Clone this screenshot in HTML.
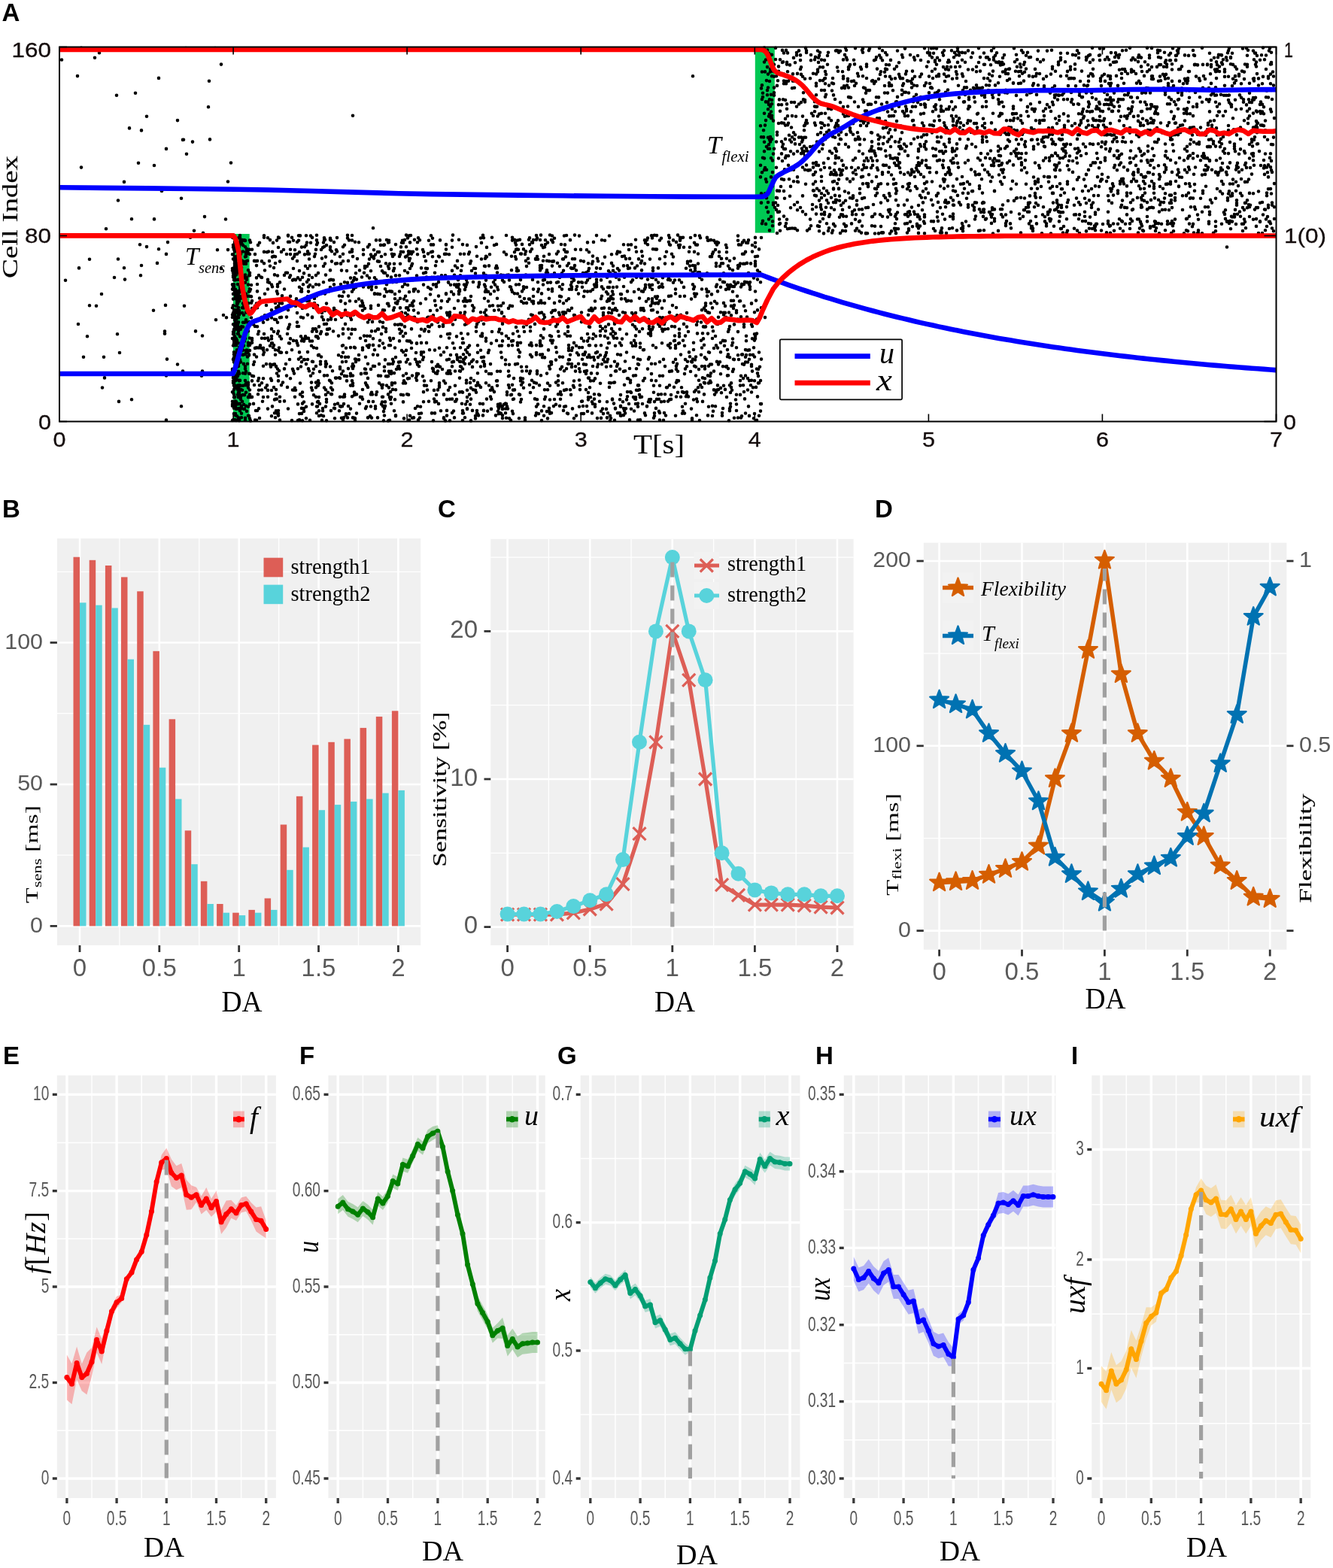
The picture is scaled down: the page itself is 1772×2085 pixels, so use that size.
<!DOCTYPE html>
<html><head><meta charset="utf-8"><title>Figure</title>
<style>html,body{margin:0;padding:0;background:#fff;}svg{display:block;}</style></head>
<body><svg width="1772" height="2085" viewBox="0 0 1772 2085">
<rect width="1772" height="2085" fill="#fff"/>
<rect x="310" y="311" width="21.7" height="249.5" fill="#00c853"/>
<rect x="1003.8" y="62.5" width="26" height="247.1" fill="#00c853"/>
<path d="M221 558.5h0M309 559.0h0M310 558.4h0M312 558.4h0M313 558.4h0M314 558.9h0M318 558.5h0M318 559.1h0M326 558.8h0M333 559.4h0M339 558.5h0M341 558.7h0M372 558.6h0M388 559.1h0M396 559.0h0M398 558.4h0M402 559.2h0M412 558.7h0M428 558.9h0M434 559.3h0M456 558.6h0M472 559.0h0M510 559.2h0M516 559.5h0M518 558.8h0M544 558.5h0M556 558.4h0M576 559.3h0M592 559.4h0M598 559.2h0M615 559.0h0M626 559.4h0M679 558.9h0M698 558.4h0M720 559.1h0M811 559.3h0M817 558.8h0M837 558.4h0M848 558.5h0M851 558.4h0M877 558.5h0M882 558.8h0M920 558.4h0M930 559.0h0M969 559.3h0M1006 558.7h0M317 555.4h0M317 555.5h0M318 555.8h0M321 555.2h0M326 555.7h0M332 556.4h0M345 556.0h0M366 555.3h0M407 556.2h0M445 556.2h0M454 555.7h0M456 556.0h0M457 555.3h0M462 555.4h0M469 555.3h0M469 555.4h0M471 555.7h0M472 556.3h0M489 555.4h0M494 555.6h0M502 555.4h0M537 556.4h0M548 555.8h0M550 555.4h0M558 555.5h0M590 555.4h0M590 556.4h0M604 555.4h0M618 555.3h0M632 556.4h0M668 556.1h0M673 555.7h0M677 556.2h0M690 556.2h0M698 555.5h0M728 556.4h0M763 556.2h0M794 556.1h0M799 555.9h0M807 555.3h0M807 555.6h0M812 556.1h0M869 555.8h0M920 556.4h0M976 555.7h0M981 555.5h0M985 555.5h0M1002 556.3h0M313 552.2h0M315 553.2h0M330 552.7h0M331 553.1h0M361 553.3h0M370 552.6h0M424 553.0h0M427 552.3h0M430 553.2h0M460 552.3h0M492 553.3h0M511 552.5h0M526 552.3h0M526 553.3h0M545 552.8h0M594 552.6h0M632 553.1h0M636 552.4h0M642 552.4h0M659 552.4h0M668 552.3h0M712 552.5h0M723 552.8h0M766 552.6h0M811 552.7h0M825 552.7h0M826 552.6h0M829 552.1h0M858 552.3h0M870 553.0h0M885 552.5h0M898 552.8h0M926 552.2h0M941 552.4h0M947 553.0h0M960 552.8h0M986 553.2h0M996 552.9h0M1009 552.7h0M311 550.1h0M313 550.1h0M321 549.7h0M365 549.2h0M368 549.5h0M369 549.3h0M370 549.8h0M398 550.1h0M401 549.9h0M421 549.2h0M460 550.2h0M464 550.1h0M474 549.6h0M557 550.0h0M560 549.5h0M574 549.4h0M578 549.4h0M601 549.0h0M615 549.5h0M616 549.4h0M634 549.6h0M635 550.2h0M663 550.2h0M665 549.3h0M666 549.9h0M672 549.2h0M682 550.1h0M713 549.3h0M716 550.1h0M731 549.8h0M733 549.1h0M754 549.5h0M755 550.1h0M773 550.0h0M775 550.0h0M776 550.0h0M787 549.4h0M802 550.1h0M808 549.2h0M821 549.3h0M823 549.2h0M824 549.2h0M831 549.4h0M857 549.4h0M870 549.2h0M877 549.0h0M883 549.0h0M907 549.7h0M910 549.6h0M960 549.1h0M991 549.5h0M1003 550.0h0M319 546.3h0M328 546.7h0M340 546.0h0M342 546.0h0M367 546.2h0M370 546.0h0M404 546.9h0M424 546.2h0M429 546.2h0M440 546.1h0M451 546.2h0M510 547.1h0M524 546.2h0M586 546.3h0M594 545.9h0M603 546.5h0M615 546.1h0M628 545.9h0M634 546.0h0M643 545.9h0M643 546.3h0M648 546.6h0M662 546.8h0M681 546.8h0M720 546.4h0M727 547.1h0M730 546.8h0M749 545.9h0M781 547.0h0M799 546.8h0M830 546.1h0M843 546.5h0M876 546.9h0M908 546.6h0M948 546.7h0M970 546.2h0M970 546.1h0M979 546.0h0M1011 546.6h0M311 542.8h0M314 543.7h0M316 543.4h0M319 542.9h0M321 542.9h0M324 543.7h0M325 543.7h0M344 543.2h0M356 543.6h0M383 543.5h0M401 542.9h0M404 543.1h0M429 543.1h0M444 542.8h0M445 543.1h0M466 543.6h0M486 543.1h0M499 543.3h0M511 542.9h0M552 543.0h0M621 543.9h0M621 543.3h0M653 543.9h0M663 543.1h0M668 543.9h0M672 543.5h0M675 543.4h0M730 542.9h0M761 543.4h0M801 543.6h0M806 543.9h0M818 542.8h0M818 543.4h0M829 543.1h0M832 543.2h0M839 543.8h0M839 543.7h0M872 542.9h0M919 543.6h0M961 543.1h0M970 543.3h0M241 540.2h0M309 539.8h0M313 540.0h0M321 540.0h0M327 539.9h0M330 540.8h0M362 540.4h0M407 540.8h0M421 540.5h0M422 540.5h0M433 540.6h0M452 540.0h0M453 540.8h0M455 540.2h0M463 540.0h0M487 540.8h0M493 540.5h0M499 540.3h0M509 539.9h0M512 539.9h0M555 540.3h0M559 540.8h0M662 540.2h0M665 539.9h0M666 540.1h0M668 540.0h0M674 540.4h0M713 540.6h0M723 540.2h0M736 540.1h0M744 539.7h0M750 540.8h0M752 540.3h0M770 540.7h0M775 540.0h0M780 540.1h0M791 540.8h0M825 540.7h0M825 539.7h0M848 540.7h0M860 540.4h0M860 540.1h0M907 540.7h0M942 540.8h0M947 539.8h0M951 540.3h0M971 540.8h0M995 540.4h0M309 537.5h0M310 537.7h0M312 536.9h0M313 536.9h0M315 537.4h0M315 536.6h0M317 537.3h0M318 536.8h0M319 536.9h0M324 537.7h0M332 537.6h0M337 536.9h0M396 537.4h0M402 536.6h0M415 537.4h0M425 536.9h0M445 537.7h0M449 536.6h0M457 537.1h0M478 536.8h0M507 537.4h0M520 536.8h0M583 536.9h0M614 536.8h0M619 537.5h0M625 537.7h0M638 536.8h0M642 537.1h0M662 537.7h0M665 537.0h0M670 537.7h0M672 536.6h0M673 537.0h0M715 537.6h0M739 537.8h0M788 537.0h0M791 537.7h0M816 536.6h0M836 537.0h0M845 537.0h0M848 536.6h0M854 537.0h0M911 536.7h0M971 536.8h0M979 537.5h0M1011 537.1h0M1012 537.1h0M158 533.9h0M309 533.9h0M313 534.4h0M313 533.5h0M313 534.5h0M314 534.3h0M322 533.8h0M349 533.8h0M372 533.8h0M378 533.4h0M404 534.5h0M422 534.6h0M423 533.7h0M434 534.6h0M490 533.9h0M496 534.0h0M508 534.6h0M512 534.4h0M536 534.4h0M563 534.2h0M570 533.8h0M578 534.4h0M580 533.7h0M605 533.7h0M606 533.5h0M621 533.8h0M692 534.5h0M773 533.8h0M774 533.6h0M787 534.3h0M797 533.7h0M807 534.2h0M828 534.3h0M862 534.2h0M864 534.5h0M870 534.1h0M879 534.3h0M883 533.7h0M888 533.6h0M927 534.1h0M934 533.9h0M175 531.3h0M320 530.9h0M365 531.4h0M366 530.7h0M368 530.6h0M434 531.0h0M482 530.8h0M519 530.9h0M525 531.3h0M577 530.5h0M594 531.1h0M598 530.8h0M601 530.6h0M607 531.1h0M626 530.6h0M626 530.7h0M647 530.6h0M653 530.6h0M682 531.0h0M683 530.5h0M693 531.0h0M711 530.4h0M714 531.2h0M724 530.7h0M731 531.5h0M737 531.0h0M745 530.8h0M782 531.5h0M790 530.6h0M814 530.6h0M814 531.4h0M824 531.3h0M833 531.4h0M844 530.5h0M845 531.0h0M863 531.4h0M865 531.1h0M873 530.9h0M876 530.7h0M890 531.4h0M892 530.9h0M922 531.5h0M926 530.5h0M978 531.5h0M990 530.4h0M311 528.2h0M312 528.2h0M312 527.7h0M317 528.2h0M317 527.5h0M318 527.8h0M320 527.5h0M330 528.3h0M330 527.9h0M333 528.2h0M335 527.9h0M350 528.0h0M356 527.7h0M372 527.7h0M392 527.8h0M402 527.2h0M420 527.8h0M424 528.1h0M452 527.8h0M456 527.8h0M458 527.4h0M468 527.3h0M479 527.8h0M479 528.0h0M481 528.1h0M508 527.8h0M509 527.8h0M518 528.4h0M520 528.2h0M621 528.1h0M652 527.5h0M725 527.8h0M782 528.3h0M785 528.2h0M834 527.3h0M842 528.1h0M845 528.3h0M851 528.2h0M853 527.8h0M899 527.5h0M905 527.8h0M912 527.3h0M915 527.4h0M966 528.0h0M1007 527.4h0M311 524.5h0M316 524.8h0M318 525.2h0M319 525.3h0M323 525.1h0M325 525.3h0M332 524.5h0M343 524.3h0M367 524.2h0M399 524.4h0M417 525.3h0M433 524.9h0M440 524.1h0M441 524.3h0M458 524.6h0M471 525.2h0M474 524.4h0M493 524.1h0M493 524.5h0M495 524.5h0M500 524.8h0M516 524.4h0M533 524.7h0M536 525.2h0M541 524.3h0M543 524.9h0M580 525.0h0M590 524.4h0M590 524.9h0M605 524.5h0M624 524.6h0M674 525.0h0M679 525.2h0M680 524.7h0M690 524.4h0M691 525.0h0M691 524.8h0M742 524.3h0M746 524.8h0M759 524.9h0M790 524.3h0M796 524.5h0M797 525.2h0M825 525.0h0M825 525.1h0M850 524.7h0M875 524.6h0M879 524.2h0M884 524.2h0M892 525.0h0M913 525.1h0M936 524.4h0M950 524.6h0M979 524.7h0M984 524.9h0M309 521.3h0M310 521.9h0M317 521.9h0M318 522.0h0M318 521.3h0M327 521.8h0M402 521.6h0M436 521.8h0M471 521.5h0M494 521.7h0M501 521.2h0M519 521.1h0M563 521.2h0M563 521.1h0M611 521.4h0M614 521.0h0M615 521.8h0M633 521.8h0M657 521.1h0M674 521.4h0M705 522.0h0M745 521.1h0M782 522.1h0M834 521.1h0M838 521.1h0M839 522.0h0M869 521.8h0M901 521.8h0M907 521.1h0M909 521.9h0M913 521.4h0M923 521.0h0M929 521.3h0M952 521.4h0M959 522.2h0M971 522.0h0M989 521.0h0M999 521.5h0M311 518.1h0M316 518.0h0M320 517.9h0M322 518.8h0M332 518.5h0M344 518.8h0M348 518.5h0M356 518.9h0M361 519.0h0M367 518.1h0M389 518.5h0M391 518.6h0M393 518.8h0M415 518.8h0M433 518.3h0M442 518.4h0M482 518.0h0M522 517.9h0M526 518.2h0M568 518.5h0M577 518.9h0M582 518.4h0M596 518.8h0M621 518.7h0M629 518.3h0M632 518.9h0M652 518.8h0M655 518.4h0M682 518.6h0M684 518.4h0M724 518.2h0M728 518.2h0M750 518.9h0M753 518.1h0M758 518.3h0M771 518.1h0M779 518.1h0M846 518.8h0M848 519.0h0M850 518.3h0M925 518.8h0M949 518.4h0M953 518.6h0M955 518.1h0M964 517.9h0M973 518.8h0M994 518.5h0M136 515.5h0M312 515.9h0M314 515.5h0M317 515.3h0M317 515.6h0M330 515.6h0M353 515.5h0M364 515.1h0M382 514.9h0M392 515.7h0M414 515.5h0M420 515.3h0M431 515.5h0M440 515.6h0M489 515.0h0M508 515.7h0M517 515.4h0M584 514.8h0M598 515.0h0M626 515.9h0M639 514.9h0M654 515.4h0M677 515.4h0M696 515.8h0M709 515.3h0M763 515.0h0M784 515.2h0M810 514.9h0M886 515.2h0M887 515.1h0M896 514.8h0M906 515.3h0M928 515.2h0M933 515.0h0M958 515.9h0M972 515.0h0M1001 515.2h0M1005 514.9h0M311 512.3h0M311 512.8h0M312 512.4h0M316 512.6h0M318 512.0h0M320 512.7h0M323 512.7h0M326 512.1h0M328 512.2h0M330 511.7h0M338 512.0h0M345 512.2h0M355 512.4h0M374 512.1h0M422 512.7h0M423 512.6h0M466 512.6h0M469 512.7h0M487 511.7h0M488 512.8h0M507 512.0h0M509 511.8h0M514 512.6h0M521 511.8h0M564 512.6h0M567 512.7h0M584 512.6h0M605 512.7h0M633 512.7h0M637 512.5h0M650 512.5h0M661 512.7h0M676 512.0h0M681 511.8h0M693 511.7h0M704 511.8h0M717 512.3h0M731 512.7h0M731 512.7h0M742 512.3h0M762 512.7h0M771 512.2h0M830 511.7h0M848 512.4h0M849 512.4h0M869 512.8h0M877 512.8h0M890 512.2h0M931 511.7h0M954 512.4h0M962 512.7h0M970 512.2h0M984 512.6h0M988 512.2h0M998 512.3h0M310 509.1h0M311 509.2h0M327 509.5h0M330 508.9h0M348 509.3h0M376 508.6h0M399 509.6h0M414 508.6h0M420 508.6h0M424 509.6h0M441 509.3h0M469 509.6h0M486 509.3h0M504 509.4h0M521 509.4h0M525 509.3h0M536 509.5h0M538 508.8h0M539 509.5h0M584 509.3h0M592 509.5h0M620 509.2h0M625 508.9h0M635 508.9h0M646 509.3h0M695 508.6h0M710 508.6h0M713 509.5h0M728 509.6h0M739 508.6h0M748 509.3h0M798 509.7h0M810 509.0h0M812 509.3h0M816 508.7h0M817 508.5h0M838 508.7h0M899 508.6h0M936 508.7h0M937 509.4h0M942 509.4h0M945 508.6h0M972 509.4h0M1008 509.4h0M1009 509.3h0M310 506.6h0M313 505.4h0M313 506.2h0M317 505.5h0M318 506.3h0M318 506.5h0M319 505.9h0M326 506.0h0M335 506.4h0M343 506.2h0M361 505.9h0M370 506.4h0M423 506.4h0M438 505.8h0M439 506.6h0M461 506.4h0M468 506.2h0M537 506.4h0M554 505.8h0M564 506.5h0M573 506.3h0M590 506.5h0M620 505.8h0M620 505.7h0M630 506.1h0M660 506.5h0M661 506.4h0M692 506.5h0M707 505.8h0M742 506.4h0M763 506.5h0M770 505.5h0M785 506.4h0M789 506.3h0M838 505.7h0M855 506.2h0M866 505.7h0M872 506.3h0M900 506.0h0M902 506.4h0M929 505.7h0M944 506.5h0M984 506.1h0M996 506.1h0M999 505.7h0M1003 506.3h0M1011 506.1h0M139 502.4h0M310 502.4h0M313 503.3h0M313 503.0h0M314 502.9h0M314 502.4h0M344 503.0h0M350 503.3h0M360 503.5h0M386 503.3h0M446 502.6h0M447 502.6h0M451 502.4h0M452 503.0h0M489 502.9h0M542 503.4h0M544 503.0h0M553 502.5h0M611 502.6h0M626 503.1h0M683 503.1h0M692 502.9h0M695 503.5h0M782 502.6h0M783 502.6h0M791 503.4h0M834 503.3h0M835 503.3h0M857 503.1h0M934 502.4h0M937 503.2h0M988 503.1h0M994 503.0h0M221 499.5h0M268 499.8h0M310 499.4h0M312 499.2h0M315 499.4h0M315 500.3h0M316 500.3h0M335 499.7h0M337 500.3h0M370 500.0h0M381 499.6h0M413 499.8h0M431 499.4h0M435 499.3h0M458 499.9h0M461 500.3h0M466 499.7h0M469 499.5h0M503 499.6h0M506 499.8h0M513 500.3h0M515 500.4h0M516 500.3h0M536 499.5h0M548 499.5h0M554 499.4h0M562 500.4h0M676 500.3h0M677 499.6h0M719 499.3h0M742 499.6h0M812 499.2h0M842 499.6h0M845 499.2h0M877 499.8h0M881 499.7h0M925 499.5h0M941 499.4h0M944 500.1h0M967 499.4h0M968 499.3h0M985 499.8h0M991 499.5h0M1008 500.1h0M162 496.2h0M310 497.0h0M310 497.1h0M311 497.1h0M316 496.7h0M316 497.2h0M318 497.1h0M318 496.3h0M323 496.3h0M326 496.8h0M326 496.7h0M331 496.7h0M332 497.0h0M368 496.5h0M391 496.6h0M416 496.2h0M454 497.2h0M466 496.7h0M480 496.7h0M480 497.3h0M485 496.3h0M487 496.4h0M518 496.1h0M520 496.9h0M524 496.1h0M540 496.8h0M554 496.9h0M556 497.1h0M579 496.1h0M581 496.7h0M594 496.4h0M596 496.6h0M599 496.8h0M635 496.3h0M650 497.0h0M653 497.1h0M704 496.6h0M714 497.1h0M727 496.6h0M779 497.0h0M786 496.4h0M794 496.6h0M866 497.1h0M910 497.1h0M945 496.2h0M958 497.2h0M1007 496.4h0M243 493.6h0M269 493.5h0M309 493.1h0M317 493.9h0M327 494.0h0M371 493.0h0M390 493.3h0M411 493.3h0M425 494.1h0M442 493.3h0M456 493.5h0M511 493.3h0M517 493.8h0M520 493.7h0M576 493.6h0M582 493.5h0M596 493.2h0M598 493.1h0M605 493.5h0M611 493.3h0M612 493.6h0M646 493.7h0M661 493.8h0M665 493.8h0M676 493.6h0M694 493.5h0M700 493.3h0M705 493.6h0M714 493.7h0M714 493.4h0M750 493.3h0M765 493.6h0M771 494.2h0M777 493.9h0M780 493.1h0M818 493.5h0M819 493.4h0M829 493.9h0M831 493.3h0M890 493.9h0M893 493.4h0M901 493.8h0M918 494.0h0M949 493.6h0M974 493.9h0M1000 493.6h0M309 490.9h0M309 490.8h0M311 490.5h0M326 490.4h0M369 490.6h0M378 490.4h0M389 490.7h0M396 490.3h0M410 490.3h0M417 490.8h0M452 490.5h0M463 490.1h0M469 490.0h0M485 490.6h0M486 491.0h0M493 490.9h0M527 491.0h0M531 490.4h0M575 489.9h0M576 490.5h0M588 491.0h0M615 490.5h0M731 490.5h0M745 490.7h0M753 490.3h0M770 490.3h0M824 490.7h0M837 490.0h0M846 490.3h0M861 490.6h0M899 491.0h0M911 490.4h0M929 491.1h0M937 490.5h0M968 490.1h0M975 491.0h0M1006 490.5h0M1008 490.9h0M314 487.3h0M315 487.1h0M316 487.4h0M317 487.0h0M326 487.2h0M350 486.8h0M360 487.7h0M367 487.6h0M367 487.1h0M400 487.5h0M420 487.0h0M433 487.4h0M439 487.5h0M452 488.0h0M468 487.2h0M470 486.9h0M496 486.9h0M498 487.0h0M511 487.7h0M529 487.7h0M530 486.8h0M557 487.1h0M580 487.2h0M583 487.1h0M585 487.8h0M601 487.2h0M612 487.2h0M613 487.8h0M628 487.9h0M639 487.5h0M644 486.8h0M693 487.8h0M700 487.8h0M730 487.1h0M747 487.9h0M760 487.9h0M765 487.2h0M788 487.0h0M794 487.8h0M806 487.7h0M812 487.0h0M820 487.0h0M884 487.1h0M899 486.9h0M913 487.2h0M923 486.8h0M925 487.7h0M933 487.1h0M937 487.1h0M942 486.8h0M961 487.2h0M965 487.6h0M966 487.1h0M999 486.9h0M1010 487.8h0M236 484.5h0M317 483.9h0M324 483.9h0M329 483.8h0M337 484.7h0M354 484.1h0M359 484.4h0M363 484.7h0M365 484.3h0M380 484.0h0M407 484.1h0M426 484.3h0M433 484.1h0M434 483.9h0M469 484.0h0M489 483.8h0M504 484.1h0M516 484.0h0M518 484.0h0M522 483.8h0M545 484.0h0M555 484.7h0M582 484.7h0M618 483.8h0M624 483.7h0M644 484.4h0M652 484.1h0M672 484.5h0M677 484.7h0M685 484.4h0M688 483.8h0M733 484.5h0M755 483.7h0M756 483.8h0M760 484.0h0M769 483.7h0M776 484.4h0M779 484.7h0M795 484.5h0M800 484.2h0M821 484.1h0M821 484.6h0M848 484.0h0M849 484.7h0M866 483.7h0M871 483.8h0M900 483.9h0M944 484.5h0M946 484.5h0M955 484.5h0M987 484.0h0M989 484.8h0M999 484.8h0M311 481.1h0M311 481.4h0M313 481.1h0M320 481.4h0M320 481.4h0M338 481.2h0M401 481.3h0M415 480.8h0M416 481.0h0M426 480.8h0M433 480.7h0M455 481.3h0M460 480.8h0M473 481.1h0M523 481.0h0M530 481.6h0M532 481.2h0M540 481.5h0M554 481.4h0M558 481.3h0M574 481.1h0M601 481.5h0M603 480.9h0M611 480.8h0M612 480.9h0M616 481.4h0M627 480.7h0M634 481.1h0M642 480.7h0M643 480.5h0M732 481.4h0M733 481.4h0M804 481.2h0M807 481.1h0M817 480.8h0M831 480.5h0M877 481.3h0M895 481.7h0M914 480.8h0M919 480.7h0M920 481.5h0M953 480.9h0M957 481.3h0M991 481.6h0M994 481.5h0M222 477.6h0M310 477.9h0M312 477.9h0M316 477.7h0M316 478.1h0M319 478.4h0M385 478.0h0M397 477.6h0M404 478.1h0M405 478.2h0M409 478.0h0M472 477.5h0M473 477.9h0M477 478.3h0M477 478.4h0M512 478.4h0M522 477.8h0M542 478.0h0M552 477.8h0M562 478.2h0M594 478.5h0M597 477.8h0M608 478.1h0M616 477.7h0M617 477.8h0M629 478.6h0M672 478.5h0M739 478.6h0M756 478.4h0M757 478.2h0M774 477.8h0M790 478.6h0M802 478.2h0M808 477.8h0M848 477.5h0M851 478.2h0M862 477.5h0M882 477.9h0M898 477.9h0M911 478.1h0M921 477.6h0M924 478.5h0M939 477.6h0M975 477.7h0M976 478.1h0M982 478.0h0M996 477.7h0M1012 477.6h0M111 474.8h0M138 474.8h0M311 475.2h0M314 474.4h0M329 474.4h0M341 474.5h0M400 475.0h0M427 474.5h0M454 474.4h0M459 474.8h0M459 475.0h0M463 474.7h0M486 474.8h0M526 475.1h0M563 475.0h0M608 475.4h0M612 475.2h0M619 475.2h0M640 475.3h0M643 474.8h0M667 475.4h0M690 474.4h0M707 474.4h0M721 475.3h0M724 475.4h0M744 474.6h0M748 474.8h0M781 475.0h0M783 474.3h0M785 475.3h0M789 475.0h0M795 475.1h0M804 474.5h0M842 475.0h0M863 475.3h0M917 474.3h0M925 474.5h0M937 475.4h0M967 474.3h0M970 475.3h0M991 474.8h0M1003 474.5h0M311 471.3h0M312 471.5h0M318 471.9h0M318 471.4h0M319 471.8h0M323 471.6h0M323 471.9h0M326 471.2h0M331 472.4h0M331 471.4h0M338 471.5h0M350 471.5h0M366 471.8h0M423 472.4h0M424 471.9h0M450 472.2h0M477 472.0h0M496 471.6h0M502 472.1h0M539 472.3h0M560 471.6h0M586 472.1h0M599 472.0h0M607 471.9h0M616 471.3h0M624 471.6h0M705 471.8h0M713 471.5h0M718 471.6h0M721 471.2h0M758 471.7h0M769 471.9h0M775 471.4h0M777 471.6h0M783 472.1h0M798 472.3h0M805 472.3h0M821 471.3h0M825 471.9h0M905 471.6h0M932 471.7h0M968 471.3h0M981 472.3h0M986 471.5h0M987 471.4h0M992 472.0h0M997 471.7h0M1001 471.9h0M159 469.0h0M311 468.2h0M315 469.1h0M316 468.2h0M317 468.7h0M327 469.2h0M329 468.5h0M351 468.6h0M372 468.5h0M373 468.6h0M374 468.8h0M381 468.7h0M398 468.4h0M409 468.1h0M456 468.8h0M536 468.1h0M553 469.0h0M560 468.2h0M563 468.3h0M590 468.2h0M621 468.6h0M635 468.8h0M649 468.9h0M666 468.5h0M691 468.4h0M713 469.0h0M740 468.5h0M767 469.3h0M778 468.4h0M792 469.2h0M794 468.1h0M806 468.9h0M833 468.5h0M916 468.4h0M942 468.2h0M942 468.2h0M943 468.7h0M958 468.3h0M1009 468.5h0M315 465.2h0M315 465.9h0M316 466.1h0M317 465.7h0M318 465.9h0M322 466.1h0M323 465.8h0M323 465.7h0M327 466.0h0M328 465.6h0M332 466.1h0M350 465.2h0M355 465.3h0M366 465.2h0M370 465.9h0M388 465.3h0M482 465.2h0M498 465.2h0M534 466.0h0M540 465.9h0M571 465.3h0M578 465.6h0M619 465.2h0M639 465.7h0M650 465.7h0M689 465.2h0M729 465.4h0M756 466.0h0M760 466.0h0M855 465.3h0M856 465.1h0M922 465.0h0M967 465.1h0M991 465.1h0M994 465.8h0M996 465.4h0M318 461.9h0M319 462.8h0M319 462.5h0M321 462.4h0M322 461.9h0M339 462.9h0M341 462.4h0M344 462.4h0M347 462.7h0M350 462.7h0M363 462.0h0M371 462.5h0M417 462.3h0M421 463.0h0M460 462.7h0M466 462.1h0M471 461.9h0M472 462.5h0M482 462.5h0M490 461.9h0M511 462.6h0M525 462.5h0M547 463.0h0M584 462.7h0M594 462.2h0M604 463.0h0M612 462.3h0M622 462.0h0M739 461.9h0M756 463.0h0M761 462.6h0M770 462.1h0M774 462.0h0M807 462.8h0M851 461.9h0M872 462.2h0M891 462.5h0M898 463.0h0M898 462.8h0M933 462.5h0M949 463.0h0M954 462.6h0M979 462.3h0M1002 462.3h0M310 459.5h0M312 459.0h0M314 459.1h0M324 459.6h0M330 459.3h0M332 458.9h0M346 459.4h0M359 459.7h0M364 459.0h0M396 459.3h0M414 459.7h0M455 459.8h0M456 459.2h0M488 459.7h0M491 458.9h0M496 458.9h0M504 459.7h0M517 459.3h0M519 459.2h0M624 459.6h0M635 459.3h0M664 459.7h0M667 459.6h0M676 459.4h0M681 459.2h0M688 459.2h0M688 459.0h0M704 458.8h0M707 459.6h0M713 459.1h0M718 459.7h0M720 459.5h0M756 459.0h0M766 459.7h0M783 459.2h0M784 459.3h0M792 459.6h0M799 459.2h0M818 459.7h0M826 459.2h0M841 459.9h0M845 459.9h0M868 459.2h0M888 459.1h0M889 459.7h0M898 459.4h0M910 459.8h0M936 458.8h0M952 459.3h0M963 459.8h0M973 459.3h0M311 456.6h0M313 456.5h0M315 455.7h0M317 456.3h0M330 455.8h0M333 456.6h0M335 455.7h0M361 456.3h0M362 456.4h0M384 456.2h0M385 456.5h0M395 456.3h0M509 456.6h0M547 455.8h0M554 456.3h0M554 456.8h0M560 455.9h0M567 455.9h0M602 456.3h0M615 456.1h0M616 456.0h0M653 456.6h0M688 455.9h0M692 455.7h0M706 456.1h0M718 456.2h0M734 456.1h0M763 455.9h0M809 456.3h0M810 456.0h0M824 456.1h0M839 456.0h0M845 456.6h0M851 456.5h0M880 456.3h0M891 456.8h0M902 456.7h0M903 456.2h0M922 455.7h0M958 455.7h0M974 455.8h0M311 453.3h0M313 452.9h0M314 453.5h0M314 453.6h0M315 452.6h0M315 453.5h0M323 453.3h0M325 453.6h0M335 452.6h0M357 452.6h0M390 452.9h0M394 453.2h0M401 453.2h0M404 453.6h0M412 453.5h0M415 453.5h0M486 453.0h0M486 453.0h0M505 452.8h0M519 452.6h0M531 453.4h0M541 453.3h0M543 453.5h0M545 453.6h0M646 453.6h0M660 452.9h0M668 453.4h0M680 453.6h0M682 453.1h0M718 453.2h0M732 452.6h0M735 452.8h0M776 453.5h0M781 453.6h0M781 453.2h0M843 452.9h0M896 453.3h0M897 452.9h0M908 452.8h0M932 452.7h0M961 452.9h0M962 453.2h0M964 453.2h0M992 453.2h0M1003 452.6h0M309 450.1h0M310 449.9h0M313 449.6h0M313 450.5h0M314 450.4h0M324 449.6h0M325 450.5h0M326 450.0h0M332 449.5h0M335 450.0h0M348 449.8h0M352 449.9h0M356 449.6h0M361 450.5h0M374 450.5h0M374 450.5h0M386 450.4h0M402 450.2h0M406 450.3h0M409 449.7h0M410 449.9h0M423 449.8h0M464 449.5h0M479 449.7h0M496 450.3h0M518 449.5h0M523 450.1h0M597 449.5h0M615 450.2h0M646 449.8h0M676 450.0h0M722 449.4h0M773 449.9h0M783 449.5h0M788 450.3h0M808 449.6h0M816 449.6h0M820 449.7h0M827 450.6h0M935 450.4h0M947 450.0h0M974 450.5h0M1000 450.2h0M1004 450.2h0M116 447.2h0M269 446.5h0M312 447.2h0M312 447.3h0M319 447.4h0M361 447.0h0M372 447.3h0M400 447.3h0M406 447.4h0M420 447.4h0M422 447.5h0M450 446.6h0M484 446.6h0M488 446.8h0M492 446.9h0M536 447.1h0M558 446.8h0M586 447.2h0M607 447.4h0M639 446.8h0M641 447.1h0M673 446.7h0M690 447.3h0M719 446.3h0M731 446.3h0M733 447.3h0M743 447.0h0M754 446.7h0M758 446.7h0M792 447.0h0M798 446.4h0M804 447.1h0M815 447.1h0M845 446.4h0M865 446.3h0M897 446.5h0M903 447.4h0M911 446.6h0M951 447.0h0M992 446.8h0M1004 447.4h0M156 444.2h0M219 443.8h0M219 443.4h0M310 444.2h0M311 443.6h0M311 443.8h0M316 443.8h0M317 444.3h0M327 443.3h0M343 444.3h0M351 444.0h0M369 443.6h0M382 444.0h0M426 443.8h0M434 444.4h0M435 444.2h0M456 443.9h0M467 444.1h0M507 444.1h0M532 443.2h0M539 443.3h0M595 444.3h0M598 443.9h0M613 443.2h0M622 444.1h0M641 443.5h0M667 443.5h0M682 443.7h0M751 444.0h0M781 444.0h0M789 444.3h0M812 444.0h0M818 443.4h0M833 444.2h0M862 443.6h0M865 443.8h0M903 443.4h0M927 443.4h0M934 443.2h0M941 443.6h0M1003 444.3h0M1006 443.6h0M219 440.6h0M260 440.4h0M310 441.2h0M311 440.3h0M317 440.6h0M327 441.0h0M330 440.3h0M344 440.7h0M364 441.0h0M370 440.5h0M415 440.7h0M421 440.8h0M427 441.0h0M427 441.1h0M443 440.5h0M494 440.4h0M499 440.2h0M513 441.0h0M534 440.6h0M564 440.2h0M570 440.8h0M633 440.8h0M654 441.0h0M663 441.2h0M688 440.5h0M697 441.0h0M705 440.3h0M742 440.7h0M755 440.9h0M798 440.2h0M805 440.1h0M815 440.7h0M850 440.9h0M865 440.6h0M881 440.4h0M915 441.0h0M948 440.3h0M968 441.0h0M981 441.1h0M311 438.0h0M312 437.8h0M315 437.7h0M315 437.0h0M318 437.9h0M318 437.2h0M320 437.8h0M361 437.4h0M383 437.0h0M416 437.3h0M417 437.7h0M419 437.3h0M420 437.5h0M435 437.9h0M436 437.9h0M438 437.2h0M456 437.4h0M463 437.6h0M468 437.9h0M472 438.0h0M502 437.6h0M503 437.9h0M503 437.6h0M513 437.0h0M531 437.8h0M547 437.4h0M560 437.7h0M565 438.0h0M664 437.9h0M723 437.4h0M801 437.0h0M813 437.1h0M824 437.8h0M846 437.5h0M854 437.2h0M863 437.3h0M867 437.8h0M880 437.5h0M884 437.8h0M888 437.3h0M903 437.8h0M969 437.9h0M312 433.9h0M313 433.9h0M317 434.7h0M321 434.3h0M323 434.6h0M339 433.9h0M342 434.3h0M384 434.8h0M395 434.0h0M397 434.0h0M424 434.4h0M509 434.9h0M538 434.4h0M569 434.0h0M571 434.5h0M584 434.1h0M589 433.9h0M633 434.7h0M686 435.0h0M696 434.7h0M705 434.8h0M739 434.0h0M739 434.1h0M755 434.3h0M755 434.8h0M783 434.4h0M784 434.9h0M798 433.9h0M805 434.6h0M844 434.4h0M863 434.1h0M868 434.9h0M877 434.0h0M893 434.0h0M897 434.4h0M913 434.6h0M935 434.4h0M937 434.7h0M938 434.4h0M947 434.7h0M970 434.1h0M989 434.7h0M1000 434.0h0M104 431.0h0M310 431.2h0M313 431.7h0M316 431.6h0M316 430.8h0M331 430.8h0M332 431.0h0M337 431.5h0M385 431.5h0M431 431.0h0M434 430.8h0M459 430.9h0M525 431.6h0M529 431.7h0M532 431.3h0M534 431.7h0M574 431.8h0M574 431.8h0M589 431.7h0M602 431.5h0M618 431.7h0M620 430.8h0M634 431.1h0M643 430.7h0M668 430.8h0M700 431.7h0M711 430.9h0M731 431.0h0M741 430.9h0M809 431.4h0M817 430.8h0M841 431.8h0M875 430.9h0M883 431.1h0M909 430.9h0M926 431.9h0M953 430.7h0M954 430.9h0M976 431.4h0M989 431.3h0M999 431.5h0M313 428.7h0M317 428.5h0M317 428.4h0M323 428.7h0M325 428.8h0M329 428.5h0M332 428.0h0M339 427.7h0M350 428.8h0M369 428.7h0M395 428.6h0M489 428.5h0M495 427.9h0M505 427.6h0M509 428.7h0M555 428.0h0M582 428.5h0M622 428.6h0M636 427.7h0M668 428.0h0M686 428.1h0M700 428.8h0M703 428.3h0M722 428.3h0M773 428.1h0M817 428.4h0M879 427.7h0M884 428.0h0M927 427.6h0M932 428.5h0M287 425.3h0M312 425.4h0M313 424.8h0M313 425.3h0M314 424.8h0M327 425.2h0M349 425.3h0M355 424.6h0M356 424.5h0M365 424.7h0M367 425.1h0M430 425.3h0M436 425.4h0M440 424.6h0M446 425.0h0M467 425.0h0M491 424.6h0M540 424.9h0M573 424.5h0M605 424.8h0M640 425.5h0M660 424.8h0M660 424.7h0M703 424.7h0M722 425.2h0M742 424.7h0M745 424.6h0M819 425.0h0M838 425.2h0M843 424.6h0M843 425.5h0M845 425.7h0M854 425.4h0M856 425.5h0M862 424.9h0M875 424.6h0M880 425.5h0M886 425.0h0M913 424.8h0M917 424.8h0M925 424.9h0M944 425.1h0M981 424.6h0M1001 425.5h0M1006 424.5h0M301 422.2h0M309 422.0h0M310 421.7h0M311 421.5h0M311 421.8h0M313 422.5h0M315 421.5h0M315 422.3h0M317 422.4h0M334 422.5h0M348 421.7h0M351 422.4h0M355 421.5h0M361 422.5h0M372 422.3h0M374 421.9h0M381 421.6h0M400 421.8h0M403 422.6h0M415 421.6h0M415 422.2h0M428 421.4h0M440 422.3h0M454 421.7h0M466 422.1h0M485 421.6h0M515 422.5h0M539 422.4h0M548 422.5h0M551 421.7h0M568 422.5h0M569 421.7h0M570 421.9h0M573 421.6h0M598 422.1h0M649 421.9h0M670 421.4h0M724 421.7h0M735 422.0h0M789 422.0h0M877 422.1h0M881 422.4h0M885 422.6h0M896 421.7h0M955 421.8h0M965 421.8h0M985 421.4h0M993 421.6h0M1017 422.1h0M297 419.0h0M309 418.6h0M310 419.4h0M310 418.4h0M312 419.0h0M317 418.3h0M318 418.5h0M324 418.8h0M352 419.3h0M409 418.6h0M461 418.8h0M462 419.4h0M464 418.3h0M470 418.6h0M532 419.3h0M542 418.9h0M576 419.2h0M595 418.9h0M598 418.6h0M617 419.0h0M646 419.4h0M706 418.5h0M708 419.4h0M723 418.5h0M744 418.6h0M749 418.7h0M763 419.1h0M764 419.2h0M782 418.8h0M802 419.2h0M802 418.9h0M823 419.1h0M842 418.5h0M900 419.2h0M905 418.8h0M962 418.5h0M972 419.4h0M310 416.0h0M314 415.3h0M314 415.4h0M315 415.2h0M315 415.7h0M317 415.3h0M319 416.3h0M322 416.0h0M327 415.4h0M332 415.2h0M335 415.6h0M395 416.1h0M428 415.9h0M446 416.0h0M508 415.4h0M534 415.5h0M539 416.2h0M556 416.2h0M594 415.9h0M598 415.2h0M612 416.0h0M618 415.3h0M618 415.4h0M639 415.2h0M644 415.5h0M667 416.4h0M667 415.3h0M717 416.3h0M720 415.6h0M733 415.6h0M743 415.7h0M748 415.2h0M750 415.4h0M752 415.9h0M773 415.5h0M802 416.0h0M809 415.8h0M813 416.3h0M828 415.2h0M831 416.0h0M840 416.0h0M845 416.1h0M874 415.3h0M890 415.4h0M913 416.1h0M941 415.4h0M943 416.0h0M958 415.3h0M962 415.9h0M964 415.9h0M969 415.5h0M979 415.8h0M1003 415.2h0M204 412.8h0M311 413.1h0M312 412.4h0M314 412.4h0M315 412.3h0M318 413.0h0M361 412.4h0M368 412.9h0M369 412.8h0M370 412.1h0M383 412.2h0M432 413.1h0M444 412.3h0M446 412.7h0M459 412.5h0M482 412.7h0M509 412.2h0M511 412.5h0M523 412.4h0M543 412.3h0M550 412.6h0M572 413.0h0M581 412.6h0M629 413.2h0M646 412.2h0M657 412.8h0M663 412.1h0M735 413.1h0M738 412.6h0M755 412.4h0M757 413.0h0M783 412.6h0M785 412.5h0M787 413.2h0M788 412.4h0M814 412.2h0M816 412.1h0M820 412.7h0M852 412.3h0M856 413.0h0M866 412.5h0M868 412.3h0M933 412.2h0M938 412.9h0M979 413.1h0M991 413.2h0M1007 412.4h0M309 409.2h0M317 409.1h0M322 409.2h0M324 409.5h0M335 410.0h0M342 409.2h0M367 409.4h0M371 409.4h0M402 410.0h0M417 409.0h0M444 409.7h0M485 410.1h0M493 410.0h0M524 409.3h0M532 409.4h0M540 409.4h0M542 409.2h0M586 409.4h0M604 410.0h0M630 409.2h0M676 409.9h0M760 409.8h0M786 409.9h0M791 409.7h0M800 410.0h0M803 409.6h0M810 409.9h0M818 410.0h0M852 410.0h0M855 410.1h0M880 409.8h0M899 409.0h0M936 409.6h0M947 409.4h0M975 409.9h0M1012 409.2h0M119 406.2h0M128 406.8h0M220 405.9h0M245 406.7h0M310 406.3h0M314 407.0h0M315 406.6h0M324 406.9h0M339 406.9h0M354 406.0h0M370 406.8h0M384 406.4h0M393 406.9h0M413 406.1h0M422 406.3h0M479 406.7h0M482 406.9h0M483 406.5h0M493 406.7h0M503 405.9h0M517 406.8h0M545 406.3h0M549 406.7h0M579 406.1h0M618 407.0h0M628 406.3h0M651 406.9h0M655 406.2h0M662 406.7h0M666 406.5h0M678 406.6h0M681 407.0h0M865 406.5h0M894 406.1h0M938 406.5h0M964 406.9h0M972 406.9h0M976 405.9h0M989 406.9h0M315 403.4h0M316 403.5h0M323 403.4h0M326 403.0h0M330 403.3h0M334 402.7h0M341 403.6h0M366 403.0h0M372 403.3h0M375 403.4h0M418 403.0h0M434 403.6h0M459 403.6h0M482 403.0h0M515 403.8h0M516 403.9h0M526 402.8h0M528 403.7h0M548 402.9h0M559 403.5h0M669 403.1h0M696 403.0h0M700 402.9h0M709 403.5h0M716 402.9h0M720 402.8h0M724 403.1h0M737 402.9h0M749 403.2h0M815 403.3h0M867 403.3h0M871 403.4h0M874 402.9h0M875 403.6h0M938 403.2h0M945 403.2h0M953 403.5h0M962 402.9h0M999 403.4h0M999 403.7h0M315 400.1h0M316 400.0h0M318 400.4h0M335 400.0h0M370 400.6h0M386 400.4h0M393 400.7h0M408 400.1h0M411 399.7h0M453 400.6h0M453 400.0h0M465 400.2h0M473 400.7h0M481 400.2h0M529 400.4h0M541 400.0h0M550 400.3h0M578 399.9h0M587 400.1h0M595 400.7h0M609 399.9h0M616 400.6h0M619 400.4h0M620 399.8h0M621 400.6h0M624 399.9h0M625 399.9h0M649 400.5h0M693 400.7h0M707 400.7h0M709 400.7h0M719 399.8h0M744 400.6h0M753 399.7h0M791 400.5h0M807 400.8h0M808 399.7h0M810 399.6h0M833 400.4h0M835 399.8h0M839 400.3h0M859 400.8h0M867 400.8h0M877 400.1h0M883 399.9h0M950 400.8h0M972 399.8h0M975 399.8h0M983 400.5h0M984 400.2h0M1005 399.6h0M310 397.6h0M313 396.9h0M314 397.6h0M318 397.6h0M320 396.7h0M324 397.3h0M324 397.5h0M345 396.5h0M374 397.0h0M394 397.2h0M418 397.0h0M477 397.6h0M525 397.2h0M532 396.9h0M537 397.6h0M566 397.4h0M597 397.7h0M618 396.9h0M644 396.8h0M661 396.7h0M697 397.1h0M703 397.6h0M704 397.6h0M730 396.7h0M756 397.2h0M799 397.2h0M809 397.6h0M811 397.4h0M813 396.8h0M815 397.5h0M826 397.4h0M831 397.4h0M850 396.6h0M862 397.4h0M867 397.3h0M873 396.9h0M919 397.6h0M313 394.3h0M314 394.4h0M316 394.5h0M317 393.5h0M320 394.2h0M321 394.6h0M327 394.3h0M328 394.1h0M331 393.7h0M333 394.0h0M334 394.4h0M375 393.4h0M386 393.9h0M409 394.3h0M417 394.5h0M421 393.5h0M451 393.5h0M455 394.0h0M463 393.6h0M511 393.9h0M539 393.7h0M583 393.6h0M626 394.1h0M691 394.3h0M709 394.0h0M744 393.9h0M746 394.5h0M776 394.2h0M800 393.7h0M812 394.4h0M871 394.5h0M874 394.2h0M889 393.9h0M892 393.5h0M904 394.0h0M910 393.8h0M924 394.3h0M940 393.6h0M980 393.8h0M135 391.0h0M310 390.9h0M311 390.3h0M312 390.4h0M312 391.0h0M314 391.4h0M317 390.7h0M327 390.9h0M352 390.7h0M369 390.6h0M432 390.6h0M498 390.3h0M498 390.9h0M502 390.9h0M505 391.3h0M525 391.1h0M572 391.5h0M593 391.1h0M593 390.3h0M603 391.4h0M610 391.0h0M610 390.8h0M652 391.0h0M684 390.3h0M688 390.5h0M720 390.4h0M769 390.6h0M808 390.9h0M815 391.4h0M825 391.1h0M826 391.3h0M898 390.4h0M923 390.6h0M926 390.7h0M946 391.4h0M312 387.3h0M315 387.8h0M316 388.2h0M316 387.3h0M317 387.3h0M319 388.1h0M324 387.8h0M331 387.7h0M332 387.2h0M342 387.4h0M368 387.4h0M400 387.4h0M401 387.7h0M410 387.6h0M437 387.4h0M457 388.2h0M468 387.8h0M514 387.9h0M518 387.2h0M520 387.6h0M521 387.9h0M531 387.5h0M544 388.3h0M550 387.3h0M556 387.5h0M600 388.0h0M610 387.4h0M611 387.3h0M645 387.9h0M648 387.9h0M649 387.8h0M657 387.3h0M681 388.0h0M694 387.4h0M715 387.7h0M734 387.3h0M777 387.2h0M781 387.6h0M785 387.3h0M806 388.3h0M814 387.5h0M834 387.4h0M843 388.0h0M853 387.3h0M855 387.8h0M940 388.3h0M942 387.8h0M954 387.4h0M974 387.8h0M1004 387.5h0M309 384.6h0M310 384.9h0M313 384.7h0M319 384.9h0M332 384.2h0M333 384.7h0M356 384.5h0M378 384.5h0M401 384.4h0M470 384.6h0M470 384.2h0M494 385.1h0M512 384.2h0M550 384.9h0M552 384.5h0M572 384.0h0M573 384.5h0M611 385.2h0M618 385.1h0M646 385.1h0M662 385.2h0M680 385.2h0M696 384.3h0M709 384.6h0M716 384.5h0M729 384.7h0M734 384.4h0M747 384.6h0M757 384.8h0M760 384.7h0M766 385.0h0M788 385.0h0M802 384.3h0M849 384.7h0M857 384.4h0M867 384.9h0M898 384.6h0M922 384.3h0M933 384.5h0M939 384.5h0M965 384.9h0M969 384.3h0M997 384.8h0M310 381.0h0M311 381.0h0M319 381.6h0M362 381.2h0M369 381.1h0M398 381.8h0M410 381.4h0M416 381.5h0M439 382.0h0M473 382.0h0M483 381.4h0M490 382.1h0M494 381.1h0M500 382.0h0M535 381.3h0M569 382.0h0M580 381.2h0M607 381.4h0M609 382.0h0M619 381.4h0M636 381.2h0M636 381.4h0M645 380.9h0M653 381.8h0M661 381.7h0M678 381.2h0M679 381.7h0M696 381.3h0M700 382.0h0M744 381.2h0M760 381.6h0M767 381.0h0M774 381.7h0M791 381.5h0M793 381.2h0M800 381.4h0M808 382.0h0M810 382.1h0M815 382.0h0M820 381.6h0M829 381.0h0M858 381.9h0M864 381.9h0M876 382.1h0M877 381.4h0M881 381.7h0M909 381.9h0M923 381.4h0M952 381.1h0M958 381.8h0M968 382.1h0M970 381.5h0M974 380.9h0M976 381.0h0M985 381.5h0M997 381.3h0M309 378.4h0M311 378.3h0M316 378.1h0M322 378.2h0M330 378.5h0M334 379.0h0M342 378.0h0M361 378.5h0M369 378.2h0M403 378.2h0M412 379.0h0M420 378.3h0M424 378.6h0M444 378.4h0M453 378.1h0M481 378.4h0M514 378.3h0M538 377.9h0M542 379.0h0M563 378.6h0M576 378.4h0M580 378.0h0M599 378.7h0M604 378.6h0M607 378.6h0M610 378.4h0M617 378.5h0M620 378.4h0M637 378.0h0M644 378.6h0M658 378.6h0M686 378.5h0M690 378.3h0M722 378.5h0M748 378.3h0M759 379.0h0M790 378.6h0M792 378.6h0M793 378.9h0M858 378.7h0M863 378.8h0M867 378.8h0M880 377.8h0M921 378.3h0M953 378.6h0M967 378.9h0M971 378.9h0M978 377.8h0M986 377.9h0M987 378.6h0M989 378.0h0M996 378.2h0M323 375.7h0M326 375.8h0M356 375.0h0M358 375.8h0M372 375.4h0M408 374.9h0M430 375.3h0M458 375.3h0M462 375.9h0M468 375.6h0M501 375.0h0M522 375.2h0M527 375.0h0M583 375.1h0M596 375.3h0M596 375.6h0M621 375.8h0M629 375.0h0M637 375.6h0M656 375.2h0M670 374.9h0M715 375.3h0M728 375.7h0M732 375.6h0M740 375.7h0M742 375.0h0M760 375.3h0M769 375.4h0M773 375.2h0M774 375.7h0M779 375.7h0M793 375.4h0M811 374.9h0M839 375.1h0M875 375.6h0M895 375.7h0M906 375.5h0M961 374.9h0M963 375.2h0M976 374.9h0M981 375.7h0M990 374.9h0M993 375.4h0M997 375.3h0M1011 375.2h0M87 372.7h0M166 371.6h0M311 372.2h0M312 372.5h0M312 372.5h0M313 372.3h0M316 372.0h0M317 371.7h0M328 371.8h0M356 371.7h0M389 372.6h0M390 371.9h0M392 371.9h0M393 372.2h0M399 372.0h0M410 372.0h0M438 372.5h0M440 371.9h0M440 372.0h0M443 372.4h0M470 372.8h0M474 371.6h0M500 372.1h0M549 372.1h0M556 371.7h0M609 372.2h0M620 372.1h0M646 372.6h0M658 371.8h0M668 372.7h0M677 372.4h0M692 372.1h0M708 371.9h0M722 372.6h0M724 372.0h0M763 372.8h0M763 372.3h0M781 372.6h0M793 371.8h0M799 372.4h0M823 371.8h0M841 372.4h0M861 371.6h0M872 372.0h0M888 372.0h0M891 372.4h0M897 372.5h0M903 372.2h0M933 371.7h0M957 371.7h0M1007 371.6h0M152 369.0h0M310 368.6h0M312 368.8h0M323 369.0h0M325 369.6h0M328 369.3h0M341 369.4h0M347 368.6h0M348 369.0h0M385 368.7h0M396 369.4h0M402 368.7h0M415 369.0h0M466 369.6h0M471 369.2h0M481 368.5h0M491 369.6h0M498 369.2h0M520 368.6h0M567 368.6h0M574 369.3h0M574 368.9h0M577 369.0h0M577 368.7h0M582 368.6h0M583 368.7h0M596 368.6h0M628 369.0h0M633 368.8h0M666 368.5h0M691 368.6h0M744 369.0h0M760 369.5h0M762 368.6h0M784 369.2h0M807 368.8h0M819 368.7h0M830 368.8h0M846 368.8h0M852 369.3h0M853 369.4h0M866 368.8h0M868 369.1h0M881 369.3h0M889 369.0h0M930 368.8h0M1002 369.6h0M187 366.3h0M310 366.6h0M312 366.3h0M314 365.5h0M319 365.6h0M326 365.6h0M331 366.2h0M332 366.2h0M344 366.1h0M365 365.4h0M369 366.5h0M378 365.9h0M386 366.2h0M411 366.1h0M420 366.1h0M433 365.6h0M488 366.5h0M515 366.6h0M526 366.4h0M531 366.3h0M554 366.5h0M587 366.4h0M592 366.3h0M604 365.7h0M612 366.3h0M646 366.4h0M666 365.6h0M669 366.1h0M674 365.8h0M676 365.6h0M699 365.6h0M733 365.8h0M767 365.7h0M773 365.8h0M773 365.9h0M782 365.4h0M818 365.8h0M818 366.5h0M822 365.7h0M823 365.5h0M845 366.1h0M858 365.7h0M864 366.5h0M873 366.6h0M912 365.5h0M947 365.4h0M969 366.3h0M991 366.0h0M310 362.7h0M310 363.1h0M312 363.2h0M315 363.0h0M332 362.9h0M380 362.7h0M382 362.7h0M404 363.4h0M423 363.1h0M473 363.2h0M484 362.8h0M510 362.6h0M512 363.0h0M542 362.6h0M563 363.3h0M566 362.4h0M578 362.7h0M632 363.5h0M643 363.2h0M661 362.5h0M726 362.5h0M727 362.8h0M728 362.8h0M737 363.4h0M747 363.3h0M775 363.0h0M779 362.6h0M792 362.7h0M811 362.9h0M818 363.0h0M921 362.5h0M928 362.3h0M930 362.3h0M940 363.3h0M962 363.4h0M995 363.0h0M1010 362.3h0M309 359.8h0M310 359.7h0M312 359.3h0M315 360.1h0M317 359.3h0M319 360.2h0M330 359.2h0M352 359.5h0M398 360.1h0M439 359.4h0M454 359.6h0M461 360.1h0M478 359.5h0M493 360.3h0M508 360.2h0M523 360.3h0M523 359.7h0M538 360.0h0M601 359.9h0M613 359.9h0M627 360.0h0M680 359.2h0M687 360.2h0M688 360.1h0M689 359.9h0M718 359.4h0M727 359.4h0M749 359.8h0M766 359.5h0M782 360.3h0M809 360.3h0M815 359.8h0M823 359.6h0M853 359.4h0M868 360.1h0M918 359.2h0M924 359.7h0M974 359.3h0M1007 359.6h0M105 356.4h0M165 356.2h0M294 356.9h0M309 357.0h0M311 356.2h0M315 357.0h0M316 357.2h0M321 356.0h0M364 356.1h0M390 357.0h0M409 357.0h0M485 356.4h0M517 357.1h0M524 356.9h0M545 357.0h0M560 356.4h0M566 356.7h0M568 357.1h0M608 356.3h0M630 356.8h0M632 357.0h0M659 356.4h0M661 356.4h0M687 356.6h0M718 356.2h0M720 356.5h0M759 356.2h0M760 356.9h0M762 356.8h0M763 356.3h0M783 357.1h0M793 356.6h0M793 356.4h0M798 357.0h0M821 357.0h0M835 356.9h0M837 356.5h0M844 356.4h0M868 356.3h0M875 356.4h0M912 356.8h0M924 356.5h0M970 357.2h0M981 356.7h0M188 353.0h0M312 353.1h0M314 354.1h0M315 353.4h0M341 353.1h0M359 353.8h0M406 353.7h0M412 353.5h0M419 353.5h0M430 354.0h0M473 354.0h0M485 354.1h0M488 354.0h0M506 354.0h0M516 354.1h0M516 353.9h0M547 353.4h0M579 353.2h0M605 353.5h0M614 353.2h0M644 353.8h0M645 354.1h0M650 353.4h0M660 353.6h0M700 354.1h0M718 353.4h0M720 353.0h0M734 353.6h0M744 354.1h0M754 353.3h0M764 353.1h0M815 353.6h0M829 353.4h0M834 353.3h0M847 353.5h0M917 353.6h0M921 353.0h0M924 353.3h0M952 354.0h0M957 353.9h0M968 353.6h0M981 353.0h0M983 353.7h0M1004 353.4h0M209 349.9h0M312 350.1h0M312 350.4h0M312 350.7h0M314 350.1h0M315 350.1h0M316 350.0h0M324 350.7h0M327 350.8h0M351 350.3h0M366 350.0h0M432 350.6h0M446 350.6h0M448 350.2h0M453 350.8h0M453 350.3h0M490 350.7h0M513 350.2h0M518 350.7h0M524 350.7h0M532 350.7h0M548 350.8h0M625 350.3h0M703 349.8h0M741 349.8h0M756 350.3h0M782 350.2h0M787 350.7h0M801 350.7h0M813 349.9h0M840 350.1h0M852 349.8h0M857 350.6h0M884 350.6h0M894 350.7h0M914 350.1h0M928 350.5h0M952 350.0h0M959 350.2h0M961 350.2h0M984 350.5h0M988 350.7h0M990 350.7h0M993 349.9h0M998 350.4h0M1004 350.9h0M312 347.4h0M313 347.8h0M319 347.1h0M322 346.9h0M326 347.8h0M327 347.7h0M329 346.7h0M338 346.9h0M340 347.1h0M342 346.9h0M348 347.4h0M358 347.1h0M372 347.6h0M395 347.1h0M441 347.6h0M456 347.3h0M463 346.9h0M502 347.4h0M504 347.8h0M544 346.7h0M566 347.0h0M580 347.7h0M588 347.3h0M608 346.9h0M626 347.2h0M699 346.9h0M722 346.7h0M727 346.8h0M730 347.3h0M734 347.6h0M736 347.4h0M772 346.8h0M776 347.6h0M788 347.8h0M795 347.2h0M853 347.1h0M914 347.8h0M918 347.3h0M970 346.8h0M1004 347.6h0M119 344.7h0M157 344.5h0M310 344.4h0M311 344.5h0M311 344.7h0M312 344.5h0M314 344.6h0M315 344.2h0M315 344.2h0M315 344.6h0M318 344.1h0M389 343.7h0M411 344.5h0M428 343.6h0M475 344.1h0M491 344.6h0M497 343.6h0M544 343.9h0M545 343.7h0M640 344.5h0M645 343.8h0M686 344.4h0M702 343.7h0M712 344.7h0M712 344.1h0M713 344.8h0M715 344.7h0M748 344.5h0M749 344.4h0M761 344.2h0M764 344.2h0M794 343.7h0M832 344.1h0M837 343.9h0M849 344.4h0M864 344.6h0M877 344.2h0M959 343.8h0M959 344.0h0M966 343.7h0M976 343.6h0M312 341.3h0M315 340.8h0M318 340.7h0M326 341.4h0M327 340.9h0M362 341.6h0M364 340.7h0M366 341.3h0M391 341.2h0M418 341.1h0M433 341.6h0M452 341.3h0M469 341.1h0M494 341.2h0M497 341.0h0M507 341.0h0M522 340.9h0M531 341.0h0M539 341.6h0M541 340.5h0M564 340.9h0M575 341.2h0M583 340.8h0M584 341.5h0M634 340.8h0M646 340.9h0M647 341.5h0M680 340.8h0M685 341.3h0M714 341.0h0M723 340.7h0M752 341.5h0M788 340.6h0M804 341.7h0M827 341.0h0M830 340.5h0M854 340.6h0M884 341.3h0M895 341.5h0M944 341.2h0M946 341.2h0M956 340.8h0M1004 341.3h0M1007 340.7h0M221 337.9h0M309 338.2h0M310 338.5h0M318 337.7h0M320 337.8h0M327 338.1h0M331 337.4h0M332 338.0h0M339 338.1h0M381 338.0h0M386 338.1h0M392 338.3h0M395 337.7h0M405 338.4h0M409 337.6h0M411 337.6h0M419 337.8h0M445 337.8h0M456 337.8h0M483 338.4h0M493 338.5h0M499 338.5h0M512 338.2h0M521 337.7h0M524 338.4h0M532 338.2h0M543 338.0h0M547 337.6h0M555 338.2h0M569 337.4h0M591 337.9h0M593 337.7h0M597 338.3h0M612 337.7h0M617 337.7h0M623 337.8h0M651 338.3h0M673 338.4h0M692 337.5h0M693 337.6h0M698 338.0h0M730 338.1h0M740 337.6h0M813 338.3h0M820 337.4h0M893 337.7h0M928 337.5h0M947 337.8h0M987 337.7h0M989 337.6h0M312 334.6h0M312 334.3h0M319 335.0h0M323 334.5h0M327 335.4h0M329 334.4h0M351 334.9h0M355 335.3h0M357 334.5h0M362 334.9h0M374 334.9h0M398 335.3h0M409 334.3h0M441 334.3h0M448 334.4h0M465 335.2h0M468 334.6h0M502 335.1h0M504 335.1h0M533 334.7h0M536 335.0h0M543 334.4h0M546 334.7h0M549 334.7h0M563 334.9h0M573 335.2h0M575 334.6h0M624 335.3h0M670 335.2h0M684 335.2h0M699 334.4h0M705 334.4h0M742 334.6h0M752 334.9h0M754 335.1h0M783 335.2h0M821 334.6h0M824 335.2h0M846 334.7h0M853 334.4h0M886 334.8h0M916 334.7h0M923 334.9h0M948 335.3h0M956 335.1h0M966 335.3h0M991 334.9h0M1000 334.6h0M211 331.2h0M289 332.3h0M303 332.1h0M311 331.8h0M312 331.8h0M312 332.2h0M313 331.3h0M315 331.9h0M328 332.2h0M328 331.1h0M331 332.1h0M332 331.8h0M335 331.8h0M377 332.0h0M386 331.7h0M392 332.3h0M420 331.9h0M427 332.0h0M439 332.1h0M447 332.2h0M468 331.7h0M483 332.1h0M497 332.3h0M497 332.2h0M520 331.7h0M554 331.3h0M562 332.0h0M593 331.6h0M686 331.9h0M687 331.3h0M689 331.8h0M696 331.4h0M707 331.2h0M750 332.1h0M765 331.7h0M772 331.9h0M780 332.3h0M836 332.0h0M868 331.2h0M871 331.5h0M873 331.6h0M951 332.1h0M1009 331.4h0M195 328.1h0M310 328.8h0M312 328.7h0M313 328.9h0M315 328.9h0M317 328.6h0M318 328.1h0M326 328.2h0M370 329.0h0M401 328.6h0M405 328.3h0M429 329.2h0M431 328.0h0M439 328.4h0M456 328.2h0M489 328.4h0M533 328.4h0M540 328.2h0M601 328.7h0M633 328.1h0M647 328.9h0M722 329.1h0M724 328.5h0M845 328.7h0M903 328.3h0M903 329.2h0M909 328.7h0M917 328.7h0M966 329.2h0M1004 328.3h0M1631 328.5h0M186 325.3h0M310 325.8h0M312 325.0h0M318 325.0h0M322 325.1h0M323 326.1h0M343 325.9h0M407 326.0h0M421 325.2h0M434 326.1h0M458 325.7h0M491 325.4h0M506 325.9h0M510 325.9h0M511 325.6h0M526 325.1h0M573 325.4h0M576 325.4h0M593 325.4h0M593 325.0h0M615 325.1h0M621 325.9h0M657 326.0h0M660 324.9h0M686 325.6h0M694 324.9h0M704 325.2h0M720 326.1h0M725 325.0h0M746 325.0h0M751 325.4h0M829 325.3h0M835 325.5h0M839 325.4h0M861 325.3h0M890 325.1h0M891 325.7h0M902 326.0h0M904 325.8h0M925 325.4h0M927 325.6h0M953 325.5h0M965 325.7h0M982 325.4h0M985 325.5h0M1000 326.0h0M223 322.1h0M312 322.1h0M315 323.0h0M316 322.9h0M318 322.6h0M321 322.2h0M333 322.2h0M345 322.7h0M363 322.9h0M383 321.8h0M385 321.8h0M395 321.8h0M408 322.6h0M413 322.8h0M422 322.9h0M430 322.5h0M444 322.1h0M472 321.8h0M477 322.2h0M516 322.4h0M517 322.2h0M534 322.8h0M536 322.7h0M545 322.4h0M555 322.3h0M640 322.9h0M685 322.7h0M707 322.0h0M708 322.8h0M728 322.6h0M735 322.1h0M781 322.4h0M781 322.2h0M789 321.9h0M858 322.9h0M889 321.8h0M899 321.9h0M923 322.8h0M951 322.7h0M953 321.8h0M955 322.8h0M987 322.4h0M992 322.8h0M994 322.2h0M994 323.0h0M1004 322.7h0M313 319.8h0M320 319.6h0M322 319.1h0M325 319.9h0M325 319.2h0M326 319.9h0M332 319.5h0M359 319.1h0M368 319.6h0M390 319.7h0M397 319.7h0M421 319.4h0M431 319.4h0M432 318.8h0M439 318.8h0M440 319.5h0M464 319.4h0M468 319.5h0M500 319.4h0M505 319.4h0M514 319.0h0M517 319.7h0M535 319.8h0M538 319.0h0M551 318.8h0M558 319.3h0M570 319.8h0M585 319.4h0M601 319.6h0M610 318.7h0M681 319.6h0M684 318.8h0M688 319.5h0M691 318.7h0M703 318.7h0M709 319.1h0M713 318.7h0M718 319.0h0M725 319.2h0M733 319.1h0M734 319.7h0M758 319.3h0M758 319.0h0M800 319.2h0M804 319.7h0M845 318.8h0M857 319.4h0M860 319.1h0M877 319.5h0M895 319.4h0M904 318.8h0M904 319.7h0M941 319.8h0M942 319.6h0M945 319.1h0M949 319.7h0M981 319.7h0M989 319.8h0M995 319.4h0M253 315.7h0M309 315.7h0M310 316.3h0M313 316.2h0M317 316.5h0M318 316.2h0M318 315.9h0M319 315.7h0M351 315.7h0M356 316.3h0M370 315.6h0M371 316.2h0M388 315.7h0M415 315.9h0M431 316.2h0M439 316.7h0M448 316.1h0M462 316.6h0M542 316.5h0M556 316.4h0M575 316.7h0M639 316.5h0M643 316.3h0M654 315.8h0M681 315.8h0M704 316.2h0M714 316.4h0M737 316.8h0M861 316.5h0M867 316.4h0M879 316.7h0M890 316.0h0M890 316.1h0M904 315.9h0M906 316.1h0M908 315.8h0M918 316.0h0M931 316.2h0M940 315.7h0M940 316.2h0M1004 315.9h0M1012 316.0h0M309 312.6h0M310 312.9h0M311 312.9h0M319 313.0h0M351 313.2h0M383 312.9h0M383 313.6h0M397 313.2h0M399 313.4h0M407 313.2h0M413 313.6h0M421 312.8h0M462 312.7h0M468 313.0h0M540 312.6h0M544 313.4h0M546 313.0h0M573 313.3h0M602 312.6h0M642 312.9h0M673 313.0h0M713 313.0h0M719 312.6h0M731 312.5h0M734 313.5h0M750 313.5h0M753 313.0h0M764 312.6h0M770 313.6h0M793 313.1h0M810 313.5h0M866 313.2h0M867 313.5h0M870 312.7h0M873 313.1h0M889 313.0h0M901 312.6h0M924 313.1h0M930 313.5h0M981 313.6h0M270 309.9h0M1033 310.0h0M1095 310.4h0M1106 309.5h0M1117 310.0h0M1145 309.6h0M1151 310.5h0M1151 310.1h0M1153 310.2h0M1163 310.5h0M1168 310.4h0M1172 309.4h0M1174 309.4h0M1183 310.5h0M1191 310.2h0M1191 310.0h0M1206 309.5h0M1221 309.9h0M1229 310.3h0M1250 309.5h0M1252 309.4h0M1258 310.1h0M1320 310.5h0M1357 309.5h0M1385 310.3h0M1397 310.5h0M1413 309.5h0M1418 309.5h0M1435 310.1h0M1471 309.4h0M1471 310.5h0M1476 309.7h0M1513 309.5h0M1541 310.4h0M1557 310.1h0M1557 310.1h0M1574 310.3h0M1587 309.5h0M1592 310.1h0M1593 309.5h0M1598 310.3h0M1613 309.8h0M1673 310.0h0M1678 310.0h0M258 306.8h0M1023 306.4h0M1037 306.8h0M1060 306.3h0M1073 306.6h0M1089 307.2h0M1101 307.0h0M1107 306.5h0M1120 306.9h0M1124 307.1h0M1137 306.7h0M1142 307.2h0M1185 307.4h0M1190 306.3h0M1208 306.3h0M1243 307.0h0M1251 306.8h0M1272 306.4h0M1280 307.2h0M1301 306.9h0M1303 306.5h0M1308 306.3h0M1327 306.9h0M1373 306.9h0M1419 306.8h0M1432 306.6h0M1444 307.4h0M1456 306.2h0M1464 306.5h0M1481 306.8h0M1493 307.3h0M1519 306.3h0M1520 307.1h0M1536 307.0h0M1549 306.3h0M1560 307.2h0M1577 306.3h0M1579 307.3h0M1593 306.4h0M1616 307.3h0M1652 307.0h0M1682 306.3h0M1693 307.2h0M141 304.2h0M496 303.2h0M1047 304.2h0M1050 303.8h0M1053 303.5h0M1056 303.7h0M1057 303.9h0M1076 304.2h0M1102 303.2h0M1139 303.8h0M1189 303.7h0M1191 304.0h0M1194 304.3h0M1208 304.2h0M1221 303.5h0M1241 304.0h0M1252 303.4h0M1262 304.0h0M1266 303.3h0M1278 303.9h0M1280 303.4h0M1344 303.4h0M1371 303.5h0M1373 303.7h0M1410 304.1h0M1411 304.0h0M1428 303.7h0M1448 303.7h0M1452 304.0h0M1455 303.5h0M1489 303.8h0M1502 304.0h0M1515 303.6h0M1529 303.1h0M1537 303.2h0M1636 304.2h0M1656 303.3h0M1691 303.5h0M1027 300.3h0M1044 300.9h0M1078 300.3h0M1087 300.4h0M1089 301.1h0M1110 300.6h0M1124 301.1h0M1125 300.4h0M1146 300.6h0M1159 300.3h0M1163 300.8h0M1171 301.1h0M1213 301.2h0M1219 300.6h0M1221 300.4h0M1223 300.6h0M1280 300.9h0M1288 300.3h0M1337 300.1h0M1371 301.0h0M1372 301.1h0M1391 300.5h0M1401 300.7h0M1414 301.0h0M1455 300.4h0M1456 300.9h0M1475 300.8h0M1476 300.1h0M1518 300.4h0M1529 301.2h0M1533 300.8h0M1534 300.7h0M1559 300.2h0M1585 301.2h0M1616 301.0h0M1670 300.9h0M1684 301.0h0M1013 297.3h0M1018 297.9h0M1036 298.1h0M1037 297.0h0M1045 297.0h0M1099 297.3h0M1108 297.9h0M1122 297.7h0M1132 297.4h0M1190 297.2h0M1203 297.5h0M1206 297.1h0M1219 297.9h0M1229 297.0h0M1279 297.1h0M1318 296.9h0M1337 297.1h0M1343 297.4h0M1368 297.4h0M1378 297.4h0M1391 297.2h0M1447 297.1h0M1450 297.6h0M1457 297.8h0M1458 297.7h0M1466 298.0h0M1473 297.4h0M1480 297.5h0M1486 297.7h0M1496 297.7h0M1502 297.4h0M1517 297.8h0M1536 297.4h0M1537 297.0h0M1540 297.1h0M1544 297.7h0M1552 298.0h0M1556 297.2h0M1560 297.1h0M1581 297.6h0M1586 297.9h0M1607 297.4h0M1624 297.7h0M1634 297.0h0M1643 298.0h0M1651 297.7h0M1653 297.8h0M1689 297.3h0M1014 293.9h0M1027 294.4h0M1090 294.8h0M1142 294.8h0M1143 293.9h0M1210 294.8h0M1228 294.5h0M1238 294.3h0M1241 294.4h0M1247 293.9h0M1284 294.5h0M1322 294.1h0M1338 294.1h0M1370 294.0h0M1389 294.4h0M1396 293.9h0M1408 294.4h0M1439 294.0h0M1443 294.1h0M1473 294.1h0M1491 293.8h0M1492 294.6h0M1505 293.9h0M1516 294.9h0M1525 294.4h0M1535 294.4h0M1536 294.8h0M1552 294.2h0M1558 294.0h0M1607 294.8h0M1616 294.5h0M1631 294.0h0M1631 294.7h0M1635 294.5h0M1635 293.8h0M1638 294.6h0M1655 295.0h0M1675 294.4h0M1675 294.9h0M1687 294.8h0M1688 294.8h0M175 291.2h0M205 291.4h0M300 291.5h0M1022 291.5h0M1036 291.5h0M1046 291.7h0M1077 291.6h0M1094 291.0h0M1137 291.8h0M1192 291.1h0M1223 291.5h0M1256 291.6h0M1267 291.1h0M1296 291.5h0M1310 291.7h0M1311 290.7h0M1322 290.8h0M1356 290.8h0M1395 290.9h0M1397 291.6h0M1418 291.2h0M1434 291.3h0M1488 291.3h0M1503 291.2h0M1512 291.5h0M1514 291.5h0M1562 291.6h0M1577 291.1h0M1578 290.8h0M1593 291.7h0M1629 290.9h0M1654 291.6h0M1666 291.7h0M1670 291.1h0M1683 291.5h0M1694 291.0h0M272 288.1h0M1025 288.0h0M1042 287.6h0M1102 287.9h0M1116 288.7h0M1121 287.6h0M1125 287.7h0M1159 288.2h0M1160 287.9h0M1173 287.8h0M1180 288.6h0M1190 287.8h0M1207 287.7h0M1220 288.3h0M1222 288.2h0M1229 288.4h0M1246 288.6h0M1263 287.8h0M1267 288.4h0M1297 287.6h0M1307 287.9h0M1318 288.6h0M1333 288.4h0M1360 287.9h0M1377 288.0h0M1389 288.2h0M1409 287.8h0M1442 287.7h0M1449 288.6h0M1525 288.0h0M1581 287.6h0M1637 287.8h0M1638 288.5h0M1641 288.5h0M1641 287.7h0M1649 287.7h0M1661 288.0h0M1685 288.1h0M1071 285.1h0M1085 284.6h0M1092 284.7h0M1096 285.2h0M1103 285.4h0M1118 285.4h0M1120 285.5h0M1133 285.2h0M1138 285.3h0M1147 285.3h0M1163 284.6h0M1170 285.3h0M1170 285.2h0M1184 285.3h0M1191 285.0h0M1203 285.3h0M1205 285.1h0M1210 285.2h0M1216 284.7h0M1220 285.5h0M1229 285.5h0M1253 284.8h0M1267 284.5h0M1317 285.2h0M1319 285.1h0M1331 285.2h0M1337 285.5h0M1355 284.5h0M1386 285.5h0M1393 285.3h0M1428 285.5h0M1430 285.4h0M1435 285.4h0M1456 285.0h0M1498 285.4h0M1592 285.6h0M1608 285.3h0M1628 284.9h0M1641 285.1h0M1645 284.8h0M1679 285.5h0M1021 282.1h0M1021 281.9h0M1034 281.9h0M1036 281.6h0M1067 281.4h0M1096 282.3h0M1133 281.6h0M1182 281.8h0M1193 282.5h0M1207 282.1h0M1209 281.3h0M1215 281.5h0M1246 281.6h0M1304 282.1h0M1308 282.2h0M1315 282.0h0M1316 282.3h0M1344 282.0h0M1366 281.7h0M1368 281.7h0M1393 282.0h0M1395 281.6h0M1407 281.3h0M1408 281.9h0M1410 282.4h0M1413 282.2h0M1442 281.7h0M1456 282.5h0M1473 281.8h0M1541 281.6h0M1598 281.7h0M1608 281.7h0M1627 282.4h0M1648 281.5h0M1032 278.9h0M1060 279.2h0M1080 278.3h0M1092 278.5h0M1109 278.7h0M1120 278.9h0M1136 279.3h0M1142 278.5h0M1146 278.4h0M1181 279.3h0M1183 278.7h0M1226 279.3h0M1295 279.4h0M1302 278.3h0M1307 278.8h0M1308 278.5h0M1319 279.0h0M1322 278.4h0M1330 278.3h0M1332 278.3h0M1361 279.3h0M1362 279.2h0M1396 279.0h0M1402 279.2h0M1404 278.3h0M1460 278.5h0M1505 279.1h0M1506 278.3h0M1525 278.4h0M1545 279.0h0M1549 278.8h0M1554 279.3h0M1572 279.0h0M1589 278.3h0M1629 279.2h0M1642 278.9h0M1654 279.1h0M1668 278.6h0M1681 278.5h0M1682 278.8h0M1019 275.8h0M1030 275.7h0M1051 276.2h0M1064 276.0h0M1085 275.2h0M1091 275.5h0M1098 275.7h0M1105 276.3h0M1129 275.6h0M1151 276.2h0M1154 275.9h0M1212 275.6h0M1250 276.1h0M1257 275.3h0M1287 275.6h0M1295 275.7h0M1319 276.2h0M1364 276.0h0M1367 275.5h0M1367 275.3h0M1375 275.3h0M1387 275.3h0M1406 275.6h0M1411 275.9h0M1418 275.1h0M1451 276.0h0M1490 275.5h0M1495 275.9h0M1498 276.3h0M1517 275.8h0M1518 275.4h0M1528 276.3h0M1531 275.8h0M1533 276.3h0M1558 276.1h0M1583 275.3h0M1588 275.2h0M1602 275.2h0M1606 275.3h0M1652 276.1h0M1658 276.3h0M1661 275.3h0M1670 276.1h0M1672 276.1h0M1686 276.1h0M1694 275.2h0M1028 272.2h0M1034 273.0h0M1056 272.2h0M1080 272.0h0M1091 272.3h0M1118 272.9h0M1139 272.2h0M1139 272.8h0M1161 272.0h0M1194 273.1h0M1202 272.6h0M1221 273.1h0M1240 272.6h0M1267 272.6h0M1268 272.7h0M1277 272.4h0M1287 272.3h0M1293 272.9h0M1333 272.5h0M1367 272.1h0M1380 272.9h0M1407 272.5h0M1411 273.1h0M1428 272.8h0M1436 272.1h0M1451 272.5h0M1491 272.8h0M1517 272.7h0M1542 272.2h0M1644 272.7h0M1660 272.2h0M1662 272.8h0M1686 272.8h0M1691 272.6h0M1012 269.8h0M1012 269.6h0M1021 269.0h0M1028 269.7h0M1031 269.5h0M1060 269.0h0M1101 270.0h0M1108 269.1h0M1111 269.1h0M1121 269.7h0M1171 269.6h0M1227 269.4h0M1247 268.9h0M1256 268.9h0M1259 269.9h0M1261 269.2h0M1275 269.5h0M1275 269.0h0M1296 269.4h0M1298 269.5h0M1306 270.1h0M1307 269.1h0M1308 269.5h0M1367 269.8h0M1369 269.5h0M1377 270.1h0M1400 269.6h0M1405 269.4h0M1419 269.3h0M1434 269.0h0M1444 270.1h0M1453 269.5h0M1478 269.9h0M1503 269.3h0M1525 269.1h0M1543 268.9h0M1547 269.1h0M1555 269.8h0M1555 269.9h0M1557 270.0h0M1611 269.6h0M1644 270.0h0M1655 269.9h0M1656 269.8h0M1675 269.8h0M1678 269.0h0M1691 269.6h0M157 266.5h0M1089 266.6h0M1099 266.3h0M1111 265.9h0M1112 266.1h0M1116 266.8h0M1124 266.8h0M1139 266.8h0M1180 266.6h0M1191 266.1h0M1206 266.1h0M1238 265.8h0M1257 266.2h0M1267 266.4h0M1340 267.0h0M1348 266.9h0M1405 266.4h0M1420 266.0h0M1448 266.4h0M1474 266.9h0M1492 266.6h0M1506 265.9h0M1518 265.8h0M1521 266.9h0M1530 265.9h0M1540 265.8h0M1557 266.0h0M1562 266.5h0M1609 265.8h0M1632 266.5h0M1644 266.3h0M1644 266.2h0M1658 266.2h0M241 263.7h0M1019 263.3h0M1032 262.9h0M1033 263.2h0M1043 263.8h0M1092 263.1h0M1105 262.8h0M1130 263.3h0M1133 263.7h0M1134 262.9h0M1146 263.9h0M1149 263.0h0M1177 263.1h0M1225 262.7h0M1230 263.0h0M1264 262.8h0M1285 263.7h0M1351 263.6h0M1352 263.2h0M1357 262.8h0M1362 263.5h0M1377 262.8h0M1383 262.7h0M1431 263.6h0M1442 263.8h0M1512 262.9h0M1517 262.9h0M1535 263.4h0M1548 263.6h0M1562 263.0h0M1582 263.8h0M1583 263.2h0M1586 263.6h0M1596 263.7h0M1616 263.8h0M1632 263.4h0M1012 260.6h0M1013 260.7h0M1050 260.7h0M1067 260.4h0M1083 259.8h0M1085 260.4h0M1096 259.7h0M1110 259.9h0M1116 260.6h0M1134 260.4h0M1164 260.1h0M1175 260.1h0M1183 260.5h0M1223 259.9h0M1245 259.8h0M1245 260.4h0M1273 259.9h0M1369 260.4h0M1376 260.5h0M1410 259.7h0M1454 260.1h0M1460 260.0h0M1473 260.2h0M1480 259.6h0M1498 260.4h0M1519 260.0h0M1555 259.6h0M1557 259.6h0M1572 260.2h0M1577 260.2h0M1577 259.6h0M1636 260.6h0M1638 260.3h0M1651 260.2h0M1684 260.3h0M1012 257.4h0M1017 257.5h0M1092 257.3h0M1101 257.1h0M1128 256.5h0M1143 257.1h0M1166 256.8h0M1182 257.3h0M1191 257.2h0M1234 256.9h0M1247 257.0h0M1280 256.8h0M1287 256.9h0M1306 256.6h0M1376 257.0h0M1399 256.9h0M1400 256.9h0M1415 256.5h0M1486 257.1h0M1498 256.5h0M1503 256.8h0M1522 256.6h0M1534 256.8h0M1549 257.3h0M1562 257.3h0M1580 256.5h0M1599 257.0h0M1625 257.6h0M1633 257.5h0M1638 257.2h0M1638 257.4h0M1649 257.0h0M1661 256.9h0M1666 257.3h0M1684 256.5h0M1690 257.5h0M215 254.0h0M1033 253.6h0M1036 253.9h0M1042 254.1h0M1081 253.4h0M1082 253.5h0M1089 253.5h0M1099 253.8h0M1123 254.5h0M1192 253.8h0M1210 253.5h0M1227 254.4h0M1267 253.5h0M1270 254.4h0M1292 254.2h0M1293 254.1h0M1293 254.2h0M1322 253.7h0M1322 254.2h0M1439 254.1h0M1447 253.7h0M1477 254.5h0M1486 253.6h0M1588 253.8h0M1599 253.7h0M1622 254.5h0M1634 254.3h0M1643 253.8h0M1673 254.5h0M1086 250.8h0M1095 250.2h0M1108 250.6h0M1108 251.4h0M1115 251.3h0M1115 250.6h0M1143 251.0h0M1163 250.8h0M1165 251.2h0M1191 250.8h0M1206 251.2h0M1219 250.8h0M1231 251.1h0M1255 250.6h0M1282 250.7h0M1302 250.7h0M1344 251.3h0M1371 250.7h0M1379 250.7h0M1396 250.2h0M1411 251.3h0M1412 251.3h0M1427 251.4h0M1451 251.1h0M1476 250.7h0M1478 251.2h0M1516 251.1h0M1521 250.8h0M1534 250.6h0M1546 250.8h0M1618 251.0h0M1686 251.3h0M1689 251.1h0M1027 247.5h0M1038 248.0h0M1051 247.9h0M1154 247.4h0M1154 248.2h0M1167 247.9h0M1200 248.2h0M1208 248.3h0M1217 248.0h0M1250 247.5h0M1260 247.5h0M1267 247.6h0M1302 247.2h0M1384 248.0h0M1399 247.9h0M1405 248.0h0M1443 247.6h0M1456 247.4h0M1461 248.1h0M1480 247.6h0M1498 247.3h0M1498 247.5h0M1514 247.3h0M1528 247.5h0M1534 248.0h0M1542 248.0h0M1567 247.5h0M1567 248.1h0M1582 247.8h0M1603 247.8h0M1646 247.1h0M1071 244.7h0M1071 244.7h0M1081 244.7h0M1113 244.1h0M1147 244.4h0M1152 244.0h0M1154 244.3h0M1168 245.1h0M1171 244.3h0M1180 244.7h0M1188 244.8h0M1191 244.0h0M1207 244.8h0M1209 244.0h0M1229 244.1h0M1277 244.8h0M1280 244.5h0M1281 244.1h0M1289 245.0h0M1332 244.9h0M1351 244.7h0M1364 244.8h0M1376 244.5h0M1409 244.3h0M1419 244.8h0M1479 244.4h0M1489 244.5h0M1494 244.4h0M1522 244.2h0M1534 244.3h0M1550 244.9h0M1552 244.6h0M1556 244.8h0M1576 244.2h0M1581 244.3h0M1588 245.1h0M1626 244.9h0M1635 244.5h0M1639 244.5h0M1694 244.1h0M165 241.9h0M303 241.5h0M1019 241.8h0M1055 241.2h0M1060 241.6h0M1061 242.0h0M1084 241.5h0M1092 241.0h0M1107 241.8h0M1109 241.0h0M1130 241.4h0M1159 241.4h0M1232 241.9h0M1239 241.5h0M1255 241.4h0M1286 241.7h0M1317 241.2h0M1330 241.5h0M1346 240.9h0M1376 241.4h0M1380 241.9h0M1394 241.8h0M1419 241.6h0M1463 240.9h0M1471 241.1h0M1489 241.1h0M1490 241.0h0M1493 241.5h0M1504 241.4h0M1504 241.5h0M1510 241.0h0M1511 241.0h0M1520 241.1h0M1531 241.1h0M1556 241.9h0M1563 241.0h0M1624 241.0h0M1643 241.8h0M1655 241.9h0M1658 241.7h0M1018 238.4h0M1039 238.1h0M1039 238.0h0M1042 238.9h0M1049 238.2h0M1115 238.6h0M1126 237.9h0M1134 238.1h0M1188 238.3h0M1254 238.1h0M1254 238.8h0M1256 238.7h0M1272 238.1h0M1305 238.3h0M1380 238.4h0M1432 238.9h0M1441 238.6h0M1464 238.5h0M1465 238.6h0M1491 238.0h0M1493 237.8h0M1507 237.9h0M1541 238.3h0M1639 238.6h0M1650 238.0h0M1660 238.5h0M1011 235.4h0M1025 235.4h0M1060 235.4h0M1092 234.8h0M1145 235.4h0M1147 234.8h0M1165 235.0h0M1216 235.0h0M1228 235.2h0M1279 235.0h0M1319 235.5h0M1335 235.8h0M1374 235.5h0M1388 234.7h0M1393 235.4h0M1395 235.4h0M1403 235.1h0M1434 235.7h0M1459 235.2h0M1473 235.8h0M1520 235.4h0M1522 235.7h0M1523 234.8h0M1542 234.9h0M1568 235.5h0M1571 235.7h0M1686 235.4h0M1081 232.4h0M1082 232.0h0M1104 232.0h0M1108 232.1h0M1110 232.1h0M1112 232.4h0M1117 232.7h0M1119 232.3h0M1138 231.8h0M1155 232.2h0M1173 231.8h0M1185 232.5h0M1202 231.8h0M1210 232.6h0M1211 232.1h0M1224 232.0h0M1224 231.7h0M1257 232.1h0M1263 232.1h0M1264 231.6h0M1297 232.4h0M1301 231.9h0M1302 231.9h0M1315 232.4h0M1328 232.5h0M1444 232.2h0M1444 231.7h0M1465 231.7h0M1506 231.6h0M1507 232.7h0M1517 232.2h0M1533 231.7h0M1541 232.0h0M1565 232.5h0M1587 231.7h0M1598 232.6h0M1602 231.9h0M1619 232.7h0M1619 232.4h0M1631 232.2h0M1664 231.6h0M1681 231.9h0M1013 229.3h0M1027 229.1h0M1084 228.7h0M1105 229.4h0M1111 229.5h0M1118 229.6h0M1134 229.6h0M1173 229.4h0M1181 229.0h0M1197 229.4h0M1207 229.5h0M1212 229.0h0M1215 228.6h0M1221 228.5h0M1236 229.2h0M1245 229.4h0M1260 229.2h0M1261 228.8h0M1262 228.6h0M1296 228.6h0M1313 228.9h0M1333 229.5h0M1365 229.6h0M1426 228.9h0M1507 229.3h0M1513 228.8h0M1526 229.4h0M1528 229.5h0M1548 229.1h0M1558 228.9h0M1567 229.3h0M1578 229.3h0M1616 228.5h0M1616 229.5h0M1620 229.4h0M1630 228.7h0M1630 228.9h0M1647 228.5h0M1647 228.8h0M1685 229.3h0M1691 228.9h0M1016 225.9h0M1019 225.8h0M1043 225.4h0M1051 226.0h0M1055 225.8h0M1070 225.7h0M1074 226.4h0M1075 226.4h0M1077 226.0h0M1091 225.8h0M1109 226.4h0M1116 225.4h0M1120 226.4h0M1137 226.2h0M1146 225.7h0M1167 226.0h0M1212 225.5h0M1219 226.1h0M1262 225.9h0M1291 225.4h0M1309 225.7h0M1331 225.7h0M1334 225.6h0M1358 226.2h0M1402 225.8h0M1403 226.3h0M1409 226.2h0M1421 225.8h0M1421 225.6h0M1447 225.9h0M1485 226.3h0M1499 226.5h0M1499 225.8h0M1513 225.4h0M1550 225.5h0M1566 225.6h0M1575 225.9h0M1581 225.5h0M1601 226.1h0M1603 226.5h0M1605 225.6h0M1611 225.7h0M1623 226.4h0M1625 226.0h0M1643 225.6h0M1651 225.8h0M1690 226.2h0M108 222.6h0M1017 223.0h0M1017 223.0h0M1032 222.7h0M1067 222.5h0M1081 222.6h0M1096 222.7h0M1103 223.3h0M1125 223.4h0M1132 222.8h0M1141 223.2h0M1149 223.0h0M1152 222.8h0M1158 223.3h0M1166 223.3h0M1182 222.6h0M1196 223.3h0M1218 223.2h0M1233 222.9h0M1236 223.2h0M1254 223.0h0M1261 223.1h0M1274 222.6h0M1362 223.1h0M1382 223.2h0M1404 222.7h0M1461 223.3h0M1481 222.7h0M1494 222.2h0M1534 223.2h0M1550 222.8h0M1580 222.2h0M1589 222.5h0M1606 222.6h0M1623 223.3h0M1632 222.3h0M1633 223.2h0M1644 222.7h0M1645 222.3h0M1645 223.3h0M1646 222.6h0M1657 222.9h0M1662 223.0h0M1680 223.4h0M1682 222.5h0M1684 222.5h0M1689 222.2h0M205 220.0h0M1011 219.8h0M1048 219.8h0M1058 220.1h0M1072 219.5h0M1085 219.6h0M1088 219.9h0M1121 219.9h0M1121 219.6h0M1148 219.2h0M1160 219.9h0M1174 219.5h0M1175 219.9h0M1178 219.8h0M1191 219.9h0M1194 220.2h0M1219 220.1h0M1222 219.9h0M1231 219.9h0M1253 219.6h0M1306 219.6h0M1318 219.9h0M1321 220.2h0M1328 220.1h0M1331 219.2h0M1347 219.4h0M1358 219.3h0M1381 220.0h0M1402 219.2h0M1403 219.8h0M1405 219.9h0M1419 220.2h0M1450 219.9h0M1482 219.7h0M1488 219.2h0M1510 219.9h0M1529 219.7h0M1540 220.2h0M1548 219.2h0M1603 220.0h0M1644 220.3h0M1655 219.3h0M1667 219.7h0M1676 220.0h0M1681 220.2h0M1686 219.4h0M184 216.8h0M307 216.5h0M1081 217.1h0M1085 216.0h0M1095 216.9h0M1110 217.1h0M1189 216.8h0M1195 216.5h0M1196 216.4h0M1221 216.3h0M1225 216.6h0M1266 216.7h0M1268 216.5h0M1273 216.9h0M1283 216.5h0M1321 216.3h0M1332 217.1h0M1339 216.6h0M1358 216.4h0M1376 216.5h0M1408 216.6h0M1432 216.7h0M1453 216.4h0M1456 216.4h0M1463 216.0h0M1490 216.6h0M1502 216.8h0M1503 216.1h0M1526 216.0h0M1563 216.6h0M1625 217.0h0M1635 216.4h0M1645 216.9h0M1656 216.8h0M1027 213.4h0M1040 214.0h0M1119 213.5h0M1134 213.0h0M1149 214.0h0M1154 213.8h0M1160 213.7h0M1166 213.6h0M1193 212.9h0M1226 213.5h0M1231 213.2h0M1246 213.7h0M1249 212.9h0M1254 213.6h0M1264 213.8h0M1287 213.3h0M1303 213.0h0M1320 213.6h0M1325 213.7h0M1328 214.0h0M1342 214.0h0M1363 213.1h0M1387 213.6h0M1395 213.7h0M1421 213.7h0M1426 214.0h0M1469 213.4h0M1517 214.0h0M1525 213.1h0M1530 213.4h0M1532 213.1h0M1556 212.9h0M1574 213.3h0M1596 213.2h0M1608 213.1h0M1608 213.9h0M1617 213.2h0M1666 213.3h0M1680 213.0h0M1690 213.9h0M1014 209.8h0M1016 210.5h0M1025 210.2h0M1035 210.5h0M1044 209.9h0M1072 210.0h0M1101 210.7h0M1111 210.3h0M1115 209.9h0M1137 210.2h0M1152 210.2h0M1158 209.9h0M1184 210.3h0M1187 210.8h0M1190 210.0h0M1193 210.4h0M1220 209.8h0M1267 210.6h0M1300 210.2h0M1310 209.9h0M1316 210.8h0M1322 210.8h0M1354 210.8h0M1357 210.3h0M1390 210.1h0M1395 209.8h0M1409 210.4h0M1413 210.1h0M1431 210.0h0M1459 210.8h0M1469 209.9h0M1485 210.1h0M1487 210.6h0M1502 210.1h0M1507 210.6h0M1552 210.2h0M1568 210.0h0M1579 210.4h0M1586 210.5h0M1600 209.8h0M1602 210.2h0M1605 210.4h0M1622 210.5h0M1661 210.5h0M1688 209.9h0M1045 207.2h0M1048 207.2h0M1070 207.6h0M1111 207.3h0M1164 207.1h0M1164 207.1h0M1178 207.6h0M1183 206.7h0M1207 206.9h0M1241 207.3h0M1244 207.3h0M1271 206.9h0M1328 206.7h0M1330 207.3h0M1351 207.4h0M1398 206.9h0M1399 207.3h0M1406 207.1h0M1416 207.7h0M1422 207.5h0M1437 207.0h0M1481 206.9h0M1488 206.9h0M1510 207.5h0M1518 206.8h0M1534 207.0h0M1549 207.4h0M1549 206.7h0M1580 207.7h0M1582 206.9h0M1592 207.6h0M1598 207.8h0M1600 207.7h0M1601 207.4h0M1666 207.5h0M248 204.7h0M1028 204.6h0M1039 204.4h0M1055 204.6h0M1065 204.1h0M1068 203.8h0M1106 203.8h0M1147 204.5h0M1163 203.9h0M1163 203.7h0M1195 204.7h0M1254 203.9h0M1304 204.0h0M1313 204.6h0M1344 204.3h0M1350 203.6h0M1354 203.8h0M1358 204.2h0M1364 203.8h0M1403 204.0h0M1403 203.5h0M1417 203.6h0M1432 203.5h0M1444 204.3h0M1458 203.8h0M1491 204.7h0M1521 204.6h0M1586 204.0h0M1600 204.0h0M1628 203.7h0M1633 204.1h0M1647 204.7h0M1655 203.5h0M1664 204.6h0M1666 204.1h0M1682 204.5h0M1689 204.2h0M1016 201.2h0M1051 201.2h0M1060 201.3h0M1067 200.7h0M1069 201.1h0M1073 200.7h0M1079 200.9h0M1089 201.6h0M1103 201.1h0M1112 201.1h0M1142 201.0h0M1156 200.8h0M1159 200.7h0M1161 200.7h0M1162 200.9h0M1177 200.5h0M1203 200.9h0M1221 200.9h0M1249 201.2h0M1252 201.1h0M1257 201.3h0M1266 200.7h0M1266 201.6h0M1269 200.7h0M1317 200.5h0M1327 200.9h0M1348 201.3h0M1414 200.8h0M1416 200.7h0M1416 200.7h0M1434 201.5h0M1435 200.7h0M1475 201.1h0M1485 200.5h0M1486 200.7h0M1503 200.5h0M1516 201.4h0M1516 200.8h0M1526 201.1h0M1550 201.2h0M1560 200.8h0M1578 201.0h0M1626 201.0h0M1642 201.2h0M1654 201.0h0M1674 201.1h0M221 197.9h0M1021 197.7h0M1023 197.8h0M1029 197.8h0M1042 198.0h0M1044 198.1h0M1066 197.5h0M1072 197.3h0M1083 198.1h0M1093 198.0h0M1110 197.3h0M1111 197.9h0M1158 198.1h0M1168 197.6h0M1171 198.1h0M1197 197.8h0M1199 197.6h0M1221 198.2h0M1231 198.4h0M1240 197.3h0M1244 198.4h0M1266 197.4h0M1272 197.8h0M1284 197.3h0M1330 197.9h0M1336 197.3h0M1351 198.4h0M1374 198.3h0M1412 198.1h0M1413 197.7h0M1429 197.8h0M1433 197.4h0M1470 198.1h0M1476 197.9h0M1514 197.5h0M1532 197.6h0M1575 198.3h0M1628 197.8h0M1641 197.7h0M1649 198.4h0M1019 195.0h0M1040 195.3h0M1069 194.5h0M1077 195.0h0M1081 194.5h0M1085 194.3h0M1128 195.4h0M1159 194.8h0M1184 195.0h0M1195 194.8h0M1197 194.5h0M1205 194.6h0M1224 194.5h0M1229 195.2h0M1257 195.3h0M1285 194.4h0M1297 195.2h0M1327 194.5h0M1338 194.9h0M1339 194.5h0M1363 195.0h0M1374 194.9h0M1388 194.6h0M1389 195.1h0M1416 194.7h0M1443 195.2h0M1464 195.2h0M1526 194.2h0M1578 194.7h0M1605 195.1h0M1607 194.9h0M1609 195.1h0M1616 194.6h0M1622 195.2h0M1641 194.5h0M1665 194.4h0M1022 192.3h0M1041 191.8h0M1057 191.4h0M1063 192.0h0M1094 192.2h0M1115 191.7h0M1124 191.9h0M1143 192.2h0M1168 191.5h0M1174 191.1h0M1202 191.6h0M1211 191.1h0M1223 192.1h0M1229 192.0h0M1255 191.9h0M1272 191.4h0M1292 191.8h0M1354 191.7h0M1362 192.2h0M1380 191.5h0M1399 191.3h0M1403 192.1h0M1414 192.0h0M1418 191.6h0M1423 192.0h0M1440 191.5h0M1449 191.3h0M1453 191.9h0M1460 191.2h0M1469 191.6h0M1549 191.5h0M1559 192.2h0M1582 191.6h0M1591 191.3h0M1594 191.6h0M1613 191.2h0M1624 191.3h0M1641 191.5h0M1661 192.0h0M1671 191.5h0M1672 191.3h0M1690 192.0h0M1692 192.2h0M256 188.6h0M1016 188.8h0M1024 188.5h0M1032 188.5h0M1039 188.2h0M1052 188.8h0M1066 188.6h0M1086 188.5h0M1159 188.2h0M1159 188.6h0M1180 188.4h0M1190 188.4h0M1195 188.9h0M1231 188.3h0M1246 188.5h0M1248 188.8h0M1262 189.1h0M1306 189.0h0M1312 188.1h0M1342 188.1h0M1363 188.2h0M1385 188.0h0M1387 189.0h0M1400 188.5h0M1465 188.9h0M1470 188.8h0M1479 188.5h0M1485 188.2h0M1492 188.3h0M1496 189.0h0M1504 188.6h0M1535 188.8h0M1538 189.1h0M1587 189.0h0M1594 189.0h0M1613 188.0h0M1621 188.8h0M1635 189.1h0M1664 189.0h0M243 185.9h0M244 185.8h0M279 185.4h0M1023 185.8h0M1026 185.1h0M1044 184.9h0M1050 186.0h0M1056 185.2h0M1067 185.9h0M1097 185.3h0M1117 184.9h0M1118 185.3h0M1137 185.0h0M1137 185.9h0M1141 184.9h0M1143 184.9h0M1149 185.5h0M1168 185.2h0M1182 185.2h0M1197 185.0h0M1215 184.8h0M1262 185.1h0M1276 185.1h0M1287 185.2h0M1306 185.8h0M1340 186.0h0M1351 185.5h0M1358 185.2h0M1371 186.0h0M1372 185.7h0M1379 185.6h0M1385 185.7h0M1398 185.2h0M1408 184.8h0M1410 185.9h0M1412 185.3h0M1432 184.9h0M1481 185.1h0M1540 185.4h0M1556 185.6h0M1558 185.5h0M1583 185.8h0M1607 185.7h0M1610 185.3h0M1623 184.9h0M1649 185.0h0M1664 185.2h0M1667 186.0h0M1685 185.7h0M1012 182.2h0M1015 182.4h0M1021 182.8h0M1024 182.1h0M1053 182.2h0M1062 182.6h0M1065 182.6h0M1069 182.7h0M1071 182.8h0M1107 181.8h0M1110 182.8h0M1141 182.1h0M1170 182.4h0M1175 182.6h0M1185 181.9h0M1220 182.6h0M1225 182.2h0M1246 182.2h0M1251 182.4h0M1306 181.8h0M1311 182.3h0M1387 182.9h0M1387 182.5h0M1390 182.0h0M1393 182.3h0M1484 182.9h0M1493 182.8h0M1514 181.8h0M1556 182.1h0M1626 181.9h0M1668 182.3h0M1681 182.0h0M1693 182.6h0M1033 179.5h0M1049 179.7h0M1057 179.2h0M1087 178.9h0M1096 179.6h0M1115 179.2h0M1115 179.5h0M1125 178.9h0M1134 178.8h0M1167 179.6h0M1228 179.4h0M1232 179.1h0M1330 178.6h0M1338 178.8h0M1341 178.9h0M1359 178.7h0M1395 179.1h0M1399 178.7h0M1412 179.0h0M1425 178.7h0M1433 179.2h0M1435 179.2h0M1468 179.3h0M1471 179.4h0M1472 178.8h0M1472 179.3h0M1476 179.0h0M1478 179.7h0M1481 179.4h0M1511 179.2h0M1527 179.0h0M1558 179.4h0M1559 179.5h0M1562 179.2h0M1566 179.2h0M1585 179.5h0M1592 178.7h0M1603 179.7h0M1618 179.4h0M1644 179.4h0M1033 175.8h0M1055 176.2h0M1091 176.4h0M1099 175.7h0M1118 175.6h0M1131 175.8h0M1140 176.3h0M1158 176.2h0M1159 176.6h0M1181 176.6h0M1199 176.3h0M1239 176.4h0M1257 175.6h0M1257 176.4h0M1291 176.0h0M1296 176.0h0M1329 176.4h0M1332 175.7h0M1336 176.4h0M1341 176.6h0M1351 175.7h0M1361 175.7h0M1399 175.5h0M1409 176.0h0M1410 175.8h0M1492 176.5h0M1502 176.6h0M1545 176.5h0M1569 176.2h0M1582 176.4h0M1598 176.7h0M1602 176.6h0M1628 176.0h0M1662 175.8h0M1671 176.2h0M188 173.4h0M1015 173.2h0M1069 173.2h0M1102 173.2h0M1117 172.6h0M1130 173.6h0M1183 172.4h0M1190 172.7h0M1224 172.6h0M1250 172.6h0M1258 173.6h0M1260 173.1h0M1266 173.3h0M1267 173.2h0M1272 173.5h0M1280 173.2h0M1280 173.5h0M1299 173.5h0M1323 172.5h0M1348 172.9h0M1352 173.5h0M1372 172.8h0M1373 173.2h0M1374 172.7h0M1375 172.6h0M1400 172.7h0M1478 172.7h0M1507 173.3h0M1526 173.1h0M1529 173.4h0M1575 173.0h0M1579 172.5h0M1585 173.6h0M1591 172.7h0M1605 172.4h0M1633 173.3h0M1640 172.4h0M1682 173.4h0M172 170.4h0M1052 169.5h0M1092 170.0h0M1110 169.3h0M1115 170.2h0M1115 169.5h0M1116 170.0h0M1119 170.2h0M1130 170.2h0M1174 170.4h0M1178 169.7h0M1207 169.7h0M1258 169.7h0M1276 169.6h0M1299 169.6h0M1309 170.1h0M1341 169.4h0M1344 169.5h0M1371 170.1h0M1394 170.3h0M1399 169.9h0M1399 169.7h0M1415 169.6h0M1444 169.5h0M1455 170.1h0M1459 170.1h0M1469 169.3h0M1471 170.1h0M1502 170.1h0M1538 170.1h0M1566 170.3h0M1582 169.9h0M1585 169.6h0M1587 169.4h0M1596 169.6h0M1611 170.3h0M1617 170.4h0M1649 169.5h0M1666 169.5h0M1667 169.5h0M1671 169.3h0M1671 170.2h0M1011 167.2h0M1017 166.6h0M1044 166.6h0M1047 166.3h0M1069 167.3h0M1070 166.4h0M1084 166.5h0M1096 166.8h0M1101 166.3h0M1111 167.1h0M1114 166.8h0M1144 166.9h0M1152 167.3h0M1180 167.4h0M1186 166.7h0M1197 167.2h0M1215 166.8h0M1228 167.2h0M1236 166.3h0M1239 166.5h0M1241 167.3h0M1256 167.1h0M1267 166.8h0M1271 167.2h0M1281 166.7h0M1306 167.2h0M1415 166.7h0M1425 167.2h0M1435 166.4h0M1447 166.5h0M1452 167.1h0M1460 166.9h0M1467 166.3h0M1494 167.1h0M1516 166.9h0M1520 166.8h0M1552 167.1h0M1569 166.9h0M1572 166.2h0M1606 166.2h0M1611 166.6h0M1633 167.0h0M1670 167.3h0M1676 166.5h0M1678 166.6h0M1680 167.3h0M1035 164.0h0M1039 163.4h0M1042 163.7h0M1048 163.7h0M1071 163.3h0M1073 163.7h0M1083 163.6h0M1091 163.3h0M1093 163.9h0M1112 163.9h0M1130 163.7h0M1134 164.2h0M1148 163.6h0M1154 163.5h0M1226 163.5h0M1255 163.2h0M1272 163.4h0M1277 163.4h0M1286 163.8h0M1295 164.1h0M1298 164.1h0M1309 164.0h0M1318 163.4h0M1359 163.8h0M1382 163.7h0M1405 164.2h0M1429 164.2h0M1437 163.4h0M1476 164.1h0M1516 163.6h0M1526 164.2h0M1530 163.3h0M1533 163.4h0M1543 163.5h0M1554 163.1h0M1562 163.7h0M1563 163.6h0M1606 163.8h0M1659 164.1h0M1671 163.1h0M1672 163.7h0M236 160.1h0M1018 160.1h0M1028 160.6h0M1072 160.0h0M1105 160.3h0M1114 160.4h0M1144 160.5h0M1146 160.5h0M1149 160.0h0M1150 160.4h0M1160 159.9h0M1163 161.0h0M1177 161.1h0M1192 161.1h0M1213 160.4h0M1214 160.1h0M1242 160.7h0M1249 160.1h0M1267 161.1h0M1273 161.1h0M1287 160.2h0M1290 160.8h0M1338 160.2h0M1343 160.1h0M1347 160.2h0M1357 160.2h0M1377 160.2h0M1382 160.4h0M1386 160.0h0M1388 159.9h0M1408 160.0h0M1420 161.0h0M1437 160.3h0M1446 160.5h0M1454 160.0h0M1457 160.1h0M1461 160.3h0M1463 160.7h0M1467 160.6h0M1488 160.5h0M1513 160.9h0M1524 160.2h0M1525 160.8h0M1533 160.3h0M1534 160.2h0M1575 160.5h0M1609 161.0h0M1614 160.2h0M1654 160.2h0M1670 161.1h0M1682 160.5h0M1025 157.1h0M1026 156.9h0M1044 157.9h0M1102 157.1h0M1166 157.2h0M1169 157.2h0M1267 158.0h0M1275 157.4h0M1307 157.8h0M1348 157.3h0M1353 157.4h0M1403 157.6h0M1440 157.1h0M1453 157.9h0M1468 157.8h0M1498 157.4h0M1519 157.7h0M1530 157.5h0M1560 157.9h0M1639 157.3h0M1659 157.5h0M1694 157.1h0M195 154.7h0M469 153.8h0M1022 154.6h0M1026 153.8h0M1047 154.2h0M1053 154.1h0M1058 154.7h0M1067 154.6h0M1081 154.0h0M1087 154.5h0M1123 154.8h0M1126 154.0h0M1128 153.9h0M1137 154.6h0M1182 154.4h0M1185 154.2h0M1188 154.1h0M1203 154.3h0M1207 154.1h0M1248 154.5h0M1265 154.1h0M1271 154.6h0M1271 154.5h0M1328 154.5h0M1329 153.8h0M1357 153.9h0M1367 154.5h0M1388 154.1h0M1408 154.8h0M1420 154.2h0M1441 154.8h0M1462 154.8h0M1490 154.9h0M1495 154.5h0M1499 153.9h0M1507 154.9h0M1513 154.1h0M1561 154.9h0M1586 154.1h0M1618 153.8h0M1618 153.8h0M1626 154.0h0M1661 154.3h0M1016 150.7h0M1023 151.7h0M1079 150.7h0M1089 151.6h0M1092 150.7h0M1097 150.7h0M1121 151.5h0M1202 150.7h0M1224 151.6h0M1228 150.7h0M1299 151.6h0M1300 150.8h0M1320 150.8h0M1330 150.8h0M1332 151.2h0M1346 151.6h0M1346 151.0h0M1348 151.3h0M1351 151.0h0M1414 151.4h0M1434 151.3h0M1438 151.4h0M1502 150.7h0M1535 151.0h0M1539 151.4h0M1574 150.8h0M1578 151.2h0M1582 151.2h0M1666 150.6h0M1676 150.8h0M1680 151.3h0M1025 148.5h0M1037 147.7h0M1083 148.2h0M1122 147.7h0M1150 147.6h0M1152 147.6h0M1161 148.0h0M1180 148.6h0M1190 148.2h0M1200 148.0h0M1205 147.5h0M1211 148.4h0M1240 148.3h0M1251 148.0h0M1254 147.8h0M1365 148.2h0M1375 148.1h0M1387 147.8h0M1397 148.0h0M1439 148.6h0M1445 148.0h0M1449 148.6h0M1452 148.1h0M1452 148.0h0M1463 147.5h0M1466 148.1h0M1478 147.9h0M1479 147.9h0M1487 147.6h0M1504 147.8h0M1517 148.3h0M1518 148.1h0M1536 148.6h0M1557 148.5h0M1577 147.8h0M1608 148.4h0M1620 148.6h0M1621 148.6h0M1629 148.1h0M1658 147.7h0M1670 147.5h0M1671 148.6h0M1675 148.0h0M1678 148.6h0M1690 148.5h0M1021 145.2h0M1046 144.8h0M1101 144.4h0M1105 145.2h0M1170 145.4h0M1175 145.5h0M1186 145.1h0M1205 145.1h0M1244 145.5h0M1251 145.5h0M1258 145.2h0M1261 145.1h0M1267 145.6h0M1287 144.8h0M1347 144.5h0M1372 145.2h0M1372 144.9h0M1374 145.6h0M1376 145.1h0M1390 144.5h0M1440 145.1h0M1457 144.7h0M1460 144.8h0M1461 144.6h0M1474 144.8h0M1500 144.6h0M1504 145.0h0M1525 144.8h0M1529 144.5h0M1537 144.8h0M1566 144.7h0M1574 145.3h0M1578 144.4h0M1643 145.5h0M1650 144.7h0M1661 144.6h0M1689 145.4h0M277 142.3h0M1024 141.5h0M1059 141.8h0M1083 141.6h0M1085 141.9h0M1086 141.8h0M1121 142.0h0M1127 141.5h0M1141 141.9h0M1184 141.5h0M1195 141.8h0M1204 141.5h0M1213 141.9h0M1217 141.7h0M1230 142.4h0M1242 141.7h0M1243 141.9h0M1251 141.4h0M1262 142.0h0M1270 142.2h0M1288 141.3h0M1289 141.9h0M1306 141.9h0M1311 141.7h0M1334 141.7h0M1347 141.5h0M1366 141.8h0M1366 142.2h0M1395 142.5h0M1447 142.1h0M1458 141.6h0M1481 141.8h0M1488 141.4h0M1505 142.1h0M1531 141.5h0M1535 142.0h0M1538 142.3h0M1586 142.0h0M1591 141.9h0M1618 141.7h0M1637 142.0h0M1680 142.2h0M1022 139.0h0M1026 138.3h0M1035 139.3h0M1039 139.2h0M1046 138.4h0M1062 138.5h0M1154 138.9h0M1156 138.5h0M1158 138.7h0M1172 138.5h0M1192 138.7h0M1224 139.0h0M1229 139.2h0M1229 138.4h0M1230 139.3h0M1244 139.2h0M1328 138.3h0M1370 138.2h0M1392 139.1h0M1400 139.2h0M1427 138.8h0M1433 138.3h0M1434 138.8h0M1448 138.4h0M1462 138.3h0M1468 139.0h0M1471 138.8h0M1474 139.2h0M1478 139.3h0M1524 139.3h0M1530 139.0h0M1531 139.3h0M1552 138.2h0M1555 138.3h0M1563 139.3h0M1591 138.5h0M1621 138.2h0M1636 138.6h0M1637 139.3h0M1657 139.4h0M1675 138.9h0M1678 138.7h0M1018 135.5h0M1018 135.3h0M1021 135.2h0M1021 136.0h0M1052 136.0h0M1056 136.1h0M1065 136.1h0M1070 135.4h0M1083 135.3h0M1089 135.9h0M1117 136.2h0M1136 135.5h0M1148 135.7h0M1164 136.1h0M1179 136.2h0M1191 135.6h0M1192 135.4h0M1204 135.1h0M1214 135.2h0M1220 136.1h0M1265 135.2h0M1281 135.6h0M1282 135.4h0M1296 135.6h0M1311 135.1h0M1328 135.8h0M1332 135.7h0M1382 136.1h0M1399 135.7h0M1424 135.6h0M1447 135.5h0M1461 135.9h0M1477 135.8h0M1486 135.5h0M1506 135.6h0M1516 135.5h0M1522 135.8h0M1561 135.3h0M1580 135.7h0M1598 135.8h0M1607 135.1h0M1616 135.7h0M1634 136.2h0M1653 135.8h0M1661 136.0h0M1664 136.1h0M1676 135.6h0M1013 132.0h0M1023 132.2h0M1026 133.1h0M1036 132.4h0M1041 132.2h0M1044 133.1h0M1068 132.4h0M1070 133.1h0M1110 132.0h0M1147 132.6h0M1223 132.5h0M1234 131.9h0M1249 132.2h0M1288 132.2h0M1327 132.3h0M1357 132.8h0M1406 132.6h0M1414 132.2h0M1419 132.1h0M1425 132.3h0M1457 131.9h0M1470 132.5h0M1473 132.8h0M1477 132.8h0M1480 133.0h0M1487 132.0h0M1490 132.2h0M1493 132.3h0M1557 132.4h0M1566 132.8h0M1567 132.0h0M1604 132.3h0M1608 132.2h0M1633 133.1h0M1642 132.8h0M1653 132.2h0M1660 132.3h0M1665 132.9h0M1667 132.4h0M1691 132.0h0M1014 129.1h0M1097 128.8h0M1128 129.1h0M1130 129.5h0M1131 129.8h0M1165 129.2h0M1168 129.4h0M1193 128.9h0M1215 129.0h0M1224 129.0h0M1226 129.5h0M1232 129.9h0M1275 129.7h0M1288 129.6h0M1295 129.4h0M1309 129.3h0M1320 129.8h0M1402 129.7h0M1438 129.2h0M1439 129.1h0M1452 129.7h0M1476 129.9h0M1503 129.2h0M1504 129.4h0M1512 129.9h0M1554 129.5h0M1581 129.7h0M1595 129.3h0M1650 129.8h0M1666 130.0h0M1669 129.7h0M1683 129.2h0M1686 129.5h0M155 126.8h0M1020 126.3h0M1025 125.8h0M1029 126.8h0M1085 126.3h0M1098 125.8h0M1108 126.4h0M1199 125.8h0M1218 125.8h0M1283 125.9h0M1305 126.5h0M1309 126.3h0M1319 125.9h0M1328 125.8h0M1351 126.9h0M1365 126.2h0M1378 125.9h0M1402 126.5h0M1404 126.2h0M1407 126.5h0M1407 126.8h0M1408 126.7h0M1412 126.3h0M1435 126.8h0M1472 125.9h0M1495 126.2h0M1499 126.3h0M1549 125.7h0M1571 126.4h0M1610 126.3h0M1615 126.7h0M1617 126.5h0M1623 125.8h0M1627 126.7h0M1630 126.8h0M1633 126.8h0M1634 126.5h0M1648 126.4h0M180 123.8h0M1014 123.8h0M1029 123.2h0M1068 123.3h0M1151 123.7h0M1176 123.5h0M1180 123.6h0M1202 122.7h0M1204 122.7h0M1208 123.5h0M1235 123.4h0M1243 123.7h0M1246 122.9h0M1257 122.9h0M1281 123.6h0M1306 123.0h0M1321 123.0h0M1336 123.2h0M1339 123.6h0M1369 123.5h0M1371 122.9h0M1396 123.6h0M1414 123.7h0M1424 122.9h0M1435 123.0h0M1444 123.5h0M1451 123.4h0M1468 122.6h0M1481 123.6h0M1500 123.6h0M1518 123.8h0M1519 123.1h0M1523 123.5h0M1529 123.4h0M1549 122.6h0M1566 123.0h0M1571 123.4h0M1589 122.9h0M1612 122.7h0M1613 123.7h0M1661 123.7h0M1020 120.1h0M1092 120.0h0M1096 120.1h0M1106 120.5h0M1152 120.2h0M1154 120.1h0M1156 120.1h0M1187 120.3h0M1199 119.7h0M1248 120.5h0M1260 119.5h0M1280 120.0h0M1290 119.9h0M1295 119.6h0M1314 120.1h0M1325 120.4h0M1337 119.7h0M1343 120.2h0M1363 120.2h0M1388 119.9h0M1414 120.2h0M1420 119.6h0M1438 120.5h0M1492 120.5h0M1524 120.2h0M1529 119.8h0M1565 119.8h0M1577 120.1h0M1577 119.6h0M1581 120.4h0M1609 119.6h0M1613 120.7h0M1616 120.4h0M1632 120.5h0M1656 119.6h0M1683 120.3h0M1684 120.6h0M1690 120.0h0M1012 117.4h0M1021 116.5h0M1029 116.6h0M1053 117.3h0M1056 116.7h0M1119 117.1h0M1123 117.1h0M1128 116.5h0M1148 116.5h0M1150 117.2h0M1212 116.5h0M1237 116.5h0M1238 116.4h0M1239 117.2h0M1282 116.4h0M1285 116.4h0M1294 116.8h0M1298 117.3h0M1300 117.1h0M1303 117.2h0M1306 116.6h0M1388 116.7h0M1399 117.2h0M1524 117.0h0M1526 117.2h0M1547 117.1h0M1556 117.4h0M1557 117.0h0M1571 117.5h0M1599 116.7h0M1607 117.1h0M1616 116.4h0M1013 113.3h0M1033 113.9h0M1085 114.2h0M1102 113.6h0M1122 114.2h0M1126 113.5h0M1136 114.0h0M1176 114.0h0M1182 114.1h0M1185 113.4h0M1185 113.9h0M1200 113.8h0M1215 113.5h0M1219 114.0h0M1229 113.9h0M1274 113.8h0M1298 113.3h0M1311 113.3h0M1315 113.5h0M1323 113.4h0M1373 113.6h0M1380 113.3h0M1388 114.2h0M1402 114.3h0M1420 114.0h0M1430 114.3h0M1441 113.4h0M1445 114.2h0M1446 113.5h0M1464 114.1h0M1476 114.0h0M1486 114.0h0M1486 113.8h0M1553 113.9h0M1560 114.0h0M1628 113.8h0M1638 114.2h0M1673 113.5h0M1693 113.6h0M1042 111.2h0M1045 110.6h0M1045 111.2h0M1085 110.7h0M1097 111.3h0M1106 110.5h0M1108 111.2h0M1138 110.8h0M1162 111.1h0M1182 110.3h0M1201 111.2h0M1212 110.7h0M1231 110.4h0M1236 111.0h0M1327 110.3h0M1347 110.7h0M1347 110.3h0M1354 111.0h0M1357 110.6h0M1374 111.0h0M1474 111.1h0M1477 110.8h0M1494 110.8h0M1511 110.6h0M1516 110.9h0M1553 111.0h0M1573 111.3h0M1578 110.8h0M1610 110.9h0M1610 110.8h0M1641 110.4h0M1650 111.3h0M1661 110.8h0M1678 111.2h0M1689 111.2h0M278 107.8h0M1019 107.1h0M1023 108.0h0M1034 107.2h0M1042 107.6h0M1045 108.0h0M1048 107.7h0M1054 107.8h0M1056 107.6h0M1090 107.1h0M1094 107.1h0M1127 107.8h0M1132 108.1h0M1135 107.6h0M1159 107.8h0M1160 107.1h0M1164 108.2h0M1206 107.4h0M1207 107.8h0M1211 108.1h0M1256 108.0h0M1284 108.0h0M1316 107.5h0M1339 107.0h0M1361 107.6h0M1436 108.0h0M1447 107.9h0M1463 107.8h0M1463 107.3h0M1469 107.9h0M1514 107.8h0M1540 107.8h0M1543 107.3h0M1558 107.9h0M1568 107.9h0M1576 107.4h0M1579 107.5h0M1595 107.2h0M1643 107.0h0M1667 107.4h0M211 103.9h0M1050 104.4h0M1070 104.7h0M1077 104.2h0M1096 104.6h0M1097 104.1h0M1107 104.0h0M1121 104.4h0M1127 104.8h0M1152 104.0h0M1168 105.1h0M1185 105.1h0M1190 104.2h0M1197 104.2h0M1200 104.2h0M1213 104.9h0M1240 104.0h0M1266 104.7h0M1272 103.9h0M1308 104.1h0M1313 104.3h0M1342 105.1h0M1387 104.9h0M1421 104.5h0M1422 104.2h0M1424 104.1h0M1427 104.3h0M1428 104.3h0M1463 104.2h0M1476 104.9h0M1476 104.8h0M1491 104.0h0M1531 104.9h0M1533 105.1h0M1549 104.7h0M1553 104.0h0M1575 104.8h0M1579 104.0h0M1594 104.3h0M1602 105.0h0M1617 104.1h0M1639 104.8h0M1654 105.1h0M1666 104.7h0M1667 104.3h0M1673 104.4h0M1686 104.1h0M103 101.1h0M921 101.2h0M1026 101.3h0M1029 101.7h0M1032 101.3h0M1046 101.6h0M1050 101.8h0M1067 101.8h0M1121 101.6h0M1141 101.2h0M1147 101.3h0M1177 101.5h0M1183 101.9h0M1196 102.0h0M1216 101.7h0M1223 102.0h0M1235 101.6h0M1245 101.4h0M1248 101.2h0M1258 101.7h0M1261 101.0h0M1280 101.4h0M1319 100.8h0M1329 101.8h0M1355 101.2h0M1368 101.3h0M1368 100.9h0M1373 101.9h0M1377 101.1h0M1391 101.6h0M1410 101.2h0M1418 100.8h0M1447 101.3h0M1453 101.1h0M1465 101.0h0M1473 100.9h0M1476 101.4h0M1484 100.9h0M1521 100.9h0M1531 101.2h0M1532 101.2h0M1542 101.6h0M1548 101.3h0M1590 101.6h0M1600 101.1h0M1628 101.9h0M1633 101.8h0M1642 101.4h0M1642 101.1h0M1647 101.0h0M1679 101.9h0M1686 101.8h0M1693 101.5h0M1021 98.6h0M1042 98.5h0M1054 98.4h0M1060 97.9h0M1065 98.9h0M1081 97.7h0M1085 98.4h0M1098 98.9h0M1140 97.8h0M1170 98.9h0M1195 98.8h0M1204 98.4h0M1225 98.6h0M1248 98.7h0M1255 98.6h0M1272 98.8h0M1279 98.4h0M1315 98.6h0M1337 97.9h0M1340 98.1h0M1359 97.7h0M1378 97.8h0M1382 98.0h0M1397 98.6h0M1450 98.0h0M1452 98.7h0M1468 98.8h0M1491 97.8h0M1499 98.0h0M1510 98.0h0M1546 98.8h0M1550 98.9h0M1609 98.2h0M1647 98.8h0M1671 98.1h0M1689 98.6h0M1013 95.5h0M1017 95.4h0M1024 95.4h0M1028 94.7h0M1035 94.8h0M1047 95.2h0M1087 95.4h0M1097 95.1h0M1114 94.7h0M1120 95.3h0M1171 95.3h0M1176 95.7h0M1205 94.8h0M1213 94.6h0M1239 94.8h0M1271 95.4h0M1298 95.3h0M1303 94.6h0M1320 94.6h0M1333 95.5h0M1336 95.1h0M1350 94.8h0M1354 95.3h0M1357 94.8h0M1362 95.7h0M1403 94.7h0M1419 95.1h0M1419 94.9h0M1438 94.6h0M1496 94.9h0M1504 95.7h0M1507 94.7h0M1518 95.0h0M1525 95.3h0M1580 95.1h0M1581 95.0h0M1616 95.1h0M1617 94.9h0M1621 95.0h0M1628 95.4h0M1651 94.6h0M1654 95.6h0M1692 95.5h0M1024 91.7h0M1064 92.0h0M1087 92.6h0M1128 92.2h0M1145 91.9h0M1166 91.6h0M1177 91.6h0M1179 92.3h0M1189 91.7h0M1243 91.8h0M1257 92.1h0M1261 92.7h0M1287 92.5h0M1293 92.6h0M1337 92.6h0M1341 91.7h0M1342 91.6h0M1364 91.5h0M1376 91.9h0M1399 91.5h0M1423 92.6h0M1429 92.0h0M1453 91.8h0M1488 92.7h0M1492 92.0h0M1495 92.1h0M1504 92.6h0M1528 92.7h0M1558 92.5h0M1567 92.3h0M1569 91.9h0M1615 92.6h0M1618 92.1h0M1628 92.2h0M1644 91.8h0M1683 92.0h0M1020 89.1h0M1035 88.4h0M1065 89.2h0M1090 89.3h0M1094 89.4h0M1113 89.5h0M1128 89.4h0M1129 88.6h0M1144 89.2h0M1152 88.4h0M1192 88.4h0M1232 88.6h0M1254 89.1h0M1259 88.8h0M1264 89.0h0M1270 89.0h0M1276 88.5h0M1298 88.7h0M1352 88.8h0M1357 89.2h0M1399 88.8h0M1423 88.8h0M1517 88.7h0M1517 88.4h0M1531 89.1h0M1538 88.9h0M1547 88.8h0M1551 89.0h0M1571 88.4h0M1610 88.7h0M1621 88.6h0M1642 88.8h0M1658 88.8h0M1670 88.5h0M294 85.6h0M1029 85.8h0M1046 85.6h0M1050 86.4h0M1100 85.8h0M1130 86.0h0M1136 85.4h0M1152 85.5h0M1178 86.0h0M1182 86.2h0M1245 85.8h0M1308 85.8h0M1309 85.8h0M1317 86.3h0M1330 86.4h0M1333 85.7h0M1334 85.3h0M1356 85.3h0M1361 85.8h0M1407 85.5h0M1407 86.1h0M1429 85.4h0M1476 86.3h0M1526 86.2h0M1541 86.1h0M1543 86.0h0M1551 85.6h0M1558 85.3h0M1588 86.2h0M1588 85.9h0M1589 85.9h0M1592 86.4h0M1599 85.9h0M1605 86.3h0M1605 85.6h0M1610 86.1h0M1618 86.3h0M1625 85.4h0M1636 85.3h0M1639 85.9h0M1655 85.5h0M1658 85.9h0M1669 85.8h0M1689 85.4h0M1690 85.3h0M1016 82.5h0M1040 83.0h0M1041 82.2h0M1046 82.9h0M1057 83.2h0M1088 82.9h0M1195 83.3h0M1234 82.2h0M1243 82.3h0M1260 82.7h0M1262 82.2h0M1273 82.9h0M1283 82.7h0M1301 83.0h0M1324 82.6h0M1327 83.2h0M1328 82.4h0M1332 82.8h0M1349 82.3h0M1362 82.8h0M1383 82.2h0M1407 82.5h0M1416 82.3h0M1449 82.9h0M1480 82.7h0M1482 82.6h0M1484 82.2h0M1513 82.1h0M1522 82.2h0M1549 83.3h0M1549 82.6h0M1617 82.4h0M1624 83.3h0M1670 82.6h0M1690 83.1h0M82 79.5h0M1018 79.5h0M1023 79.7h0M1024 80.1h0M1031 79.0h0M1037 79.2h0M1064 80.1h0M1078 80.2h0M1083 79.3h0M1092 79.6h0M1096 80.1h0M1121 79.4h0M1126 79.4h0M1135 79.8h0M1162 80.2h0M1164 79.3h0M1173 80.2h0M1184 79.9h0M1216 79.6h0M1224 80.0h0M1243 80.2h0M1249 80.2h0M1261 80.1h0M1279 79.7h0M1315 79.1h0M1321 79.6h0M1352 79.2h0M1379 79.1h0M1387 79.6h0M1410 79.6h0M1444 79.8h0M1453 79.6h0M1462 80.1h0M1469 79.2h0M1474 79.3h0M1504 79.8h0M1509 79.5h0M1550 80.2h0M1555 80.2h0M1556 80.2h0M1563 80.2h0M1563 79.8h0M1610 80.0h0M1626 79.2h0M1631 80.2h0M1667 79.3h0M1675 79.8h0M1681 79.3h0M126 76.7h0M1055 76.8h0M1055 76.9h0M1084 75.9h0M1088 76.8h0M1125 76.6h0M1165 76.0h0M1171 76.9h0M1200 76.2h0M1215 76.4h0M1239 76.4h0M1246 76.8h0M1268 76.3h0M1291 76.2h0M1303 76.1h0M1311 76.4h0M1313 76.3h0M1321 76.3h0M1333 77.0h0M1368 76.3h0M1370 76.0h0M1410 76.8h0M1434 77.0h0M1444 76.1h0M1445 76.4h0M1472 76.0h0M1482 76.0h0M1487 76.6h0M1506 77.0h0M1513 76.2h0M1514 76.1h0M1515 75.9h0M1517 76.6h0M1528 77.0h0M1540 76.0h0M1543 76.7h0M1614 76.8h0M1619 76.3h0M1630 76.4h0M1636 76.1h0M1636 77.0h0M1025 73.0h0M1026 72.8h0M1059 73.4h0M1064 73.4h0M1078 73.0h0M1089 73.9h0M1100 74.0h0M1123 72.9h0M1169 73.6h0M1179 73.0h0M1199 73.0h0M1210 73.0h0M1220 74.0h0M1236 73.4h0M1254 73.6h0M1271 73.1h0M1275 73.5h0M1323 73.8h0M1335 73.1h0M1351 72.8h0M1364 73.7h0M1426 72.9h0M1430 73.4h0M1447 74.0h0M1449 72.9h0M1461 73.7h0M1462 73.3h0M1484 73.3h0M1488 72.9h0M1514 73.4h0M1528 73.6h0M1554 73.3h0M1563 73.9h0M1564 73.7h0M1575 73.4h0M1580 73.9h0M1587 73.2h0M1588 73.9h0M1620 72.9h0M1623 73.1h0M1624 73.4h0M1658 73.7h0M1671 74.0h0M1677 73.2h0M1683 73.5h0M132 70.3h0M1022 70.7h0M1042 70.5h0M1047 70.4h0M1059 70.0h0M1072 69.9h0M1090 69.8h0M1101 69.7h0M1115 69.8h0M1147 69.7h0M1177 70.0h0M1233 70.1h0M1236 70.5h0M1241 70.7h0M1253 70.0h0M1269 69.9h0M1275 69.8h0M1279 69.9h0M1283 70.2h0M1293 70.4h0M1308 70.5h0M1325 70.2h0M1360 69.9h0M1366 69.7h0M1410 70.7h0M1419 70.7h0M1434 70.8h0M1477 70.1h0M1483 70.2h0M1539 70.2h0M1548 69.7h0M1556 70.8h0M1566 70.6h0M1608 70.8h0M1632 70.3h0M1638 70.8h0M1668 70.6h0M1669 70.5h0M1690 69.8h0M1012 66.8h0M1020 66.6h0M1040 66.9h0M1045 66.9h0M1062 67.4h0M1072 67.4h0M1087 67.5h0M1111 67.5h0M1112 67.0h0M1114 67.6h0M1117 67.7h0M1125 66.8h0M1146 66.8h0M1155 67.1h0M1173 67.2h0M1193 67.5h0M1255 67.3h0M1265 67.2h0M1273 67.6h0M1287 67.4h0M1318 67.4h0M1358 67.1h0M1380 67.6h0M1392 67.6h0M1398 66.8h0M1432 67.2h0M1492 67.3h0M1497 66.7h0M1539 66.9h0M1542 67.2h0M1565 67.3h0M1566 67.5h0M1586 67.0h0M1633 67.2h0M1659 66.7h0M1666 67.5h0M1687 67.4h0M92 64.5h0M108 63.7h0M247 64.1h0M286 64.0h0M1016 63.6h0M1031 63.7h0M1071 63.9h0M1124 63.8h0M1137 64.1h0M1147 64.6h0M1156 64.4h0M1169 63.9h0M1203 64.6h0M1203 64.2h0M1229 64.1h0M1238 64.3h0M1241 64.0h0M1245 64.5h0M1273 63.9h0M1301 64.1h0M1321 63.7h0M1348 64.2h0M1452 63.8h0M1462 64.4h0M1467 64.4h0M1502 63.7h0M1525 63.8h0M1531 63.9h0M1559 64.2h0M1567 64.3h0M1598 63.7h0M1634 64.1h0M1652 64.5h0M1657 64.0h0M1679 63.5h0M1688 64.1h0" stroke="#000" stroke-width="4.6" stroke-linecap="round" fill="none"/>
<path d="M79 497L137.1 497L195.3 497L253.4 497L309.5 497L312.2 491.2L315 481L317.3 472.9L319.7 464.2L322 456L324 449.4L326 443.1L328 438L330.5 433.2L333 430L335.1 428.6L337.3 427.4L341.6 425.8L345.9 424.4L352 421.7L372 412.4L380 408.9L406.3 397.4L414.4 394L422.5 390.9L428.6 388.8L434.6 387L442.7 385.1L454.7 382.6L466.7 380.4L478.8 378.5L492.8 376.6L506.8 375L527.4 373.1L546 371.6L562.4 370.6L582.9 369.7L615.3 368.8L661.8 367.8L720 366.9L770 366.2L828.1 365.9L886.4 365.7L944.7 365.5L1003 365.5L1012 365.5L1016 367L1024 370.1L1032 373L1040 375.9L1048 378.8L1056 381.6L1064 384.3L1072 387L1080 389.7L1088 392.2L1096 394.8L1104 397.2L1112 399.7L1120 402.1L1128 404.4L1136 406.7L1144 408.9L1152 411.1L1160 413.3L1168 415.4L1176 417.5L1184 419.5L1192 421.5L1200 423.4L1208 425.3L1216 427.2L1224 429.1L1232 430.9L1240 432.6L1248 434.4L1256 436.1L1264 437.7L1272 439.3L1280 440.9L1288 442.5L1296 444L1304 445.5L1312 447L1320 448.5L1328 449.9L1336 451.3L1344 452.6L1352 454L1360 455.3L1368 456.6L1376 457.8L1384 459L1392 460.2L1400 461.4L1408 462.6L1416 463.7L1424 464.8L1432 465.9L1440 467L1448 468.1L1456 469.1L1464 470.1L1472 471.1L1480 472L1488 473L1496 473.9L1504 474.8L1512 475.7L1520 476.6L1528 477.5L1536 478.3L1544 479.1L1552 479.9L1560 480.7L1568 481.5L1576 482.3L1584 483L1592 483.8L1600 484.5L1608 485.2L1616 485.9L1624 486.5L1632 487.2L1640 487.9L1648 488.5L1656 489.1L1664 489.7L1672 490.3L1680 490.9L1688 491.5L1696 492.1L1696.5 492.1" fill="none" stroke="#0000ff" stroke-width="6.6" stroke-linejoin="round" stroke-linecap="butt"/>
<path d="M79 313.4L137.3 313.4L195.5 313.4L253.8 313.4L310 313.4L312 315.5L314 320L317.4 335L319.7 357.7L322 381L324.5 395.1L327 405L329.5 413L332 417L334 416L336 413.5L338 410.5L340 408L344 403.7L346 402L348 401L352 400.4L362 399.5L377 398L382 397.5L388 402.3L394 402.7L400 406.5L406 408.3L412 404.7L418 405.6L424 414.2L430 410.2L436 411L442 418.8L448 414.9L454 419L460 416.5L466 418.7L472 414.9L478 419.8L484 422.5L490 419.8L496 422.2L502 422L508 416.9L514 423.5L520 422.3L526 420L532 417.8L538 425.6L544 422.3L550 424.7L556 426.3L562 425L568 427L574 422.4L580 426.2L586 423.1L592 427.7L598 427.3L604 420.3L610 420.8L616 421.6L622 428.4L628 423.7L634 425.5L640 422.6L646 424.5L652 423.4L658 423.2L664 425.3L670 425.3L676 428.3L682 426.3L688 428.5L694 427.9L700 429.2L706 426.3L712 421.7L718 428L724 429L730 428.5L736 425.5L742 426.8L748 422.3L754 427.9L760 425.5L766 423L772 421L778 428.1L784 429.3L790 421.2L796 427.6L802 424.1L808 421.8L814 423.1L820 427.4L826 428.3L832 420.9L838 426L844 420.9L850 426.9L856 423.4L862 428.4L868 429.3L874 425L880 429.5L886 423.3L892 421.2L898 425.9L904 420.8L910 422.3L916 424.2L922 426L928 421.9L934 420.9L940 428.3L946 423.3L952 429.1L958 428.6L964 423.9L970 424.6L976 425.2L982 426.3L988 425.9L994 425.5L1000 426.1L1006 429L1010 422L1010 422L1014 412L1020 399L1028 384L1036 374L1040 370L1048 362.7L1056 356.4L1064 350.8L1072 346L1080 341.8L1088 338.2L1096 335L1104 332.2L1112 329.8L1120 327.7L1128 325.9L1136 324.3L1144 322.9L1152 321.7L1160 320.6L1168 319.7L1176 318.9L1184 318.2L1192 317.6L1200 317.1L1208 316.6L1216 316.2L1224 315.9L1232 315.6L1240 315.3L1248 315.1L1256 314.9L1264 314.7L1272 314.5L1280 314.4L1288 314.3L1296 314.2L1304 314.1L1312 314L1320 314L1328 313.9L1336 313.8L1344 313.8L1352 313.8L1360 313.7L1368 313.7L1376 313.7L1384 313.6L1392 313.6L1400 313.6L1408 313.6L1416 313.6L1424 313.6L1432 313.6L1440 313.6L1448 313.5L1456 313.5L1464 313.5L1472 313.5L1480 313.5L1488 313.5L1496 313.5L1504 313.5L1512 313.5L1520 313.5L1528 313.5L1536 313.5L1544 313.5L1552 313.5L1560 313.5L1568 313.5L1576 313.5L1584 313.5L1592 313.5L1600 313.5L1608 313.5L1616 313.5L1624 313.5L1632 313.5L1640 313.5L1648 313.5L1656 313.5L1664 313.5L1672 313.5L1680 313.5L1688 313.5L1696 313.5L1696.5 313.5" fill="none" stroke="#ff0000" stroke-width="6.6" stroke-linejoin="round" stroke-linecap="butt"/>
<path d="M79 249.3L137.3 249.9L195.5 250.4L253.8 251L312 251.7L356 252.5L414 254L472 255.6L530 257.2L574 258.1L632.1 258.9L690.2 259.6L748.4 260.3L806.5 260.8L864.7 261.3L922.8 261.6L980.9 261.8L1005.2 261.8L1011.8 261.6L1014 261.5L1016 260.9L1018 259.7L1020 258L1022 255L1028.5 240.4L1031 236L1033.2 234L1035.5 232.5L1042 228.9L1050 225L1056 221.8L1060 219.4L1062 218L1064.2 216.3L1066.3 214.5L1070.7 210.4L1075 206L1077.1 203.7L1085.7 193.5L1087.9 191.1L1090 189L1094 185.5L1098 182.4L1102 179.7L1106 177.4L1118 171.1L1124 167.6L1134 161.4L1138 159.1L1144 156L1152 152.3L1160 149L1168 146L1176 143.3L1184 140.8L1208 134.4L1216 132.4L1224 130.7L1234 128.9L1246 127.2L1258 125.7L1274 124.2L1288 123.1L1306 122.1L1320 121.5L1354 120.7L1388 120L1446 120.2L1504 119L1562 118.7L1620.1 120L1678.4 119L1696.5 119.1" fill="none" stroke="#0000ff" stroke-width="6.6" stroke-linejoin="round" stroke-linecap="butt"/>
<path d="M79 66L137.1 66L195.1 66L253.2 66L311.2 66L369.3 66L427.4 66L485.4 66L543.5 66L601.6 66L659.6 66L717.7 66L775.7 66L833.8 66L891.9 66L949.9 66L1008 66L1012 66L1014.5 66.6L1017 68L1019 70.4L1021 74L1023 78.8L1025 84L1027 89.1L1029 93L1031.5 95.5L1034 97L1036 97.8L1040 99L1046.4 101.3L1050.7 103L1055 105L1057.2 106.3L1059.4 107.7L1061.6 109.3L1066 113L1068.2 115.2L1070.5 117.7L1077.3 125.8L1079.7 128.6L1082 131L1086 134.5L1088 135.9L1090 137L1092.1 137.8L1096.4 138.9L1102.9 140.4L1107 141.7L1113 144L1121 147.4L1133 152L1141 154.8L1147 156.6L1157 159.1L1169 162L1181 165.1L1193 167.8L1201 169.3L1211 170.9L1221 172.1L1231 173L1245 174L1250 171.4L1256.5 174.8L1263 176.2L1269.5 171.5L1276 176.5L1282.5 176.6L1289 171.8L1295.5 176.6L1302 175.2L1308.5 177L1315 174.3L1321.5 177.2L1328 177.5L1334.5 171.5L1341 171.8L1347.5 177L1354 179.4L1360.5 173.4L1367 175.1L1373.5 176.3L1380 174L1386.5 174.4L1393 173.9L1399.5 174.4L1406 176.3L1412.5 173.8L1419 174.5L1425.5 177.8L1432 171.5L1438.5 176.1L1445 177.5L1451.5 173.9L1458 173.2L1464.5 178.1L1471 173.3L1477.5 172.9L1484 175L1490.5 177.2L1497 172.2L1503.5 174L1510 174.1L1516.5 178.3L1523 175L1529.5 178.5L1536 172.7L1542.5 174.1L1549 176.8L1555.5 178.7L1562 175.1L1568.5 173.2L1575 172.3L1581.5 175.7L1588 172.9L1594.5 178.1L1601 178.3L1607.5 172.8L1614 173.6L1620.5 178.1L1627 176.7L1633.5 178.1L1640 174.2L1646.5 172.4L1653 173.8L1659.5 178L1666 173.6L1672.5 174.2L1679 174.8L1685.5 174.8L1692 174.7L1696.5 174" fill="none" stroke="#ff0000" stroke-width="6.6" stroke-linejoin="round" stroke-linecap="butt"/>
<rect x="79" y="62.5" width="1617.5" height="498" fill="none" stroke="#000" stroke-width="2"/>
<line x1="79" y1="560.5" x2="79" y2="550.5" stroke="#000" stroke-width="1.6"/>
<line x1="79" y1="62.5" x2="79" y2="72.5" stroke="#000" stroke-width="1.6"/>
<line x1="310.1" y1="560.5" x2="310.1" y2="550.5" stroke="#000" stroke-width="1.6"/>
<line x1="310.1" y1="62.5" x2="310.1" y2="72.5" stroke="#000" stroke-width="1.6"/>
<line x1="541.1" y1="560.5" x2="541.1" y2="550.5" stroke="#000" stroke-width="1.6"/>
<line x1="541.1" y1="62.5" x2="541.1" y2="72.5" stroke="#000" stroke-width="1.6"/>
<line x1="772.2" y1="560.5" x2="772.2" y2="550.5" stroke="#000" stroke-width="1.6"/>
<line x1="772.2" y1="62.5" x2="772.2" y2="72.5" stroke="#000" stroke-width="1.6"/>
<line x1="1003.3" y1="560.5" x2="1003.3" y2="550.5" stroke="#000" stroke-width="1.6"/>
<line x1="1003.3" y1="62.5" x2="1003.3" y2="72.5" stroke="#000" stroke-width="1.6"/>
<line x1="1234.4" y1="560.5" x2="1234.4" y2="550.5" stroke="#000" stroke-width="1.6"/>
<line x1="1234.4" y1="62.5" x2="1234.4" y2="72.5" stroke="#000" stroke-width="1.6"/>
<line x1="1465.4" y1="560.5" x2="1465.4" y2="550.5" stroke="#000" stroke-width="1.6"/>
<line x1="1465.4" y1="62.5" x2="1465.4" y2="72.5" stroke="#000" stroke-width="1.6"/>
<line x1="1696.5" y1="560.5" x2="1696.5" y2="550.5" stroke="#000" stroke-width="1.6"/>
<line x1="1696.5" y1="62.5" x2="1696.5" y2="72.5" stroke="#000" stroke-width="1.6"/>
<line x1="79" y1="62.5" x2="89" y2="62.5" stroke="#000" stroke-width="1.6"/>
<line x1="1696.5" y1="62.5" x2="1680.5" y2="62.5" stroke="#000" stroke-width="1.6"/>
<line x1="79" y1="313.5" x2="89" y2="313.5" stroke="#000" stroke-width="1.6"/>
<line x1="1696.5" y1="313.5" x2="1680.5" y2="313.5" stroke="#000" stroke-width="1.6"/>
<line x1="79" y1="560.5" x2="89" y2="560.5" stroke="#000" stroke-width="1.6"/>
<line x1="1696.5" y1="560.5" x2="1680.5" y2="560.5" stroke="#000" stroke-width="1.6"/>
<text x="79" y="593.5" font-family="'Liberation Sans', Arial, Helvetica, sans-serif" font-size="27.5" fill="#140c0c" text-anchor="middle" textLength="17" lengthAdjust="spacingAndGlyphs" stroke="#140c0c" stroke-width="0.3">0</text>
<text x="310.1" y="593.5" font-family="'Liberation Sans', Arial, Helvetica, sans-serif" font-size="27.5" fill="#140c0c" text-anchor="middle" textLength="17" lengthAdjust="spacingAndGlyphs" stroke="#140c0c" stroke-width="0.3">1</text>
<text x="541.1" y="593.5" font-family="'Liberation Sans', Arial, Helvetica, sans-serif" font-size="27.5" fill="#140c0c" text-anchor="middle" textLength="17" lengthAdjust="spacingAndGlyphs" stroke="#140c0c" stroke-width="0.3">2</text>
<text x="772.2" y="593.5" font-family="'Liberation Sans', Arial, Helvetica, sans-serif" font-size="27.5" fill="#140c0c" text-anchor="middle" textLength="17" lengthAdjust="spacingAndGlyphs" stroke="#140c0c" stroke-width="0.3">3</text>
<text x="1003.3" y="593.5" font-family="'Liberation Sans', Arial, Helvetica, sans-serif" font-size="27.5" fill="#140c0c" text-anchor="middle" textLength="17" lengthAdjust="spacingAndGlyphs" stroke="#140c0c" stroke-width="0.3">4</text>
<text x="1234.4" y="593.5" font-family="'Liberation Sans', Arial, Helvetica, sans-serif" font-size="27.5" fill="#140c0c" text-anchor="middle" textLength="17" lengthAdjust="spacingAndGlyphs" stroke="#140c0c" stroke-width="0.3">5</text>
<text x="1465.4" y="593.5" font-family="'Liberation Sans', Arial, Helvetica, sans-serif" font-size="27.5" fill="#140c0c" text-anchor="middle" textLength="17" lengthAdjust="spacingAndGlyphs" stroke="#140c0c" stroke-width="0.3">6</text>
<text x="1696.5" y="593.5" font-family="'Liberation Sans', Arial, Helvetica, sans-serif" font-size="27.5" fill="#140c0c" text-anchor="middle" textLength="17" lengthAdjust="spacingAndGlyphs" stroke="#140c0c" stroke-width="0.3">7</text>
<text x="68" y="75.8" font-family="'Liberation Sans', Arial, Helvetica, sans-serif" font-size="27.5" fill="#140c0c" text-anchor="end" textLength="52.5" lengthAdjust="spacingAndGlyphs" stroke="#140c0c" stroke-width="0.3">160</text>
<text x="68" y="322.6" font-family="'Liberation Sans', Arial, Helvetica, sans-serif" font-size="27.5" fill="#140c0c" text-anchor="end" textLength="35" lengthAdjust="spacingAndGlyphs" stroke="#140c0c" stroke-width="0.3">80</text>
<text x="68" y="570.6" font-family="'Liberation Sans', Arial, Helvetica, sans-serif" font-size="27.5" fill="#140c0c" text-anchor="end" textLength="17" lengthAdjust="spacingAndGlyphs" stroke="#140c0c" stroke-width="0.3">0</text>
<text x="1707" y="75.5" font-family="'Liberation Sans', Arial, Helvetica, sans-serif" font-size="27.5" fill="#140c0c" textLength="12" lengthAdjust="spacingAndGlyphs" stroke="#140c0c" stroke-width="0.3">1</text>
<text x="1707" y="323" font-family="'Liberation Sans', Arial, Helvetica, sans-serif" font-size="27.5" fill="#140c0c" textLength="56" lengthAdjust="spacingAndGlyphs" stroke="#140c0c" stroke-width="0.3">1(0)</text>
<text x="1706" y="570.5" font-family="'Liberation Sans', Arial, Helvetica, sans-serif" font-size="27.5" fill="#140c0c" textLength="17" lengthAdjust="spacingAndGlyphs" stroke="#140c0c" stroke-width="0.3">0</text>
<text x="842" y="603" font-family="'Liberation Serif', 'Times New Roman', Times, serif" font-size="35" fill="#000" textLength="68" lengthAdjust="spacingAndGlyphs">T[s]</text>
<text x="22.5" y="370" font-family="'Liberation Serif', 'Times New Roman', Times, serif" font-size="30" fill="#000" textLength="163" lengthAdjust="spacingAndGlyphs" transform="rotate(-90 22.5 370)" stroke="#000" stroke-width="0.15">Cell Index</text>
<text x="246" y="351.6" font-family="'Liberation Serif', 'Times New Roman', Times, serif" font-size="33" fill="#000" font-style="italic">T</text>
<text x="264" y="362.6" font-family="'Liberation Serif', 'Times New Roman', Times, serif" font-size="20.5" fill="#000" font-style="italic">sens</text>
<text x="940" y="204" font-family="'Liberation Serif', 'Times New Roman', Times, serif" font-size="34" fill="#000" font-style="italic">T</text>
<text x="959.5" y="215" font-family="'Liberation Serif', 'Times New Roman', Times, serif" font-size="21" fill="#000" font-style="italic">flexi</text>
<rect x="1036.8" y="451.3" width="162.3" height="80" rx="1.5" fill="#fff" stroke="#000" stroke-width="1.7"/>
<line x1="1056.5" y1="473.7" x2="1156.8" y2="473.7" stroke="#0000ff" stroke-width="6.8"/>
<line x1="1056.5" y1="509.2" x2="1156.8" y2="509.2" stroke="#ff0000" stroke-width="6.8"/>
<text x="1169" y="483" font-family="'Liberation Serif', 'Times New Roman', Times, serif" font-size="40" fill="#000" font-style="italic" textLength="20" lengthAdjust="spacingAndGlyphs">u</text>
<text x="1165" y="518.8" font-family="'Liberation Serif', 'Times New Roman', Times, serif" font-size="40" fill="#000" font-style="italic" textLength="21" lengthAdjust="spacingAndGlyphs">x</text>
<text x="2.5" y="27.9" font-family="'Liberation Sans', Arial, Helvetica, sans-serif" font-size="33" fill="#000" font-weight="bold">A</text>
<rect x="75.9" y="716" width="483.3" height="541" fill="#f0f0f0"/>
<line x1="75.9" y1="1137.2" x2="559.2" y2="1137.2" stroke="#fff" stroke-width="1.3"/>
<line x1="75.9" y1="948.7" x2="559.2" y2="948.7" stroke="#fff" stroke-width="1.3"/>
<line x1="75.9" y1="760.3" x2="559.2" y2="760.3" stroke="#fff" stroke-width="1.3"/>
<line x1="158.9" y1="716" x2="158.9" y2="1257" stroke="#fff" stroke-width="1.3"/>
<line x1="264.8" y1="716" x2="264.8" y2="1257" stroke="#fff" stroke-width="1.3"/>
<line x1="370.6" y1="716" x2="370.6" y2="1257" stroke="#fff" stroke-width="1.3"/>
<line x1="476.5" y1="716" x2="476.5" y2="1257" stroke="#fff" stroke-width="1.3"/>
<line x1="75.9" y1="1231.4" x2="559.2" y2="1231.4" stroke="#fff" stroke-width="2.6"/>
<line x1="75.9" y1="1043" x2="559.2" y2="1043" stroke="#fff" stroke-width="2.6"/>
<line x1="75.9" y1="854.5" x2="559.2" y2="854.5" stroke="#fff" stroke-width="2.6"/>
<line x1="106" y1="716" x2="106" y2="1257" stroke="#fff" stroke-width="2.6"/>
<line x1="211.8" y1="716" x2="211.8" y2="1257" stroke="#fff" stroke-width="2.6"/>
<line x1="317.7" y1="716" x2="317.7" y2="1257" stroke="#fff" stroke-width="2.6"/>
<line x1="423.5" y1="716" x2="423.5" y2="1257" stroke="#fff" stroke-width="2.6"/>
<line x1="529.4" y1="716" x2="529.4" y2="1257" stroke="#fff" stroke-width="2.6"/>
<rect x="97.5" y="740.7" width="8.5" height="490.7" fill="#dd5e56"/>
<rect x="106" y="801.4" width="8.5" height="430" fill="#58d3db"/>
<rect x="118.7" y="744.8" width="8.5" height="486.6" fill="#dd5e56"/>
<rect x="127.2" y="804.7" width="8.5" height="426.7" fill="#58d3db"/>
<rect x="139.9" y="752" width="8.5" height="479.4" fill="#dd5e56"/>
<rect x="148.3" y="808.5" width="8.5" height="422.9" fill="#58d3db"/>
<rect x="161" y="767.4" width="8.5" height="464" fill="#dd5e56"/>
<rect x="169.5" y="876.7" width="8.5" height="354.7" fill="#58d3db"/>
<rect x="182.2" y="786.3" width="8.5" height="445.1" fill="#dd5e56"/>
<rect x="190.7" y="963.8" width="8.5" height="267.6" fill="#58d3db"/>
<rect x="203.4" y="865.8" width="8.5" height="365.6" fill="#dd5e56"/>
<rect x="211.8" y="1020.7" width="8.5" height="210.7" fill="#58d3db"/>
<rect x="224.6" y="956.3" width="8.5" height="275.1" fill="#dd5e56"/>
<rect x="233" y="1062.5" width="8.5" height="168.9" fill="#58d3db"/>
<rect x="245.7" y="1104.4" width="8.5" height="127" fill="#dd5e56"/>
<rect x="254.2" y="1149.2" width="8.5" height="82.2" fill="#58d3db"/>
<rect x="266.9" y="1171.8" width="8.5" height="59.6" fill="#dd5e56"/>
<rect x="275.4" y="1202" width="8.5" height="29.4" fill="#58d3db"/>
<rect x="288.1" y="1202" width="8.5" height="29.4" fill="#dd5e56"/>
<rect x="296.5" y="1213.7" width="8.5" height="17.7" fill="#58d3db"/>
<rect x="309.2" y="1213.7" width="8.5" height="17.7" fill="#dd5e56"/>
<rect x="317.7" y="1217.1" width="8.5" height="14.3" fill="#58d3db"/>
<rect x="330.4" y="1209.9" width="8.5" height="21.5" fill="#dd5e56"/>
<rect x="338.9" y="1213.7" width="8.5" height="17.7" fill="#58d3db"/>
<rect x="351.6" y="1194.5" width="8.5" height="36.9" fill="#dd5e56"/>
<rect x="360" y="1209.9" width="8.5" height="21.5" fill="#58d3db"/>
<rect x="372.7" y="1096.5" width="8.5" height="134.9" fill="#dd5e56"/>
<rect x="381.2" y="1156.8" width="8.5" height="74.6" fill="#58d3db"/>
<rect x="393.9" y="1058.8" width="8.5" height="172.6" fill="#dd5e56"/>
<rect x="402.4" y="1126.6" width="8.5" height="104.8" fill="#58d3db"/>
<rect x="415.1" y="990.6" width="8.5" height="240.8" fill="#dd5e56"/>
<rect x="423.5" y="1077.2" width="8.5" height="154.2" fill="#58d3db"/>
<rect x="436.3" y="986.8" width="8.5" height="244.6" fill="#dd5e56"/>
<rect x="444.7" y="1070.1" width="8.5" height="161.3" fill="#58d3db"/>
<rect x="457.4" y="982.6" width="8.5" height="248.8" fill="#dd5e56"/>
<rect x="465.9" y="1065.9" width="8.5" height="165.5" fill="#58d3db"/>
<rect x="478.6" y="967.9" width="8.5" height="263.5" fill="#dd5e56"/>
<rect x="487.1" y="1062.5" width="8.5" height="168.9" fill="#58d3db"/>
<rect x="499.8" y="952.9" width="8.5" height="278.5" fill="#dd5e56"/>
<rect x="508.2" y="1054.6" width="8.5" height="176.8" fill="#58d3db"/>
<rect x="520.9" y="945.3" width="8.5" height="286.1" fill="#dd5e56"/>
<rect x="529.4" y="1050.9" width="8.5" height="180.5" fill="#58d3db"/>
<line x1="66.6" y1="1231.4" x2="75.9" y2="1231.4" stroke="#333" stroke-width="2.8"/>
<text x="57" y="1239.8" font-family="'Liberation Sans', Arial, Helvetica, sans-serif" font-size="30.4" fill="#595959" text-anchor="end">0</text>
<line x1="66.6" y1="1043" x2="75.9" y2="1043" stroke="#333" stroke-width="2.8"/>
<text x="57" y="1051.4" font-family="'Liberation Sans', Arial, Helvetica, sans-serif" font-size="30.4" fill="#595959" text-anchor="end">50</text>
<line x1="66.6" y1="854.5" x2="75.9" y2="854.5" stroke="#333" stroke-width="2.8"/>
<text x="57" y="862.9" font-family="'Liberation Sans', Arial, Helvetica, sans-serif" font-size="30.4" fill="#595959" text-anchor="end">100</text>
<line x1="106" y1="1257" x2="106" y2="1266" stroke="#333" stroke-width="2.8"/>
<text x="106" y="1297.8" font-family="'Liberation Sans', Arial, Helvetica, sans-serif" font-size="33" fill="#595959" text-anchor="middle">0</text>
<line x1="211.8" y1="1257" x2="211.8" y2="1266" stroke="#333" stroke-width="2.8"/>
<text x="211.8" y="1297.8" font-family="'Liberation Sans', Arial, Helvetica, sans-serif" font-size="33" fill="#595959" text-anchor="middle">0.5</text>
<line x1="317.7" y1="1257" x2="317.7" y2="1266" stroke="#333" stroke-width="2.8"/>
<text x="317.7" y="1297.8" font-family="'Liberation Sans', Arial, Helvetica, sans-serif" font-size="33" fill="#595959" text-anchor="middle">1</text>
<line x1="423.5" y1="1257" x2="423.5" y2="1266" stroke="#333" stroke-width="2.8"/>
<text x="423.5" y="1297.8" font-family="'Liberation Sans', Arial, Helvetica, sans-serif" font-size="33" fill="#595959" text-anchor="middle">1.5</text>
<line x1="529.4" y1="1257" x2="529.4" y2="1266" stroke="#333" stroke-width="2.8"/>
<text x="529.4" y="1297.8" font-family="'Liberation Sans', Arial, Helvetica, sans-serif" font-size="33" fill="#595959" text-anchor="middle">2</text>
<text x="294.5" y="1344.6" font-family="'Liberation Serif', 'Times New Roman', Times, serif" font-size="39" fill="#000" textLength="54" lengthAdjust="spacingAndGlyphs">DA</text>
<text transform="translate(50,1201) rotate(-90)" font-family="'Liberation Serif', 'Times New Roman', Times, serif" fill="#000" textLength="130" lengthAdjust="spacingAndGlyphs"><tspan font-size="24">T</tspan><tspan font-size="16" dy="4.7">sens</tspan><tspan font-size="24" dy="-4.7"> [ms]</tspan></text>
<rect x="350.5" y="741.7" width="25.7" height="25.6" fill="#dd5e56"/>
<rect x="350.5" y="777.6" width="25.7" height="25.6" fill="#58d3db"/>
<text x="386.5" y="762.9" font-family="'Liberation Serif', 'Times New Roman', Times, serif" font-size="28.5" fill="#000" textLength="106" lengthAdjust="spacingAndGlyphs">strength1</text>
<text x="386.5" y="798.8" font-family="'Liberation Serif', 'Times New Roman', Times, serif" font-size="28.5" fill="#000" textLength="106" lengthAdjust="spacingAndGlyphs">strength2</text>
<text x="3" y="687.5" font-family="'Liberation Sans', Arial, Helvetica, sans-serif" font-size="33" fill="#000" font-weight="bold">B</text>
<rect x="652.3" y="716.7" width="482.3" height="540.3" fill="#f0f0f0"/>
<line x1="652.3" y1="1134.3" x2="1134.6" y2="1134.3" stroke="#fff" stroke-width="1.3"/>
<line x1="652.3" y1="937.7" x2="1134.6" y2="937.7" stroke="#fff" stroke-width="1.3"/>
<line x1="652.3" y1="741.1" x2="1134.6" y2="741.1" stroke="#fff" stroke-width="1.3"/>
<line x1="729.4" y1="716.7" x2="729.4" y2="1257" stroke="#fff" stroke-width="1.3"/>
<line x1="839" y1="716.7" x2="839" y2="1257" stroke="#fff" stroke-width="1.3"/>
<line x1="948.6" y1="716.7" x2="948.6" y2="1257" stroke="#fff" stroke-width="1.3"/>
<line x1="1058.2" y1="716.7" x2="1058.2" y2="1257" stroke="#fff" stroke-width="1.3"/>
<line x1="652.3" y1="1232.6" x2="1134.6" y2="1232.6" stroke="#fff" stroke-width="2.6"/>
<line x1="652.3" y1="1036" x2="1134.6" y2="1036" stroke="#fff" stroke-width="2.6"/>
<line x1="652.3" y1="839.4" x2="1134.6" y2="839.4" stroke="#fff" stroke-width="2.6"/>
<line x1="674.6" y1="716.7" x2="674.6" y2="1257" stroke="#fff" stroke-width="2.6"/>
<line x1="784.2" y1="716.7" x2="784.2" y2="1257" stroke="#fff" stroke-width="2.6"/>
<line x1="893.8" y1="716.7" x2="893.8" y2="1257" stroke="#fff" stroke-width="2.6"/>
<line x1="1003.4" y1="716.7" x2="1003.4" y2="1257" stroke="#fff" stroke-width="2.6"/>
<line x1="1113" y1="716.7" x2="1113" y2="1257" stroke="#fff" stroke-width="2.6"/>
<path d="M674.6 1216.1L696.5 1216.1L718.4 1216.1L740.4 1216.1L762.3 1213.9L784.2 1209L806.1 1202.1L828 1175.6L850 1108.7L871.9 986.8L893.8 839.4L915.7 904.3L937.6 1036L959.6 1176.6L981.5 1190.3L1003.4 1203.1L1025.3 1203.1L1047.2 1203.1L1069.2 1204.1L1091.1 1206.1L1113 1207" fill="none" stroke="#dd5e56" stroke-width="5.2" stroke-linejoin="round" stroke-linecap="round"/>
<path d="M666.1 1207.6L683.1 1224.6M666.1 1224.6L683.1 1207.6" stroke="#dd5e56" stroke-width="3.2"/>
<path d="M688 1207.6L705 1224.6M688 1224.6L705 1207.6" stroke="#dd5e56" stroke-width="3.2"/>
<path d="M709.9 1207.6L726.9 1224.6M709.9 1224.6L726.9 1207.6" stroke="#dd5e56" stroke-width="3.2"/>
<path d="M731.9 1207.6L748.9 1224.6M731.9 1224.6L748.9 1207.6" stroke="#dd5e56" stroke-width="3.2"/>
<path d="M753.8 1205.4L770.8 1222.4M753.8 1222.4L770.8 1205.4" stroke="#dd5e56" stroke-width="3.2"/>
<path d="M775.7 1200.5L792.7 1217.5M775.7 1217.5L792.7 1200.5" stroke="#dd5e56" stroke-width="3.2"/>
<path d="M797.6 1193.6L814.6 1210.6M797.6 1210.6L814.6 1193.6" stroke="#dd5e56" stroke-width="3.2"/>
<path d="M819.5 1167.1L836.5 1184.1M819.5 1184.1L836.5 1167.1" stroke="#dd5e56" stroke-width="3.2"/>
<path d="M841.5 1100.2L858.5 1117.2M841.5 1117.2L858.5 1100.2" stroke="#dd5e56" stroke-width="3.2"/>
<path d="M863.4 978.3L880.4 995.3M863.4 995.3L880.4 978.3" stroke="#dd5e56" stroke-width="3.2"/>
<path d="M885.3 830.9L902.3 847.9M885.3 847.9L902.3 830.9" stroke="#dd5e56" stroke-width="3.2"/>
<path d="M907.2 895.8L924.2 912.8M907.2 912.8L924.2 895.8" stroke="#dd5e56" stroke-width="3.2"/>
<path d="M929.1 1027.5L946.1 1044.5M929.1 1044.5L946.1 1027.5" stroke="#dd5e56" stroke-width="3.2"/>
<path d="M951.1 1168.1L968.1 1185.1M951.1 1185.1L968.1 1168.1" stroke="#dd5e56" stroke-width="3.2"/>
<path d="M973 1181.8L990 1198.8M973 1198.8L990 1181.8" stroke="#dd5e56" stroke-width="3.2"/>
<path d="M994.9 1194.6L1011.9 1211.6M994.9 1211.6L1011.9 1194.6" stroke="#dd5e56" stroke-width="3.2"/>
<path d="M1016.8 1194.6L1033.8 1211.6M1016.8 1211.6L1033.8 1194.6" stroke="#dd5e56" stroke-width="3.2"/>
<path d="M1038.7 1194.6L1055.7 1211.6M1038.7 1211.6L1055.7 1194.6" stroke="#dd5e56" stroke-width="3.2"/>
<path d="M1060.7 1195.6L1077.7 1212.6M1060.7 1212.6L1077.7 1195.6" stroke="#dd5e56" stroke-width="3.2"/>
<path d="M1082.6 1197.6L1099.6 1214.6M1082.6 1214.6L1099.6 1197.6" stroke="#dd5e56" stroke-width="3.2"/>
<path d="M1104.5 1198.5L1121.5 1215.5M1104.5 1215.5L1121.5 1198.5" stroke="#dd5e56" stroke-width="3.2"/>
<path d="M674.6 1215.5L696.5 1215.5L718.4 1215.5L740.4 1212L762.3 1205.1L784.2 1197.2L806.1 1189.3L828 1143.1L850 986.8L871.9 839.4L893.8 741.1L915.7 839.4L937.6 904.3L959.6 1134.3L981.5 1161.8L1003.4 1183.4L1025.3 1187.4L1047.2 1189.3L1069.2 1189.3L1091.1 1191.3L1113 1191.3" fill="none" stroke="#58d3db" stroke-width="5.2" stroke-linejoin="round" stroke-linecap="round"/>
<circle cx="674.6" cy="1215.5" r="10" fill="#58d3db"/>
<circle cx="696.5" cy="1215.5" r="10" fill="#58d3db"/>
<circle cx="718.4" cy="1215.5" r="10" fill="#58d3db"/>
<circle cx="740.4" cy="1212" r="10" fill="#58d3db"/>
<circle cx="762.3" cy="1205.1" r="10" fill="#58d3db"/>
<circle cx="784.2" cy="1197.2" r="10" fill="#58d3db"/>
<circle cx="806.1" cy="1189.3" r="10" fill="#58d3db"/>
<circle cx="828" cy="1143.1" r="10" fill="#58d3db"/>
<circle cx="850" cy="986.8" r="10" fill="#58d3db"/>
<circle cx="871.9" cy="839.4" r="10" fill="#58d3db"/>
<circle cx="893.8" cy="741.1" r="10" fill="#58d3db"/>
<circle cx="915.7" cy="839.4" r="10" fill="#58d3db"/>
<circle cx="937.6" cy="904.3" r="10" fill="#58d3db"/>
<circle cx="959.6" cy="1134.3" r="10" fill="#58d3db"/>
<circle cx="981.5" cy="1161.8" r="10" fill="#58d3db"/>
<circle cx="1003.4" cy="1183.4" r="10" fill="#58d3db"/>
<circle cx="1025.3" cy="1187.4" r="10" fill="#58d3db"/>
<circle cx="1047.2" cy="1189.3" r="10" fill="#58d3db"/>
<circle cx="1069.2" cy="1189.3" r="10" fill="#58d3db"/>
<circle cx="1091.1" cy="1191.3" r="10" fill="#58d3db"/>
<circle cx="1113" cy="1191.3" r="10" fill="#58d3db"/>
<line x1="893.8" y1="1232.6" x2="893.8" y2="746.1" stroke="#a0a0a0" stroke-width="5.2" stroke-dasharray="20 11"/>
<line x1="643.5" y1="1232.6" x2="652.3" y2="1232.6" stroke="#333" stroke-width="2.8"/>
<text x="635" y="1241.4" font-family="'Liberation Sans', Arial, Helvetica, sans-serif" font-size="33" fill="#595959" text-anchor="end">0</text>
<line x1="643.5" y1="1036" x2="652.3" y2="1036" stroke="#333" stroke-width="2.8"/>
<text x="635" y="1044.8" font-family="'Liberation Sans', Arial, Helvetica, sans-serif" font-size="33" fill="#595959" text-anchor="end">10</text>
<line x1="643.5" y1="839.4" x2="652.3" y2="839.4" stroke="#333" stroke-width="2.8"/>
<text x="635" y="848.2" font-family="'Liberation Sans', Arial, Helvetica, sans-serif" font-size="33" fill="#595959" text-anchor="end">20</text>
<line x1="674.6" y1="1257" x2="674.6" y2="1266" stroke="#333" stroke-width="2.8"/>
<text x="674.6" y="1297.8" font-family="'Liberation Sans', Arial, Helvetica, sans-serif" font-size="33" fill="#595959" text-anchor="middle">0</text>
<line x1="784.2" y1="1257" x2="784.2" y2="1266" stroke="#333" stroke-width="2.8"/>
<text x="784.2" y="1297.8" font-family="'Liberation Sans', Arial, Helvetica, sans-serif" font-size="33" fill="#595959" text-anchor="middle">0.5</text>
<line x1="893.8" y1="1257" x2="893.8" y2="1266" stroke="#333" stroke-width="2.8"/>
<text x="893.8" y="1297.8" font-family="'Liberation Sans', Arial, Helvetica, sans-serif" font-size="33" fill="#595959" text-anchor="middle">1</text>
<line x1="1003.4" y1="1257" x2="1003.4" y2="1266" stroke="#333" stroke-width="2.8"/>
<text x="1003.4" y="1297.8" font-family="'Liberation Sans', Arial, Helvetica, sans-serif" font-size="33" fill="#595959" text-anchor="middle">1.5</text>
<line x1="1113" y1="1257" x2="1113" y2="1266" stroke="#333" stroke-width="2.8"/>
<text x="1113" y="1297.8" font-family="'Liberation Sans', Arial, Helvetica, sans-serif" font-size="33" fill="#595959" text-anchor="middle">2</text>
<text x="870" y="1344.6" font-family="'Liberation Serif', 'Times New Roman', Times, serif" font-size="39" fill="#000" textLength="54" lengthAdjust="spacingAndGlyphs">DA</text>
<text x="593" y="1152.5" font-family="'Liberation Serif', 'Times New Roman', Times, serif" font-size="25" fill="#000" textLength="206" lengthAdjust="spacingAndGlyphs" transform="rotate(-90 593 1152.5)" stroke="#000" stroke-width="0.15">Sensitivity [%]</text>
<rect x="922.5" y="734" width="33.5" height="36" fill="#f2f2f2"/>
<rect x="922.5" y="774" width="33.5" height="36" fill="#f2f2f2"/>
<line x1="923" y1="752" x2="956" y2="752" stroke="#dd5e56" stroke-width="5.2"/>
<path d="M930.8 743.5L947.8 760.5M930.8 760.5L947.8 743.5" stroke="#dd5e56" stroke-width="3.2"/>
<line x1="923" y1="792" x2="956" y2="792" stroke="#58d3db" stroke-width="5.2"/>
<circle cx="939.3" cy="792" r="10" fill="#58d3db"/>
<text x="967" y="759.4" font-family="'Liberation Serif', 'Times New Roman', Times, serif" font-size="28.5" fill="#000" textLength="105" lengthAdjust="spacingAndGlyphs">strength1</text>
<text x="967" y="799.5" font-family="'Liberation Serif', 'Times New Roman', Times, serif" font-size="28.5" fill="#000" textLength="105" lengthAdjust="spacingAndGlyphs">strength2</text>
<text x="582" y="687.6" font-family="'Liberation Sans', Arial, Helvetica, sans-serif" font-size="33" fill="#000" font-weight="bold">C</text>
<rect x="1227.8" y="721.7" width="482.6" height="541" fill="#f0f0f0"/>
<line x1="1227.8" y1="1114.7" x2="1710.4" y2="1114.7" stroke="#fff" stroke-width="1.3"/>
<line x1="1227.8" y1="868.9" x2="1710.4" y2="868.9" stroke="#fff" stroke-width="1.3"/>
<line x1="1303.5" y1="721.7" x2="1303.5" y2="1262.7" stroke="#fff" stroke-width="1.3"/>
<line x1="1413.5" y1="721.7" x2="1413.5" y2="1262.7" stroke="#fff" stroke-width="1.3"/>
<line x1="1523.3" y1="721.7" x2="1523.3" y2="1262.7" stroke="#fff" stroke-width="1.3"/>
<line x1="1633.2" y1="721.7" x2="1633.2" y2="1262.7" stroke="#fff" stroke-width="1.3"/>
<line x1="1227.8" y1="1237.6" x2="1710.4" y2="1237.6" stroke="#fff" stroke-width="2.6"/>
<line x1="1227.8" y1="991.8" x2="1710.4" y2="991.8" stroke="#fff" stroke-width="2.6"/>
<line x1="1227.8" y1="746" x2="1710.4" y2="746" stroke="#fff" stroke-width="2.6"/>
<line x1="1248.6" y1="721.7" x2="1248.6" y2="1262.7" stroke="#fff" stroke-width="2.6"/>
<line x1="1358.5" y1="721.7" x2="1358.5" y2="1262.7" stroke="#fff" stroke-width="2.6"/>
<line x1="1468.4" y1="721.7" x2="1468.4" y2="1262.7" stroke="#fff" stroke-width="2.6"/>
<line x1="1578.3" y1="721.7" x2="1578.3" y2="1262.7" stroke="#fff" stroke-width="2.6"/>
<line x1="1688.2" y1="721.7" x2="1688.2" y2="1262.7" stroke="#fff" stroke-width="2.6"/>
<path d="M1248.6 1173.7L1270.6 1172.5L1292.6 1171.2L1314.5 1163.1L1336.5 1155.3L1358.5 1146.2L1380.5 1124.8L1402.5 1035.3L1424.4 975.3L1446.4 864.2L1468.4 745L1490.4 896.4L1512.4 975.3L1534.3 1012L1556.3 1035.3L1578.3 1080L1600.3 1112.2L1622.3 1150.8L1644.2 1171.2L1666.2 1192.9L1688.2 1195.3" fill="none" stroke="#d55e00" stroke-width="5.6" stroke-linejoin="round" stroke-linecap="round"/>
<path d="M1248.6 1160.7L1251.8 1169.3L1261 1169.7L1253.8 1175.4L1256.2 1184.2L1248.6 1179.2L1241 1184.2L1243.4 1175.4L1236.2 1169.7L1245.4 1169.3ZM1270.6 1159.5L1273.8 1168L1282.9 1168.4L1275.8 1174.2L1278.2 1183L1270.6 1177.9L1262.9 1183L1265.4 1174.2L1258.2 1168.4L1267.4 1168ZM1292.6 1158.2L1295.8 1166.8L1304.9 1167.2L1297.8 1172.9L1300.2 1181.8L1292.6 1176.7L1284.9 1181.8L1287.4 1172.9L1280.2 1167.2L1289.4 1166.8ZM1314.5 1150.1L1317.7 1158.7L1326.9 1159.1L1319.7 1164.8L1322.2 1173.6L1314.5 1168.6L1306.9 1173.6L1309.3 1164.8L1302.2 1159.1L1311.3 1158.7ZM1336.5 1142.3L1339.7 1150.8L1348.9 1151.2L1341.7 1156.9L1344.2 1165.8L1336.5 1160.7L1328.9 1165.8L1331.3 1156.9L1324.2 1151.2L1333.3 1150.8ZM1358.5 1133.2L1361.7 1141.7L1370.9 1142.1L1363.7 1147.8L1366.1 1156.7L1358.5 1151.6L1350.9 1156.7L1353.3 1147.8L1346.1 1142.1L1355.3 1141.7ZM1380.5 1111.8L1383.7 1120.4L1392.8 1120.8L1385.7 1126.5L1388.1 1135.3L1380.5 1130.2L1372.8 1135.3L1375.3 1126.5L1368.1 1120.8L1377.3 1120.4ZM1402.5 1022.3L1405.7 1030.9L1414.8 1031.3L1407.7 1037L1410.1 1045.8L1402.5 1040.8L1394.8 1045.8L1397.3 1037L1390.1 1031.3L1399.3 1030.9ZM1424.4 962.3L1427.6 970.9L1436.8 971.3L1429.6 977L1432.1 985.8L1424.4 980.8L1416.8 985.8L1419.2 977L1412.1 971.3L1421.2 970.9ZM1446.4 851.2L1449.6 859.8L1458.8 860.2L1451.6 865.9L1454.1 874.7L1446.4 869.7L1438.8 874.7L1441.2 865.9L1434.1 860.2L1443.2 859.8ZM1468.4 732L1471.6 740.6L1480.8 741L1473.6 746.7L1476 755.5L1468.4 750.5L1460.8 755.5L1463.2 746.7L1456 741L1465.2 740.6ZM1490.4 883.4L1493.6 892L1502.7 892.4L1495.6 898.1L1498 906.9L1490.4 901.9L1482.7 906.9L1485.2 898.1L1478 892.4L1487.2 892ZM1512.4 962.3L1515.6 970.9L1524.7 971.3L1517.6 977L1520 985.8L1512.4 980.8L1504.7 985.8L1507.2 977L1500 971.3L1509.2 970.9ZM1534.3 999L1537.5 1007.5L1546.7 1007.9L1539.5 1013.6L1542 1022.5L1534.3 1017.4L1526.7 1022.5L1529.1 1013.6L1522 1007.9L1531.1 1007.5ZM1556.3 1022.3L1559.5 1030.9L1568.7 1031.3L1561.5 1037L1564 1045.8L1556.3 1040.8L1548.7 1045.8L1551.1 1037L1544 1031.3L1553.1 1030.9ZM1578.3 1067L1581.5 1075.6L1590.7 1076L1583.5 1081.7L1585.9 1090.6L1578.3 1085.5L1570.7 1090.6L1573.1 1081.7L1565.9 1076L1575.1 1075.6ZM1600.3 1099.2L1603.5 1107.8L1612.6 1108.2L1605.5 1113.9L1607.9 1122.8L1600.3 1117.7L1592.6 1122.8L1595.1 1113.9L1587.9 1108.2L1597.1 1107.8ZM1622.3 1137.8L1625.5 1146.4L1634.6 1146.8L1627.5 1152.5L1629.9 1161.3L1622.3 1156.3L1614.6 1161.3L1617.1 1152.5L1609.9 1146.8L1619.1 1146.4ZM1644.2 1158.2L1647.4 1166.8L1656.6 1167.2L1649.4 1172.9L1651.9 1181.8L1644.2 1176.7L1636.6 1181.8L1639 1172.9L1631.9 1167.2L1641 1166.8ZM1666.2 1179.9L1669.4 1188.4L1678.6 1188.8L1671.4 1194.6L1673.9 1203.4L1666.2 1198.3L1658.6 1203.4L1661 1194.6L1653.9 1188.8L1663 1188.4ZM1688.2 1182.3L1691.4 1190.9L1700.6 1191.3L1693.4 1197L1695.8 1205.8L1688.2 1200.8L1680.6 1205.8L1683 1197L1675.8 1191.3L1685 1190.9Z" fill="#d55e00" stroke="#d55e00" stroke-width="2.2" stroke-linejoin="round"/>
<path d="M1248.6 930.6L1270.6 936.5L1292.6 943.9L1314.5 975.3L1336.5 1002.1L1358.5 1025.5L1380.5 1065.5L1402.5 1140L1424.4 1162.4L1446.4 1185.5L1468.4 1200L1490.4 1182L1512.4 1162.4L1534.3 1151.6L1556.3 1141L1578.3 1112.2L1600.3 1081.8L1622.3 1015.4L1644.2 950.3L1666.2 820.2L1688.2 780.9" fill="none" stroke="#0072b2" stroke-width="5.6" stroke-linejoin="round" stroke-linecap="round"/>
<path d="M1248.6 917.6L1251.8 926.2L1261 926.6L1253.8 932.3L1256.2 941.1L1248.6 936.1L1241 941.1L1243.4 932.3L1236.2 926.6L1245.4 926.2ZM1270.6 923.5L1273.8 932.1L1282.9 932.5L1275.8 938.2L1278.2 947L1270.6 942L1262.9 947L1265.4 938.2L1258.2 932.5L1267.4 932.1ZM1292.6 930.9L1295.8 939.5L1304.9 939.9L1297.8 945.6L1300.2 954.4L1292.6 949.3L1284.9 954.4L1287.4 945.6L1280.2 939.9L1289.4 939.5ZM1314.5 962.3L1317.7 970.9L1326.9 971.3L1319.7 977L1322.2 985.8L1314.5 980.8L1306.9 985.8L1309.3 977L1302.2 971.3L1311.3 970.9ZM1336.5 989.1L1339.7 997.7L1348.9 998.1L1341.7 1003.8L1344.2 1012.6L1336.5 1007.6L1328.9 1012.6L1331.3 1003.8L1324.2 998.1L1333.3 997.7ZM1358.5 1012.5L1361.7 1021.1L1370.9 1021.5L1363.7 1027.2L1366.1 1036L1358.5 1030.9L1350.9 1036L1353.3 1027.2L1346.1 1021.5L1355.3 1021.1ZM1380.5 1052.5L1383.7 1061.1L1392.8 1061.5L1385.7 1067.2L1388.1 1076.1L1380.5 1071L1372.8 1076.1L1375.3 1067.2L1368.1 1061.5L1377.3 1061.1ZM1402.5 1127L1405.7 1135.6L1414.8 1136L1407.7 1141.7L1410.1 1150.5L1402.5 1145.5L1394.8 1150.5L1397.3 1141.7L1390.1 1136L1399.3 1135.6ZM1424.4 1149.4L1427.6 1158L1436.8 1158.4L1429.6 1164.1L1432.1 1172.9L1424.4 1167.8L1416.8 1172.9L1419.2 1164.1L1412.1 1158.4L1421.2 1158ZM1446.4 1172.5L1449.6 1181.1L1458.8 1181.5L1451.6 1187.2L1454.1 1196L1446.4 1191L1438.8 1196L1441.2 1187.2L1434.1 1181.5L1443.2 1181.1ZM1468.4 1187L1471.6 1195.6L1480.8 1196L1473.6 1201.7L1476 1210.5L1468.4 1205.5L1460.8 1210.5L1463.2 1201.7L1456 1196L1465.2 1195.6ZM1490.4 1169L1493.6 1177.6L1502.7 1178L1495.6 1183.7L1498 1192.6L1490.4 1187.5L1482.7 1192.6L1485.2 1183.7L1478 1178L1487.2 1177.6ZM1512.4 1149.4L1515.6 1158L1524.7 1158.4L1517.6 1164.1L1520 1172.9L1512.4 1167.8L1504.7 1172.9L1507.2 1164.1L1500 1158.4L1509.2 1158ZM1534.3 1138.6L1537.5 1147.2L1546.7 1147.6L1539.5 1153.3L1542 1162.1L1534.3 1157L1526.7 1162.1L1529.1 1153.3L1522 1147.6L1531.1 1147.2ZM1556.3 1128L1559.5 1136.6L1568.7 1137L1561.5 1142.7L1564 1151.5L1556.3 1146.5L1548.7 1151.5L1551.1 1142.7L1544 1137L1553.1 1136.6ZM1578.3 1099.2L1581.5 1107.8L1590.7 1108.2L1583.5 1113.9L1585.9 1122.8L1578.3 1117.7L1570.7 1122.8L1573.1 1113.9L1565.9 1108.2L1575.1 1107.8ZM1600.3 1068.8L1603.5 1077.3L1612.6 1077.7L1605.5 1083.5L1607.9 1092.3L1600.3 1087.2L1592.6 1092.3L1595.1 1083.5L1587.9 1077.7L1597.1 1077.3ZM1622.3 1002.4L1625.5 1011L1634.6 1011.4L1627.5 1017.1L1629.9 1025.9L1622.3 1020.9L1614.6 1025.9L1617.1 1017.1L1609.9 1011.4L1619.1 1011ZM1644.2 937.3L1647.4 945.8L1656.6 946.2L1649.4 951.9L1651.9 960.8L1644.2 955.7L1636.6 960.8L1639 951.9L1631.9 946.2L1641 945.8ZM1666.2 807.2L1669.4 815.8L1678.6 816.2L1671.4 821.9L1673.9 830.7L1666.2 825.7L1658.6 830.7L1661 821.9L1653.9 816.2L1663 815.8ZM1688.2 767.9L1691.4 776.5L1700.6 776.9L1693.4 782.6L1695.8 791.4L1688.2 786.4L1680.6 791.4L1683 782.6L1675.8 776.9L1685 776.5Z" fill="#0072b2" stroke="#0072b2" stroke-width="2.2" stroke-linejoin="round"/>
<line x1="1468.4" y1="1237.6" x2="1468.4" y2="756" stroke="#a0a0a0" stroke-width="5.2" stroke-dasharray="20 11"/>
<line x1="1218.5" y1="1237.6" x2="1227.8" y2="1237.6" stroke="#333" stroke-width="2.8"/>
<text x="1211" y="1246" font-family="'Liberation Sans', Arial, Helvetica, sans-serif" font-size="30.4" fill="#595959" text-anchor="end">0</text>
<line x1="1218.5" y1="991.8" x2="1227.8" y2="991.8" stroke="#333" stroke-width="2.8"/>
<text x="1211" y="1000.2" font-family="'Liberation Sans', Arial, Helvetica, sans-serif" font-size="30.4" fill="#595959" text-anchor="end">100</text>
<line x1="1218.5" y1="746" x2="1227.8" y2="746" stroke="#333" stroke-width="2.8"/>
<text x="1211" y="754.4" font-family="'Liberation Sans', Arial, Helvetica, sans-serif" font-size="30.4" fill="#595959" text-anchor="end">200</text>
<line x1="1710.4" y1="1237.6" x2="1719.5" y2="1237.6" stroke="#333" stroke-width="2.8"/>
<line x1="1710.4" y1="991.8" x2="1719.5" y2="991.8" stroke="#333" stroke-width="2.8"/>
<text x="1727" y="1000.2" font-family="'Liberation Sans', Arial, Helvetica, sans-serif" font-size="30.4" fill="#595959">0.5</text>
<line x1="1710.4" y1="746" x2="1719.5" y2="746" stroke="#333" stroke-width="2.8"/>
<text x="1727" y="754.4" font-family="'Liberation Sans', Arial, Helvetica, sans-serif" font-size="30.4" fill="#595959">1</text>
<line x1="1248.6" y1="1262.7" x2="1248.6" y2="1271.5" stroke="#333" stroke-width="2.8"/>
<text x="1248.6" y="1302.5" font-family="'Liberation Sans', Arial, Helvetica, sans-serif" font-size="33" fill="#595959" text-anchor="middle">0</text>
<line x1="1358.5" y1="1262.7" x2="1358.5" y2="1271.5" stroke="#333" stroke-width="2.8"/>
<text x="1358.5" y="1302.5" font-family="'Liberation Sans', Arial, Helvetica, sans-serif" font-size="33" fill="#595959" text-anchor="middle">0.5</text>
<line x1="1468.4" y1="1262.7" x2="1468.4" y2="1271.5" stroke="#333" stroke-width="2.8"/>
<text x="1468.4" y="1302.5" font-family="'Liberation Sans', Arial, Helvetica, sans-serif" font-size="33" fill="#595959" text-anchor="middle">1</text>
<line x1="1578.3" y1="1262.7" x2="1578.3" y2="1271.5" stroke="#333" stroke-width="2.8"/>
<text x="1578.3" y="1302.5" font-family="'Liberation Sans', Arial, Helvetica, sans-serif" font-size="33" fill="#595959" text-anchor="middle">1.5</text>
<line x1="1688.2" y1="1262.7" x2="1688.2" y2="1271.5" stroke="#333" stroke-width="2.8"/>
<text x="1688.2" y="1302.5" font-family="'Liberation Sans', Arial, Helvetica, sans-serif" font-size="33" fill="#595959" text-anchor="middle">2</text>
<text x="1442.5" y="1340.5" font-family="'Liberation Serif', 'Times New Roman', Times, serif" font-size="39" fill="#000" textLength="54" lengthAdjust="spacingAndGlyphs">DA</text>
<text transform="translate(1193.5,1191) rotate(-90)" font-family="'Liberation Serif', 'Times New Roman', Times, serif" fill="#000" textLength="136" lengthAdjust="spacingAndGlyphs"><tspan font-size="24">T</tspan><tspan font-size="16" dy="4.7">flexi</tspan><tspan font-size="24" dy="-4.7"> [ms]</tspan></text>
<text x="1742.7" y="1200.6" font-family="'Liberation Serif', 'Times New Roman', Times, serif" font-size="24" fill="#000" textLength="145" lengthAdjust="spacingAndGlyphs" transform="rotate(-90 1742.7 1200.6)" stroke="#000" stroke-width="0.2">Flexibility</text>
<rect x="1253" y="761" width="41" height="41" fill="#f2f2f2"/>
<rect x="1253" y="825" width="41" height="41" fill="#f2f2f2"/>
<line x1="1253" y1="781.5" x2="1294" y2="781.5" stroke="#d55e00" stroke-width="5.6"/>
<path d="M1273.5 768.5L1276.7 777.1L1285.9 777.5L1278.7 783.2L1281.1 792L1273.5 787L1265.9 792L1268.3 783.2L1261.1 777.5L1270.3 777.1Z" fill="#d55e00" stroke="#d55e00" stroke-width="2.2" stroke-linejoin="round"/>
<line x1="1253" y1="845.5" x2="1294" y2="845.5" stroke="#0072b2" stroke-width="5.6"/>
<path d="M1273.5 832.5L1276.7 841.1L1285.9 841.5L1278.7 847.2L1281.1 856L1273.5 851L1265.9 856L1268.3 847.2L1261.1 841.5L1270.3 841.1Z" fill="#0072b2" stroke="#0072b2" stroke-width="2.2" stroke-linejoin="round"/>
<text x="1304" y="791.5" font-family="'Liberation Serif', 'Times New Roman', Times, serif" font-size="27" fill="#000" font-style="italic" textLength="113" lengthAdjust="spacingAndGlyphs">Flexibility</text>
<text x="1305" y="852.4" font-family="'Liberation Serif', 'Times New Roman', Times, serif" font-size="30" fill="#000" font-style="italic">T</text>
<text x="1322" y="862" font-family="'Liberation Serif', 'Times New Roman', Times, serif" font-size="19" fill="#000" font-style="italic">flexi</text>
<text x="1163" y="687.6" font-family="'Liberation Sans', Arial, Helvetica, sans-serif" font-size="33" fill="#000" font-weight="bold">D</text>
<rect x="75.8" y="1430" width="291.1" height="562" fill="#f0f0f0"/>
<line x1="75.8" y1="1519.5" x2="366.9" y2="1519.5" stroke="#fff" stroke-width="1.5"/>
<line x1="75.8" y1="1647.3" x2="366.9" y2="1647.3" stroke="#fff" stroke-width="1.5"/>
<line x1="75.8" y1="1774.8" x2="366.9" y2="1774.8" stroke="#fff" stroke-width="1.5"/>
<line x1="75.8" y1="1902.3" x2="366.9" y2="1902.3" stroke="#fff" stroke-width="1.5"/>
<line x1="122" y1="1430" x2="122" y2="1992" stroke="#fff" stroke-width="1.5"/>
<line x1="188.2" y1="1430" x2="188.2" y2="1992" stroke="#fff" stroke-width="1.5"/>
<line x1="254.4" y1="1430" x2="254.4" y2="1992" stroke="#fff" stroke-width="1.5"/>
<line x1="320.6" y1="1430" x2="320.6" y2="1992" stroke="#fff" stroke-width="1.5"/>
<line x1="75.8" y1="1455.4" x2="366.9" y2="1455.4" stroke="#fff" stroke-width="3.4"/>
<line x1="75.8" y1="1583.6" x2="366.9" y2="1583.6" stroke="#fff" stroke-width="3.4"/>
<line x1="75.8" y1="1711" x2="366.9" y2="1711" stroke="#fff" stroke-width="3.4"/>
<line x1="75.8" y1="1838.5" x2="366.9" y2="1838.5" stroke="#fff" stroke-width="3.4"/>
<line x1="75.8" y1="1966" x2="366.9" y2="1966" stroke="#fff" stroke-width="3.4"/>
<line x1="88.9" y1="1430" x2="88.9" y2="1992" stroke="#fff" stroke-width="3.4"/>
<line x1="155.1" y1="1430" x2="155.1" y2="1992" stroke="#fff" stroke-width="3.4"/>
<line x1="221.3" y1="1430" x2="221.3" y2="1992" stroke="#fff" stroke-width="3.4"/>
<line x1="287.5" y1="1430" x2="287.5" y2="1992" stroke="#fff" stroke-width="3.4"/>
<line x1="353.7" y1="1430" x2="353.7" y2="1992" stroke="#fff" stroke-width="3.4"/>
<path d="M88.9 1801.6L95.5 1813.2L102.1 1790.6L108.8 1813.6L115.4 1798.4L122 1791.9L128.6 1764.6L135.2 1780.1L141.9 1759.6L148.5 1736.8L155.1 1723.7L161.7 1721.5L168.3 1697.7L175 1689.1L181.6 1671.9L188.2 1661.5L194.8 1639.1L201.4 1607.1L208.1 1565.5L214.7 1535.7L221.3 1526.5L227.9 1541.5L234.5 1550.3L241.2 1546.9L247.8 1568.7L254.4 1576.2L261 1578.7L267.6 1590.5L274.3 1578.9L280.9 1594L287.5 1583.4L294.1 1608.9L300.7 1596.6L307.4 1595.7L314 1602.9L320.6 1592.5L327.2 1590.8L333.8 1599.1L340.5 1605.5L347.1 1604.2L353.7 1622.6L353.7 1646.6L347.1 1642.2L340.5 1637.5L333.8 1623.1L327.2 1610.8L320.6 1612.5L314 1622.9L307.4 1619.7L300.7 1632.6L294.1 1640.9L287.5 1611.4L280.9 1618L274.3 1608.9L267.6 1614.5L261 1598.7L254.4 1608.2L247.8 1608.7L241.2 1578.9L234.5 1582.3L227.9 1577.5L221.3 1554.5L214.7 1555.7L208.1 1577.5L201.4 1615.1L194.8 1645.1L188.2 1667.5L181.6 1677.9L175 1695.1L168.3 1703.7L161.7 1731.5L155.1 1739.7L148.5 1750.8L141.9 1779.6L135.2 1814.1L128.6 1798.6L122 1829.9L115.4 1854.4L108.8 1849.6L102.1 1834.6L95.5 1867.2L88.9 1861.6Z" fill="#ff0000" fill-opacity="0.27"/>
<path d="M88.9 1831.6L95.5 1840.2L102.1 1812.6L108.8 1831.6L115.4 1826.4L122 1810.9L128.6 1781.6L135.2 1797.1L141.9 1769.6L148.5 1743.8L155.1 1731.7L161.7 1726.5L168.3 1700.7L175 1692.1L181.6 1674.9L188.2 1664.5L194.8 1642.1L201.4 1611.1L208.1 1571.5L214.7 1545.7L221.3 1540.5L227.9 1559.5L234.5 1566.3L241.2 1562.9L247.8 1588.7L254.4 1592.2L261 1588.7L267.6 1602.5L274.3 1593.9L280.9 1606L287.5 1597.4L294.1 1624.9L300.7 1614.6L307.4 1607.7L314 1612.9L320.6 1602.5L327.2 1600.8L333.8 1611.1L340.5 1621.5L347.1 1623.2L353.7 1634.6" fill="none" stroke="#ff0000" stroke-width="5.9" stroke-linejoin="round" stroke-linecap="round"/>
<path d="M88.9 1831.6h0M95.5 1840.2h0M102.1 1812.6h0M108.8 1831.6h0M115.4 1826.4h0M122 1810.9h0M128.6 1781.6h0M135.2 1797.1h0M141.9 1769.6h0M148.5 1743.8h0M155.1 1731.7h0M161.7 1726.5h0M168.3 1700.7h0M175 1692.1h0M181.6 1674.9h0M188.2 1664.5h0M194.8 1642.1h0M201.4 1611.1h0M208.1 1571.5h0M214.7 1545.7h0M221.3 1540.5h0M227.9 1559.5h0M234.5 1566.3h0M241.2 1562.9h0M247.8 1588.7h0M254.4 1592.2h0M261 1588.7h0M267.6 1602.5h0M274.3 1593.9h0M280.9 1606h0M287.5 1597.4h0M294.1 1624.9h0M300.7 1614.6h0M307.4 1607.7h0M314 1612.9h0M320.6 1602.5h0M327.2 1600.8h0M333.8 1611.1h0M340.5 1621.5h0M347.1 1623.2h0M353.7 1634.6h0" stroke="#ff0000" stroke-width="7" stroke-linecap="round"/>
<line x1="221.3" y1="1542.5" x2="221.3" y2="1966" stroke="#a0a0a0" stroke-width="5.2" stroke-dasharray="20 11"/>
<line x1="69.8" y1="1455.4" x2="75.8" y2="1455.4" stroke="#333" stroke-width="3.4"/>
<text x="65.3" y="1463.2" font-family="'Liberation Sans', Arial, Helvetica, sans-serif" font-size="28.5" fill="#595959" text-anchor="end" textLength="21.2" lengthAdjust="spacingAndGlyphs">10</text>
<line x1="69.8" y1="1583.6" x2="75.8" y2="1583.6" stroke="#333" stroke-width="3.4"/>
<text x="65.3" y="1591.4" font-family="'Liberation Sans', Arial, Helvetica, sans-serif" font-size="28.5" fill="#595959" text-anchor="end" textLength="26.7" lengthAdjust="spacingAndGlyphs">7.5</text>
<line x1="69.8" y1="1711" x2="75.8" y2="1711" stroke="#333" stroke-width="3.4"/>
<text x="65.3" y="1718.8" font-family="'Liberation Sans', Arial, Helvetica, sans-serif" font-size="28.5" fill="#595959" text-anchor="end" textLength="10.6" lengthAdjust="spacingAndGlyphs">5</text>
<line x1="69.8" y1="1838.5" x2="75.8" y2="1838.5" stroke="#333" stroke-width="3.4"/>
<text x="65.3" y="1846.3" font-family="'Liberation Sans', Arial, Helvetica, sans-serif" font-size="28.5" fill="#595959" text-anchor="end" textLength="26.7" lengthAdjust="spacingAndGlyphs">2.5</text>
<line x1="69.8" y1="1966" x2="75.8" y2="1966" stroke="#333" stroke-width="3.4"/>
<text x="65.3" y="1973.8" font-family="'Liberation Sans', Arial, Helvetica, sans-serif" font-size="28.5" fill="#595959" text-anchor="end" textLength="10.6" lengthAdjust="spacingAndGlyphs">0</text>
<line x1="88.9" y1="1992" x2="88.9" y2="1999" stroke="#3a3a3a" stroke-width="3.3"/>
<text x="88.9" y="2027.5" font-family="'Liberation Sans', Arial, Helvetica, sans-serif" font-size="28.5" fill="#595959" text-anchor="middle" textLength="10.6" lengthAdjust="spacingAndGlyphs">0</text>
<line x1="155.1" y1="1992" x2="155.1" y2="1999" stroke="#3a3a3a" stroke-width="3.3"/>
<text x="155.1" y="2027.5" font-family="'Liberation Sans', Arial, Helvetica, sans-serif" font-size="28.5" fill="#595959" text-anchor="middle" textLength="26.7" lengthAdjust="spacingAndGlyphs">0.5</text>
<line x1="221.3" y1="1992" x2="221.3" y2="1999" stroke="#3a3a3a" stroke-width="3.3"/>
<text x="221.3" y="2027.5" font-family="'Liberation Sans', Arial, Helvetica, sans-serif" font-size="28.5" fill="#595959" text-anchor="middle" textLength="10.6" lengthAdjust="spacingAndGlyphs">1</text>
<line x1="287.5" y1="1992" x2="287.5" y2="1999" stroke="#3a3a3a" stroke-width="3.3"/>
<text x="287.5" y="2027.5" font-family="'Liberation Sans', Arial, Helvetica, sans-serif" font-size="28.5" fill="#595959" text-anchor="middle" textLength="26.7" lengthAdjust="spacingAndGlyphs">1.5</text>
<line x1="353.7" y1="1992" x2="353.7" y2="1999" stroke="#3a3a3a" stroke-width="3.3"/>
<text x="353.7" y="2027.5" font-family="'Liberation Sans', Arial, Helvetica, sans-serif" font-size="28.5" fill="#595959" text-anchor="middle" textLength="10.6" lengthAdjust="spacingAndGlyphs">2</text>
<rect x="310" y="1477.5" width="14.8" height="21.7" fill="#ff0000" fill-opacity="0.27"/>
<line x1="310" y1="1488.3" x2="324.8" y2="1488.3" stroke="#ff0000" stroke-width="6"/>
<circle cx="317.4" cy="1488.3" r="4.2" fill="#ff0000"/>
<text x="332" y="1499" font-family="'Liberation Serif', 'Times New Roman', Times, serif" font-size="39" fill="#000" font-style="italic">f</text>
<text transform="translate(60,1694) rotate(-90)" font-family="'Liberation Serif', 'Times New Roman', Times, serif" font-size="38" fill="#000" textLength="83" lengthAdjust="spacing"><tspan font-style="italic">f</tspan><tspan>[</tspan><tspan font-style="italic">Hz</tspan><tspan>]</tspan></text>
<text x="191" y="2069.5" font-family="'Liberation Serif', 'Times New Roman', Times, serif" font-size="38" fill="#000" textLength="54" lengthAdjust="spacingAndGlyphs">DA</text>
<text x="4" y="1414.8" font-family="'Liberation Sans', Arial, Helvetica, sans-serif" font-size="33" fill="#000" font-weight="bold">E</text>
<rect x="436.5" y="1430" width="288.3" height="562" fill="#f0f0f0"/>
<line x1="436.5" y1="1519.5" x2="724.8" y2="1519.5" stroke="#fff" stroke-width="1.5"/>
<line x1="436.5" y1="1647.3" x2="724.8" y2="1647.3" stroke="#fff" stroke-width="1.5"/>
<line x1="436.5" y1="1774.8" x2="724.8" y2="1774.8" stroke="#fff" stroke-width="1.5"/>
<line x1="436.5" y1="1902.3" x2="724.8" y2="1902.3" stroke="#fff" stroke-width="1.5"/>
<line x1="482.4" y1="1430" x2="482.4" y2="1992" stroke="#fff" stroke-width="1.5"/>
<line x1="548.7" y1="1430" x2="548.7" y2="1992" stroke="#fff" stroke-width="1.5"/>
<line x1="615" y1="1430" x2="615" y2="1992" stroke="#fff" stroke-width="1.5"/>
<line x1="681.3" y1="1430" x2="681.3" y2="1992" stroke="#fff" stroke-width="1.5"/>
<line x1="436.5" y1="1455.4" x2="724.8" y2="1455.4" stroke="#fff" stroke-width="3.4"/>
<line x1="436.5" y1="1583.6" x2="724.8" y2="1583.6" stroke="#fff" stroke-width="3.4"/>
<line x1="436.5" y1="1711" x2="724.8" y2="1711" stroke="#fff" stroke-width="3.4"/>
<line x1="436.5" y1="1838.5" x2="724.8" y2="1838.5" stroke="#fff" stroke-width="3.4"/>
<line x1="436.5" y1="1966" x2="724.8" y2="1966" stroke="#fff" stroke-width="3.4"/>
<line x1="449.2" y1="1430" x2="449.2" y2="1992" stroke="#fff" stroke-width="3.4"/>
<line x1="515.5" y1="1430" x2="515.5" y2="1992" stroke="#fff" stroke-width="3.4"/>
<line x1="581.9" y1="1430" x2="581.9" y2="1992" stroke="#fff" stroke-width="3.4"/>
<line x1="648.2" y1="1430" x2="648.2" y2="1992" stroke="#fff" stroke-width="3.4"/>
<line x1="714.5" y1="1430" x2="714.5" y2="1992" stroke="#fff" stroke-width="3.4"/>
<path d="M449.2 1594.2L455.8 1589.1L462.5 1597.7L469.1 1601.1L475.7 1605.3L482.4 1597L489 1601.8L495.6 1608.7L502.3 1584.9L508.9 1591.1L515.5 1581.5L522.2 1561.5L528.8 1564.9L535.4 1539.4L542.1 1541.8L548.7 1528.1L555.3 1512.6L562 1517.7L568.6 1502.2L575.2 1498.1L581.9 1496.3L588.5 1522L595.1 1554.7L601.7 1580.6L608.4 1612.3L615 1637.4L621.6 1678.7L628.3 1704.6L634.9 1723.4L641.5 1735.5L648.2 1747.5L654.8 1765.8L661.4 1759.6L668.1 1752.1L674.7 1775.6L681.3 1766.6L688 1776.9L694.6 1772.8L701.2 1772.1L707.9 1771.1L714.5 1771.1L714.5 1799.1L707.9 1799.1L701.2 1800.1L694.6 1800.8L688 1804.9L681.3 1794.6L674.7 1803.6L668.1 1780.1L661.4 1779.6L654.8 1785.8L648.2 1767.5L641.5 1755.5L634.9 1743.4L628.3 1710.6L621.6 1684.7L615 1643.4L608.4 1618.3L601.7 1586.6L595.1 1560.7L588.5 1528L581.9 1512.3L575.2 1516.1L568.6 1520.2L562 1535.7L555.3 1530.6L548.7 1546.1L542.1 1559.8L535.4 1557.4L528.8 1582.9L522.2 1579.5L515.5 1599.5L508.9 1609.1L502.3 1602.9L495.6 1628.7L489 1621.8L482.4 1617L475.7 1625.3L469.1 1621.1L462.5 1617.7L455.8 1609.1L449.2 1614.2Z" fill="#008000" fill-opacity="0.27"/>
<path d="M449.2 1604.2L455.8 1599.1L462.5 1607.7L469.1 1611.1L475.7 1615.3L482.4 1607L489 1611.8L495.6 1618.7L502.3 1593.9L508.9 1600.1L515.5 1590.5L522.2 1570.5L528.8 1573.9L535.4 1548.4L542.1 1550.8L548.7 1537.1L555.3 1521.6L562 1526.7L568.6 1511.2L575.2 1507.1L581.9 1504.3L588.5 1525L595.1 1557.7L601.7 1583.6L608.4 1615.3L615 1640.4L621.6 1681.7L628.3 1707.6L634.9 1733.4L641.5 1745.5L648.2 1757.5L654.8 1775.8L661.4 1769.6L668.1 1766.1L674.7 1789.6L681.3 1780.6L688 1790.9L694.6 1786.8L701.2 1786.1L707.9 1785.1L714.5 1785.1" fill="none" stroke="#008000" stroke-width="5.9" stroke-linejoin="round" stroke-linecap="round"/>
<path d="M449.2 1604.2h0M455.8 1599.1h0M462.5 1607.7h0M469.1 1611.1h0M475.7 1615.3h0M482.4 1607h0M489 1611.8h0M495.6 1618.7h0M502.3 1593.9h0M508.9 1600.1h0M515.5 1590.5h0M522.2 1570.5h0M528.8 1573.9h0M535.4 1548.4h0M542.1 1550.8h0M548.7 1537.1h0M555.3 1521.6h0M562 1526.7h0M568.6 1511.2h0M575.2 1507.1h0M581.9 1504.3h0M588.5 1525h0M595.1 1557.7h0M601.7 1583.6h0M608.4 1615.3h0M615 1640.4h0M621.6 1681.7h0M628.3 1707.6h0M634.9 1733.4h0M641.5 1745.5h0M648.2 1757.5h0M654.8 1775.8h0M661.4 1769.6h0M668.1 1766.1h0M674.7 1789.6h0M681.3 1780.6h0M688 1790.9h0M694.6 1786.8h0M701.2 1786.1h0M707.9 1785.1h0M714.5 1785.1h0" stroke="#008000" stroke-width="7" stroke-linecap="round"/>
<line x1="581.9" y1="1506.3" x2="581.9" y2="1966" stroke="#a0a0a0" stroke-width="5.2" stroke-dasharray="20 11"/>
<line x1="430.5" y1="1455.4" x2="436.5" y2="1455.4" stroke="#333" stroke-width="3.4"/>
<text x="426" y="1463.2" font-family="'Liberation Sans', Arial, Helvetica, sans-serif" font-size="28.5" fill="#595959" text-anchor="end" textLength="37.3" lengthAdjust="spacingAndGlyphs">0.65</text>
<line x1="430.5" y1="1583.6" x2="436.5" y2="1583.6" stroke="#333" stroke-width="3.4"/>
<text x="426" y="1591.4" font-family="'Liberation Sans', Arial, Helvetica, sans-serif" font-size="28.5" fill="#595959" text-anchor="end" textLength="37.3" lengthAdjust="spacingAndGlyphs">0.60</text>
<line x1="430.5" y1="1711" x2="436.5" y2="1711" stroke="#333" stroke-width="3.4"/>
<text x="426" y="1718.8" font-family="'Liberation Sans', Arial, Helvetica, sans-serif" font-size="28.5" fill="#595959" text-anchor="end" textLength="37.3" lengthAdjust="spacingAndGlyphs">0.55</text>
<line x1="430.5" y1="1838.5" x2="436.5" y2="1838.5" stroke="#333" stroke-width="3.4"/>
<text x="426" y="1846.3" font-family="'Liberation Sans', Arial, Helvetica, sans-serif" font-size="28.5" fill="#595959" text-anchor="end" textLength="37.3" lengthAdjust="spacingAndGlyphs">0.50</text>
<line x1="430.5" y1="1966" x2="436.5" y2="1966" stroke="#333" stroke-width="3.4"/>
<text x="426" y="1973.8" font-family="'Liberation Sans', Arial, Helvetica, sans-serif" font-size="28.5" fill="#595959" text-anchor="end" textLength="37.3" lengthAdjust="spacingAndGlyphs">0.45</text>
<line x1="449.2" y1="1992" x2="449.2" y2="1999" stroke="#3a3a3a" stroke-width="3.3"/>
<text x="449.2" y="2027.5" font-family="'Liberation Sans', Arial, Helvetica, sans-serif" font-size="28.5" fill="#595959" text-anchor="middle" textLength="10.6" lengthAdjust="spacingAndGlyphs">0</text>
<line x1="515.5" y1="1992" x2="515.5" y2="1999" stroke="#3a3a3a" stroke-width="3.3"/>
<text x="515.5" y="2027.5" font-family="'Liberation Sans', Arial, Helvetica, sans-serif" font-size="28.5" fill="#595959" text-anchor="middle" textLength="26.7" lengthAdjust="spacingAndGlyphs">0.5</text>
<line x1="581.9" y1="1992" x2="581.9" y2="1999" stroke="#3a3a3a" stroke-width="3.3"/>
<text x="581.9" y="2027.5" font-family="'Liberation Sans', Arial, Helvetica, sans-serif" font-size="28.5" fill="#595959" text-anchor="middle" textLength="10.6" lengthAdjust="spacingAndGlyphs">1</text>
<line x1="648.2" y1="1992" x2="648.2" y2="1999" stroke="#3a3a3a" stroke-width="3.3"/>
<text x="648.2" y="2027.5" font-family="'Liberation Sans', Arial, Helvetica, sans-serif" font-size="28.5" fill="#595959" text-anchor="middle" textLength="26.7" lengthAdjust="spacingAndGlyphs">1.5</text>
<line x1="714.5" y1="1992" x2="714.5" y2="1999" stroke="#3a3a3a" stroke-width="3.3"/>
<text x="714.5" y="2027.5" font-family="'Liberation Sans', Arial, Helvetica, sans-serif" font-size="28.5" fill="#595959" text-anchor="middle" textLength="10.6" lengthAdjust="spacingAndGlyphs">2</text>
<rect x="673" y="1477.5" width="15.6" height="21.7" fill="#008000" fill-opacity="0.27"/>
<line x1="673" y1="1488.3" x2="688.6" y2="1488.3" stroke="#008000" stroke-width="6"/>
<circle cx="680.8" cy="1488.3" r="4.2" fill="#008000"/>
<text x="697" y="1496" font-family="'Liberation Serif', 'Times New Roman', Times, serif" font-size="38" fill="#000" font-style="italic" textLength="19" lengthAdjust="spacingAndGlyphs">u</text>
<text x="423" y="1666" font-family="'Liberation Serif', 'Times New Roman', Times, serif" font-size="40" fill="#000" font-style="italic" textLength="16" lengthAdjust="spacingAndGlyphs" transform="rotate(-90 423 1666)">u</text>
<text x="561" y="2075" font-family="'Liberation Serif', 'Times New Roman', Times, serif" font-size="38" fill="#000" textLength="55" lengthAdjust="spacingAndGlyphs">DA</text>
<text x="398" y="1414.8" font-family="'Liberation Sans', Arial, Helvetica, sans-serif" font-size="33" fill="#000" font-weight="bold">F</text>
<rect x="771.7" y="1430" width="291.7" height="562" fill="#f0f0f0"/>
<line x1="771.7" y1="1540.5" x2="1063.4" y2="1540.5" stroke="#fff" stroke-width="1.5"/>
<line x1="771.7" y1="1711" x2="1063.4" y2="1711" stroke="#fff" stroke-width="1.5"/>
<line x1="771.7" y1="1881" x2="1063.4" y2="1881" stroke="#fff" stroke-width="1.5"/>
<line x1="817.9" y1="1430" x2="817.9" y2="1992" stroke="#fff" stroke-width="1.5"/>
<line x1="884.2" y1="1430" x2="884.2" y2="1992" stroke="#fff" stroke-width="1.5"/>
<line x1="950.5" y1="1430" x2="950.5" y2="1992" stroke="#fff" stroke-width="1.5"/>
<line x1="1016.8" y1="1430" x2="1016.8" y2="1992" stroke="#fff" stroke-width="1.5"/>
<line x1="771.7" y1="1455.4" x2="1063.4" y2="1455.4" stroke="#fff" stroke-width="3.4"/>
<line x1="771.7" y1="1625.6" x2="1063.4" y2="1625.6" stroke="#fff" stroke-width="3.4"/>
<line x1="771.7" y1="1796" x2="1063.4" y2="1796" stroke="#fff" stroke-width="3.4"/>
<line x1="771.7" y1="1966" x2="1063.4" y2="1966" stroke="#fff" stroke-width="3.4"/>
<line x1="784.8" y1="1430" x2="784.8" y2="1992" stroke="#fff" stroke-width="3.4"/>
<line x1="851.1" y1="1430" x2="851.1" y2="1992" stroke="#fff" stroke-width="3.4"/>
<line x1="917.4" y1="1430" x2="917.4" y2="1992" stroke="#fff" stroke-width="3.4"/>
<line x1="983.7" y1="1430" x2="983.7" y2="1992" stroke="#fff" stroke-width="3.4"/>
<line x1="1050" y1="1430" x2="1050" y2="1992" stroke="#fff" stroke-width="3.4"/>
<path d="M784.8 1697.8L791.4 1705.7L798.1 1698.9L804.7 1693.7L811.3 1695.4L817.9 1702.3L824.6 1694.4L831.2 1688.5L837.8 1711.6L844.5 1706.5L851.1 1715.1L857.7 1728.9L864.4 1727.1L871 1750.6L877.6 1747.8L884.2 1759.9L890.9 1773.6L897.5 1771.2L904.1 1778.8L910.8 1785.7L917.4 1791.4L924 1766.6L930.7 1745.9L937.3 1725.3L943.9 1696L950.5 1673.6L957.2 1637.4L963.8 1613.5L970.4 1587.6L977.1 1573.8L983.7 1565.2L990.3 1549.7L997 1553.2L1003.6 1558L1010.2 1532.5L1016.8 1541.8L1023.5 1531.5L1030.1 1536L1036.7 1536.7L1043.4 1538.4L1050 1538.4L1050 1556.4L1043.4 1556.4L1036.7 1554.7L1030.1 1554L1023.5 1549.5L1016.8 1559.8L1010.2 1550.5L1003.6 1576L997 1569.2L990.3 1565.7L983.7 1581.2L977.1 1589.8L970.4 1603.6L963.8 1629.5L957.2 1643.4L950.5 1679.6L943.9 1702L937.3 1731.3L930.7 1751.9L924 1772.6L917.4 1797.4L910.8 1801.7L904.1 1794.8L897.5 1787.2L890.9 1789.6L884.2 1775.9L877.6 1763.8L871 1766.6L864.4 1743.1L857.7 1744.9L851.1 1731.1L844.5 1722.5L837.8 1727.6L831.2 1702.5L824.6 1708.4L817.9 1716.3L811.3 1709.4L804.7 1707.7L798.1 1712.9L791.4 1719.7L784.8 1711.8Z" fill="#009e73" fill-opacity="0.27"/>
<path d="M784.8 1704.8L791.4 1712.7L798.1 1705.9L804.7 1700.7L811.3 1702.4L817.9 1709.3L824.6 1701.4L831.2 1695.5L837.8 1719.6L844.5 1714.5L851.1 1723.1L857.7 1736.9L864.4 1735.1L871 1758.6L877.6 1755.8L884.2 1767.9L890.9 1781.6L897.5 1779.2L904.1 1786.8L910.8 1793.7L917.4 1794.4L924 1769.6L930.7 1748.9L937.3 1728.3L943.9 1699L950.5 1676.6L957.2 1640.4L963.8 1621.5L970.4 1595.6L977.1 1581.8L983.7 1573.2L990.3 1557.7L997 1561.2L1003.6 1567L1010.2 1541.5L1016.8 1550.8L1023.5 1540.5L1030.1 1545L1036.7 1545.7L1043.4 1547.4L1050 1547.4" fill="none" stroke="#009e73" stroke-width="5.9" stroke-linejoin="round" stroke-linecap="round"/>
<path d="M784.8 1704.8h0M791.4 1712.7h0M798.1 1705.9h0M804.7 1700.7h0M811.3 1702.4h0M817.9 1709.3h0M824.6 1701.4h0M831.2 1695.5h0M837.8 1719.6h0M844.5 1714.5h0M851.1 1723.1h0M857.7 1736.9h0M864.4 1735.1h0M871 1758.6h0M877.6 1755.8h0M884.2 1767.9h0M890.9 1781.6h0M897.5 1779.2h0M904.1 1786.8h0M910.8 1793.7h0M917.4 1794.4h0M924 1769.6h0M930.7 1748.9h0M937.3 1728.3h0M943.9 1699h0M950.5 1676.6h0M957.2 1640.4h0M963.8 1621.5h0M970.4 1595.6h0M977.1 1581.8h0M983.7 1573.2h0M990.3 1557.7h0M997 1561.2h0M1003.6 1567h0M1010.2 1541.5h0M1016.8 1550.8h0M1023.5 1540.5h0M1030.1 1545h0M1036.7 1545.7h0M1043.4 1547.4h0M1050 1547.4h0" stroke="#009e73" stroke-width="7" stroke-linecap="round"/>
<line x1="917.4" y1="1796.4" x2="917.4" y2="1966" stroke="#a0a0a0" stroke-width="5.2" stroke-dasharray="20 11"/>
<line x1="765.7" y1="1455.4" x2="771.7" y2="1455.4" stroke="#333" stroke-width="3.4"/>
<text x="761.2" y="1463.2" font-family="'Liberation Sans', Arial, Helvetica, sans-serif" font-size="28.5" fill="#595959" text-anchor="end" textLength="26.7" lengthAdjust="spacingAndGlyphs">0.7</text>
<line x1="765.7" y1="1625.6" x2="771.7" y2="1625.6" stroke="#333" stroke-width="3.4"/>
<text x="761.2" y="1633.4" font-family="'Liberation Sans', Arial, Helvetica, sans-serif" font-size="28.5" fill="#595959" text-anchor="end" textLength="26.7" lengthAdjust="spacingAndGlyphs">0.6</text>
<line x1="765.7" y1="1796" x2="771.7" y2="1796" stroke="#333" stroke-width="3.4"/>
<text x="761.2" y="1803.8" font-family="'Liberation Sans', Arial, Helvetica, sans-serif" font-size="28.5" fill="#595959" text-anchor="end" textLength="26.7" lengthAdjust="spacingAndGlyphs">0.5</text>
<line x1="765.7" y1="1966" x2="771.7" y2="1966" stroke="#333" stroke-width="3.4"/>
<text x="761.2" y="1973.8" font-family="'Liberation Sans', Arial, Helvetica, sans-serif" font-size="28.5" fill="#595959" text-anchor="end" textLength="26.7" lengthAdjust="spacingAndGlyphs">0.4</text>
<line x1="784.8" y1="1992" x2="784.8" y2="1999" stroke="#3a3a3a" stroke-width="3.3"/>
<text x="784.8" y="2027.5" font-family="'Liberation Sans', Arial, Helvetica, sans-serif" font-size="28.5" fill="#595959" text-anchor="middle" textLength="10.6" lengthAdjust="spacingAndGlyphs">0</text>
<line x1="851.1" y1="1992" x2="851.1" y2="1999" stroke="#3a3a3a" stroke-width="3.3"/>
<text x="851.1" y="2027.5" font-family="'Liberation Sans', Arial, Helvetica, sans-serif" font-size="28.5" fill="#595959" text-anchor="middle" textLength="26.7" lengthAdjust="spacingAndGlyphs">0.5</text>
<line x1="917.4" y1="1992" x2="917.4" y2="1999" stroke="#3a3a3a" stroke-width="3.3"/>
<text x="917.4" y="2027.5" font-family="'Liberation Sans', Arial, Helvetica, sans-serif" font-size="28.5" fill="#595959" text-anchor="middle" textLength="10.6" lengthAdjust="spacingAndGlyphs">1</text>
<line x1="983.7" y1="1992" x2="983.7" y2="1999" stroke="#3a3a3a" stroke-width="3.3"/>
<text x="983.7" y="2027.5" font-family="'Liberation Sans', Arial, Helvetica, sans-serif" font-size="28.5" fill="#595959" text-anchor="middle" textLength="26.7" lengthAdjust="spacingAndGlyphs">1.5</text>
<line x1="1050" y1="1992" x2="1050" y2="1999" stroke="#3a3a3a" stroke-width="3.3"/>
<text x="1050" y="2027.5" font-family="'Liberation Sans', Arial, Helvetica, sans-serif" font-size="28.5" fill="#595959" text-anchor="middle" textLength="10.6" lengthAdjust="spacingAndGlyphs">2</text>
<rect x="1008.7" y="1477.5" width="15.1" height="21.7" fill="#009e73" fill-opacity="0.27"/>
<line x1="1008.7" y1="1488.3" x2="1023.8" y2="1488.3" stroke="#009e73" stroke-width="6"/>
<circle cx="1016.2" cy="1488.3" r="4.2" fill="#009e73"/>
<text x="1031.5" y="1496" font-family="'Liberation Serif', 'Times New Roman', Times, serif" font-size="38" fill="#000" font-style="italic" textLength="18" lengthAdjust="spacingAndGlyphs">x</text>
<text x="757.5" y="1730" font-family="'Liberation Serif', 'Times New Roman', Times, serif" font-size="40" fill="#000" font-style="italic" textLength="16" lengthAdjust="spacingAndGlyphs" transform="rotate(-90 757.5 1730)">x</text>
<text x="899" y="2080" font-family="'Liberation Serif', 'Times New Roman', Times, serif" font-size="38" fill="#000" textLength="55" lengthAdjust="spacingAndGlyphs">DA</text>
<text x="741" y="1414.8" font-family="'Liberation Sans', Arial, Helvetica, sans-serif" font-size="33" fill="#000" font-weight="bold">G</text>
<rect x="1121.7" y="1430" width="281.7" height="562" fill="#f0f0f0"/>
<line x1="1121.7" y1="1506.5" x2="1403.4" y2="1506.5" stroke="#fff" stroke-width="1.5"/>
<line x1="1121.7" y1="1608.5" x2="1403.4" y2="1608.5" stroke="#fff" stroke-width="1.5"/>
<line x1="1121.7" y1="1710.5" x2="1403.4" y2="1710.5" stroke="#fff" stroke-width="1.5"/>
<line x1="1121.7" y1="1812.6" x2="1403.4" y2="1812.6" stroke="#fff" stroke-width="1.5"/>
<line x1="1121.7" y1="1914.8" x2="1403.4" y2="1914.8" stroke="#fff" stroke-width="1.5"/>
<line x1="1168" y1="1430" x2="1168" y2="1992" stroke="#fff" stroke-width="1.5"/>
<line x1="1234.2" y1="1430" x2="1234.2" y2="1992" stroke="#fff" stroke-width="1.5"/>
<line x1="1300.5" y1="1430" x2="1300.5" y2="1992" stroke="#fff" stroke-width="1.5"/>
<line x1="1366.8" y1="1430" x2="1366.8" y2="1992" stroke="#fff" stroke-width="1.5"/>
<line x1="1121.7" y1="1455.4" x2="1403.4" y2="1455.4" stroke="#fff" stroke-width="3.4"/>
<line x1="1121.7" y1="1557.7" x2="1403.4" y2="1557.7" stroke="#fff" stroke-width="3.4"/>
<line x1="1121.7" y1="1659.4" x2="1403.4" y2="1659.4" stroke="#fff" stroke-width="3.4"/>
<line x1="1121.7" y1="1761.7" x2="1403.4" y2="1761.7" stroke="#fff" stroke-width="3.4"/>
<line x1="1121.7" y1="1863.6" x2="1403.4" y2="1863.6" stroke="#fff" stroke-width="3.4"/>
<line x1="1121.7" y1="1966" x2="1403.4" y2="1966" stroke="#fff" stroke-width="3.4"/>
<line x1="1134.8" y1="1430" x2="1134.8" y2="1992" stroke="#fff" stroke-width="3.4"/>
<line x1="1201.1" y1="1430" x2="1201.1" y2="1992" stroke="#fff" stroke-width="3.4"/>
<line x1="1267.4" y1="1430" x2="1267.4" y2="1992" stroke="#fff" stroke-width="3.4"/>
<line x1="1333.7" y1="1430" x2="1333.7" y2="1992" stroke="#fff" stroke-width="3.4"/>
<line x1="1400" y1="1430" x2="1400" y2="1992" stroke="#fff" stroke-width="3.4"/>
<path d="M1134.8 1670.9L1141.4 1685.4L1148.1 1683L1154.7 1674.4L1161.3 1684L1168 1689.9L1174.6 1677.1L1181.2 1672.6L1187.8 1695L1194.5 1695L1201.1 1705.4L1207.7 1715.7L1214.4 1714L1221 1741.5L1227.6 1739.1L1234.2 1753.6L1240.9 1770.8L1247.5 1774.3L1254.1 1772.5L1260.8 1784.6L1267.4 1792.7L1274 1747.1L1280.7 1741.9L1287.3 1724.7L1293.9 1681.6L1300.5 1666.1L1307.2 1635.8L1313.8 1621.4L1320.4 1609.3L1327.1 1586.1L1333.7 1585.1L1340.3 1587.5L1347 1582.7L1353.6 1588.5L1360.2 1576.5L1366.8 1576.5L1373.5 1574.7L1380.1 1576.5L1386.7 1577.5L1393.4 1577.5L1400 1577.5L1400 1605.5L1393.4 1605.5L1386.7 1605.5L1380.1 1604.5L1373.5 1602.7L1366.8 1604.5L1360.2 1604.5L1353.6 1616.5L1347 1610.7L1340.3 1615.5L1333.7 1613.1L1327.1 1614.1L1320.4 1623.3L1313.8 1635.4L1307.2 1649.8L1300.5 1680.1L1293.9 1695.6L1287.3 1738.7L1280.7 1755.9L1274 1761.1L1267.4 1816.7L1260.8 1816.6L1254.1 1804.5L1247.5 1806.3L1240.9 1802.8L1234.2 1785.6L1227.6 1771.1L1221 1773.5L1214.4 1746L1207.7 1747.7L1201.1 1737.4L1194.5 1727L1187.8 1727L1181.2 1704.6L1174.6 1709.1L1168 1721.9L1161.3 1716L1154.7 1706.4L1148.1 1715L1141.4 1717.4L1134.8 1702.9Z" fill="#0000ff" fill-opacity="0.27"/>
<path d="M1134.8 1686.9L1141.4 1701.4L1148.1 1699L1154.7 1690.4L1161.3 1700L1168 1705.9L1174.6 1693.1L1181.2 1688.6L1187.8 1711L1194.5 1711L1201.1 1721.4L1207.7 1731.7L1214.4 1730L1221 1757.5L1227.6 1755.1L1234.2 1769.6L1240.9 1786.8L1247.5 1790.3L1254.1 1788.5L1260.8 1800.6L1267.4 1804.7L1274 1754.1L1280.7 1748.9L1287.3 1731.7L1293.9 1688.6L1300.5 1673.1L1307.2 1642.8L1313.8 1628.4L1320.4 1616.3L1327.1 1600.1L1333.7 1599.1L1340.3 1601.5L1347 1596.7L1353.6 1602.5L1360.2 1590.5L1366.8 1590.5L1373.5 1588.7L1380.1 1590.5L1386.7 1591.5L1393.4 1591.5L1400 1591.5" fill="none" stroke="#0000ff" stroke-width="5.9" stroke-linejoin="round" stroke-linecap="round"/>
<path d="M1134.8 1686.9h0M1141.4 1701.4h0M1148.1 1699h0M1154.7 1690.4h0M1161.3 1700h0M1168 1705.9h0M1174.6 1693.1h0M1181.2 1688.6h0M1187.8 1711h0M1194.5 1711h0M1201.1 1721.4h0M1207.7 1731.7h0M1214.4 1730h0M1221 1757.5h0M1227.6 1755.1h0M1234.2 1769.6h0M1240.9 1786.8h0M1247.5 1790.3h0M1254.1 1788.5h0M1260.8 1800.6h0M1267.4 1804.7h0M1274 1754.1h0M1280.7 1748.9h0M1287.3 1731.7h0M1293.9 1688.6h0M1300.5 1673.1h0M1307.2 1642.8h0M1313.8 1628.4h0M1320.4 1616.3h0M1327.1 1600.1h0M1333.7 1599.1h0M1340.3 1601.5h0M1347 1596.7h0M1353.6 1602.5h0M1360.2 1590.5h0M1366.8 1590.5h0M1373.5 1588.7h0M1380.1 1590.5h0M1386.7 1591.5h0M1393.4 1591.5h0M1400 1591.5h0" stroke="#0000ff" stroke-width="7" stroke-linecap="round"/>
<line x1="1267.4" y1="1806.7" x2="1267.4" y2="1966" stroke="#a0a0a0" stroke-width="5.2" stroke-dasharray="20 11"/>
<line x1="1115.7" y1="1455.4" x2="1121.7" y2="1455.4" stroke="#333" stroke-width="3.4"/>
<text x="1111.2" y="1463.2" font-family="'Liberation Sans', Arial, Helvetica, sans-serif" font-size="28.5" fill="#595959" text-anchor="end" textLength="37.3" lengthAdjust="spacingAndGlyphs">0.35</text>
<line x1="1115.7" y1="1557.7" x2="1121.7" y2="1557.7" stroke="#333" stroke-width="3.4"/>
<text x="1111.2" y="1565.5" font-family="'Liberation Sans', Arial, Helvetica, sans-serif" font-size="28.5" fill="#595959" text-anchor="end" textLength="37.3" lengthAdjust="spacingAndGlyphs">0.34</text>
<line x1="1115.7" y1="1659.4" x2="1121.7" y2="1659.4" stroke="#333" stroke-width="3.4"/>
<text x="1111.2" y="1667.2" font-family="'Liberation Sans', Arial, Helvetica, sans-serif" font-size="28.5" fill="#595959" text-anchor="end" textLength="37.3" lengthAdjust="spacingAndGlyphs">0.33</text>
<line x1="1115.7" y1="1761.7" x2="1121.7" y2="1761.7" stroke="#333" stroke-width="3.4"/>
<text x="1111.2" y="1769.5" font-family="'Liberation Sans', Arial, Helvetica, sans-serif" font-size="28.5" fill="#595959" text-anchor="end" textLength="37.3" lengthAdjust="spacingAndGlyphs">0.32</text>
<line x1="1115.7" y1="1863.6" x2="1121.7" y2="1863.6" stroke="#333" stroke-width="3.4"/>
<text x="1111.2" y="1871.4" font-family="'Liberation Sans', Arial, Helvetica, sans-serif" font-size="28.5" fill="#595959" text-anchor="end" textLength="37.3" lengthAdjust="spacingAndGlyphs">0.31</text>
<line x1="1115.7" y1="1966" x2="1121.7" y2="1966" stroke="#333" stroke-width="3.4"/>
<text x="1111.2" y="1973.8" font-family="'Liberation Sans', Arial, Helvetica, sans-serif" font-size="28.5" fill="#595959" text-anchor="end" textLength="37.3" lengthAdjust="spacingAndGlyphs">0.30</text>
<line x1="1134.8" y1="1992" x2="1134.8" y2="1999" stroke="#3a3a3a" stroke-width="3.3"/>
<text x="1134.8" y="2027.5" font-family="'Liberation Sans', Arial, Helvetica, sans-serif" font-size="28.5" fill="#595959" text-anchor="middle" textLength="10.6" lengthAdjust="spacingAndGlyphs">0</text>
<line x1="1201.1" y1="1992" x2="1201.1" y2="1999" stroke="#3a3a3a" stroke-width="3.3"/>
<text x="1201.1" y="2027.5" font-family="'Liberation Sans', Arial, Helvetica, sans-serif" font-size="28.5" fill="#595959" text-anchor="middle" textLength="26.7" lengthAdjust="spacingAndGlyphs">0.5</text>
<line x1="1267.4" y1="1992" x2="1267.4" y2="1999" stroke="#3a3a3a" stroke-width="3.3"/>
<text x="1267.4" y="2027.5" font-family="'Liberation Sans', Arial, Helvetica, sans-serif" font-size="28.5" fill="#595959" text-anchor="middle" textLength="10.6" lengthAdjust="spacingAndGlyphs">1</text>
<line x1="1333.7" y1="1992" x2="1333.7" y2="1999" stroke="#3a3a3a" stroke-width="3.3"/>
<text x="1333.7" y="2027.5" font-family="'Liberation Sans', Arial, Helvetica, sans-serif" font-size="28.5" fill="#595959" text-anchor="middle" textLength="26.7" lengthAdjust="spacingAndGlyphs">1.5</text>
<line x1="1400" y1="1992" x2="1400" y2="1999" stroke="#3a3a3a" stroke-width="3.3"/>
<text x="1400" y="2027.5" font-family="'Liberation Sans', Arial, Helvetica, sans-serif" font-size="28.5" fill="#595959" text-anchor="middle" textLength="10.6" lengthAdjust="spacingAndGlyphs">2</text>
<rect x="1313.9" y="1477.5" width="16.1" height="21.7" fill="#0000ff" fill-opacity="0.27"/>
<line x1="1313.9" y1="1488.3" x2="1330" y2="1488.3" stroke="#0000ff" stroke-width="6"/>
<circle cx="1322" cy="1488.3" r="4.2" fill="#0000ff"/>
<text x="1342" y="1496" font-family="'Liberation Serif', 'Times New Roman', Times, serif" font-size="38" fill="#000" font-style="italic" textLength="36" lengthAdjust="spacingAndGlyphs">ux</text>
<text x="1102.5" y="1730" font-family="'Liberation Serif', 'Times New Roman', Times, serif" font-size="40" fill="#000" font-style="italic" textLength="31" lengthAdjust="spacingAndGlyphs" transform="rotate(-90 1102.5 1730)">ux</text>
<text x="1249" y="2075" font-family="'Liberation Serif', 'Times New Roman', Times, serif" font-size="38" fill="#000" textLength="54" lengthAdjust="spacingAndGlyphs">DA</text>
<text x="1084" y="1414.8" font-family="'Liberation Sans', Arial, Helvetica, sans-serif" font-size="33" fill="#000" font-weight="bold">H</text>
<rect x="1451.3" y="1430" width="291" height="562" fill="#f0f0f0"/>
<line x1="1451.3" y1="1455.4" x2="1742.3" y2="1455.4" stroke="#fff" stroke-width="1.5"/>
<line x1="1451.3" y1="1601.7" x2="1742.3" y2="1601.7" stroke="#fff" stroke-width="1.5"/>
<line x1="1451.3" y1="1747.2" x2="1742.3" y2="1747.2" stroke="#fff" stroke-width="1.5"/>
<line x1="1451.3" y1="1892.8" x2="1742.3" y2="1892.8" stroke="#fff" stroke-width="1.5"/>
<line x1="1497.2" y1="1430" x2="1497.2" y2="1992" stroke="#fff" stroke-width="1.5"/>
<line x1="1563.5" y1="1430" x2="1563.5" y2="1992" stroke="#fff" stroke-width="1.5"/>
<line x1="1629.8" y1="1430" x2="1629.8" y2="1992" stroke="#fff" stroke-width="1.5"/>
<line x1="1696" y1="1430" x2="1696" y2="1992" stroke="#fff" stroke-width="1.5"/>
<line x1="1451.3" y1="1528.5" x2="1742.3" y2="1528.5" stroke="#fff" stroke-width="3.4"/>
<line x1="1451.3" y1="1674.9" x2="1742.3" y2="1674.9" stroke="#fff" stroke-width="3.4"/>
<line x1="1451.3" y1="1819.5" x2="1742.3" y2="1819.5" stroke="#fff" stroke-width="3.4"/>
<line x1="1451.3" y1="1966" x2="1742.3" y2="1966" stroke="#fff" stroke-width="3.4"/>
<line x1="1464" y1="1430" x2="1464" y2="1992" stroke="#fff" stroke-width="3.4"/>
<line x1="1530.3" y1="1430" x2="1530.3" y2="1992" stroke="#fff" stroke-width="3.4"/>
<line x1="1596.6" y1="1430" x2="1596.6" y2="1992" stroke="#fff" stroke-width="3.4"/>
<line x1="1662.9" y1="1430" x2="1662.9" y2="1992" stroke="#fff" stroke-width="3.4"/>
<line x1="1729.2" y1="1430" x2="1729.2" y2="1992" stroke="#fff" stroke-width="3.4"/>
<path d="M1464 1816.2L1470.6 1823.8L1477.3 1798L1483.9 1815.2L1490.5 1810L1497.2 1796.3L1503.8 1768.7L1510.4 1782.5L1517 1762.4L1523.7 1738.3L1530.3 1738.6L1536.9 1733.5L1543.6 1714.6L1550.2 1709.5L1556.8 1694L1563.5 1685.4L1570.1 1664.7L1576.7 1637.1L1583.3 1602.7L1590 1578.7L1596.6 1566.9L1603.2 1576.6L1609.9 1580.1L1616.5 1574.9L1623.1 1595.6L1629.8 1596.3L1636.4 1588.7L1643 1602.5L1649.6 1592.1L1656.3 1602.5L1662.9 1592.1L1669.5 1621.4L1676.2 1611.1L1682.8 1604.2L1689.4 1607.6L1696 1596.3L1702.7 1594.9L1709.3 1605.9L1715.9 1616.2L1722.6 1616.9L1729.2 1628.3L1729.2 1666.3L1722.6 1654.9L1715.9 1654.2L1709.3 1643.9L1702.7 1632.9L1696 1634.3L1689.4 1645.6L1682.8 1642.2L1676.2 1649.1L1669.5 1659.4L1662.9 1630.1L1656.3 1640.5L1649.6 1630.1L1643 1640.5L1636.4 1626.7L1629.8 1634.3L1623.1 1633.6L1616.5 1612.9L1609.9 1618.1L1603.2 1614.6L1596.6 1598.9L1590 1598.7L1583.3 1612.7L1576.7 1647.1L1570.1 1674.7L1563.5 1695.4L1556.8 1704L1550.2 1719.5L1543.6 1724.6L1536.9 1757.5L1530.3 1762.6L1523.7 1780.3L1517 1804.4L1510.4 1832.5L1503.8 1818.7L1497.2 1846.3L1490.5 1860L1483.9 1865.2L1477.3 1848L1470.6 1873.8L1464 1864.2Z" fill="#ffa500" fill-opacity="0.27"/>
<path d="M1464 1840.2L1470.6 1848.8L1477.3 1823L1483.9 1840.2L1490.5 1835L1497.2 1821.3L1503.8 1793.7L1510.4 1807.5L1517 1783.4L1523.7 1759.3L1530.3 1750.6L1536.9 1745.5L1543.6 1719.6L1550.2 1714.5L1556.8 1699L1563.5 1690.4L1570.1 1669.7L1576.7 1642.1L1583.3 1607.7L1590 1588.7L1596.6 1582.9L1603.2 1595.6L1609.9 1599.1L1616.5 1593.9L1623.1 1614.6L1629.8 1615.3L1636.4 1607.7L1643 1621.5L1649.6 1611.1L1656.3 1621.5L1662.9 1611.1L1669.5 1640.4L1676.2 1630.1L1682.8 1623.2L1689.4 1626.6L1696 1615.3L1702.7 1613.9L1709.3 1624.9L1715.9 1635.2L1722.6 1635.9L1729.2 1647.3" fill="none" stroke="#ffa500" stroke-width="5.9" stroke-linejoin="round" stroke-linecap="round"/>
<path d="M1464 1840.2h0M1470.6 1848.8h0M1477.3 1823h0M1483.9 1840.2h0M1490.5 1835h0M1497.2 1821.3h0M1503.8 1793.7h0M1510.4 1807.5h0M1517 1783.4h0M1523.7 1759.3h0M1530.3 1750.6h0M1536.9 1745.5h0M1543.6 1719.6h0M1550.2 1714.5h0M1556.8 1699h0M1563.5 1690.4h0M1570.1 1669.7h0M1576.7 1642.1h0M1583.3 1607.7h0M1590 1588.7h0M1596.6 1582.9h0M1603.2 1595.6h0M1609.9 1599.1h0M1616.5 1593.9h0M1623.1 1614.6h0M1629.8 1615.3h0M1636.4 1607.7h0M1643 1621.5h0M1649.6 1611.1h0M1656.3 1621.5h0M1662.9 1611.1h0M1669.5 1640.4h0M1676.2 1630.1h0M1682.8 1623.2h0M1689.4 1626.6h0M1696 1615.3h0M1702.7 1613.9h0M1709.3 1624.9h0M1715.9 1635.2h0M1722.6 1635.9h0M1729.2 1647.3h0" stroke="#ffa500" stroke-width="7" stroke-linecap="round"/>
<line x1="1596.6" y1="1584.9" x2="1596.6" y2="1966" stroke="#a0a0a0" stroke-width="5.2" stroke-dasharray="20 11"/>
<line x1="1445.3" y1="1528.5" x2="1451.3" y2="1528.5" stroke="#333" stroke-width="3.4"/>
<text x="1440.8" y="1536.3" font-family="'Liberation Sans', Arial, Helvetica, sans-serif" font-size="28.5" fill="#595959" text-anchor="end" textLength="10.6" lengthAdjust="spacingAndGlyphs">3</text>
<line x1="1445.3" y1="1674.9" x2="1451.3" y2="1674.9" stroke="#333" stroke-width="3.4"/>
<text x="1440.8" y="1682.7" font-family="'Liberation Sans', Arial, Helvetica, sans-serif" font-size="28.5" fill="#595959" text-anchor="end" textLength="10.6" lengthAdjust="spacingAndGlyphs">2</text>
<line x1="1445.3" y1="1819.5" x2="1451.3" y2="1819.5" stroke="#333" stroke-width="3.4"/>
<text x="1440.8" y="1827.3" font-family="'Liberation Sans', Arial, Helvetica, sans-serif" font-size="28.5" fill="#595959" text-anchor="end" textLength="10.6" lengthAdjust="spacingAndGlyphs">1</text>
<line x1="1445.3" y1="1966" x2="1451.3" y2="1966" stroke="#333" stroke-width="3.4"/>
<text x="1440.8" y="1973.8" font-family="'Liberation Sans', Arial, Helvetica, sans-serif" font-size="28.5" fill="#595959" text-anchor="end" textLength="10.6" lengthAdjust="spacingAndGlyphs">0</text>
<line x1="1464" y1="1992" x2="1464" y2="1999" stroke="#3a3a3a" stroke-width="3.3"/>
<text x="1464" y="2027.5" font-family="'Liberation Sans', Arial, Helvetica, sans-serif" font-size="28.5" fill="#595959" text-anchor="middle" textLength="10.6" lengthAdjust="spacingAndGlyphs">0</text>
<line x1="1530.3" y1="1992" x2="1530.3" y2="1999" stroke="#3a3a3a" stroke-width="3.3"/>
<text x="1530.3" y="2027.5" font-family="'Liberation Sans', Arial, Helvetica, sans-serif" font-size="28.5" fill="#595959" text-anchor="middle" textLength="26.7" lengthAdjust="spacingAndGlyphs">0.5</text>
<line x1="1596.6" y1="1992" x2="1596.6" y2="1999" stroke="#3a3a3a" stroke-width="3.3"/>
<text x="1596.6" y="2027.5" font-family="'Liberation Sans', Arial, Helvetica, sans-serif" font-size="28.5" fill="#595959" text-anchor="middle" textLength="10.6" lengthAdjust="spacingAndGlyphs">1</text>
<line x1="1662.9" y1="1992" x2="1662.9" y2="1999" stroke="#3a3a3a" stroke-width="3.3"/>
<text x="1662.9" y="2027.5" font-family="'Liberation Sans', Arial, Helvetica, sans-serif" font-size="28.5" fill="#595959" text-anchor="middle" textLength="26.7" lengthAdjust="spacingAndGlyphs">1.5</text>
<line x1="1729.2" y1="1992" x2="1729.2" y2="1999" stroke="#3a3a3a" stroke-width="3.3"/>
<text x="1729.2" y="2027.5" font-family="'Liberation Sans', Arial, Helvetica, sans-serif" font-size="28.5" fill="#595959" text-anchor="middle" textLength="10.6" lengthAdjust="spacingAndGlyphs">2</text>
<rect x="1639" y="1477.5" width="15.5" height="21.7" fill="#ffa500" fill-opacity="0.27"/>
<line x1="1639" y1="1488.3" x2="1654.5" y2="1488.3" stroke="#ffa500" stroke-width="6"/>
<circle cx="1646.8" cy="1488.3" r="4.2" fill="#ffa500"/>
<text x="1674" y="1497.5" font-family="'Liberation Serif', 'Times New Roman', Times, serif" font-size="38" fill="#000" font-style="italic" textLength="53" lengthAdjust="spacingAndGlyphs">uxf</text>
<text x="1442" y="1747" font-family="'Liberation Serif', 'Times New Roman', Times, serif" font-size="40" fill="#000" font-style="italic" textLength="48" lengthAdjust="spacingAndGlyphs" transform="rotate(-90 1442 1747)">uxf</text>
<text x="1577" y="2069.8" font-family="'Liberation Serif', 'Times New Roman', Times, serif" font-size="38" fill="#000" textLength="54" lengthAdjust="spacingAndGlyphs">DA</text>
<text x="1424" y="1414.8" font-family="'Liberation Sans', Arial, Helvetica, sans-serif" font-size="33" fill="#000" font-weight="bold">I</text>
</svg></body></html>
